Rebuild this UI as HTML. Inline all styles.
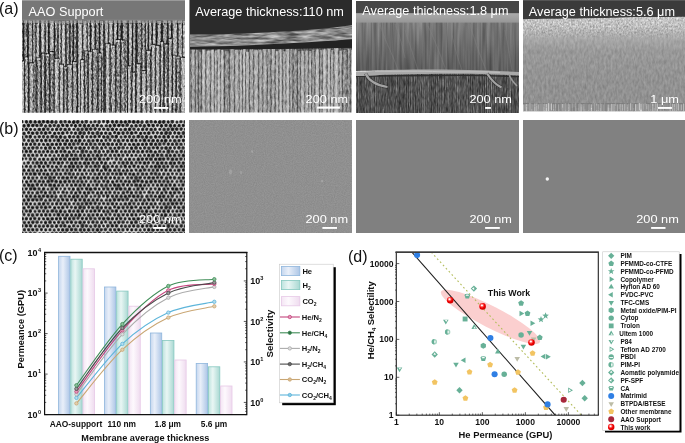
<!DOCTYPE html><html><head><meta charset="utf-8"><style>html,body{margin:0;padding:0;background:#fff;width:685px;height:443px;overflow:hidden}svg{display:block;will-change:transform}text{font-family:"Liberation Sans",sans-serif}</style></head><body>
<svg width="685" height="443" viewBox="0 0 685 443">
<defs>
<filter id="nG1" x="0" y="0" width="100%" height="100%" color-interpolation-filters="sRGB"><feTurbulence type="fractalNoise" baseFrequency="0.8 0.35" numOctaves="2" seed="3"/><feColorMatrix type="matrix" values="2.0 0 0 0 -0.5  2.0 0 0 0 -0.5  2.0 0 0 0 -0.5  0 0 0 0 1"/></filter>
<filter id="nG2" x="0" y="0" width="100%" height="100%" color-interpolation-filters="sRGB"><feTurbulence type="fractalNoise" baseFrequency="0.7 0.2" numOctaves="3" seed="5"/><feColorMatrix type="matrix" values="1.5 0 0 0 -0.25  1.5 0 0 0 -0.25  1.5 0 0 0 -0.25  0 0 0 0 1"/></filter>
<filter id="nG3" x="0" y="0" width="100%" height="100%" color-interpolation-filters="sRGB"><feTurbulence type="fractalNoise" baseFrequency="0.7 0.15" numOctaves="2" seed="7"/><feColorMatrix type="matrix" values="1.2 0 0 0 -0.1  1.2 0 0 0 -0.1  1.2 0 0 0 -0.1  0 0 0 0 1"/></filter>
<filter id="nV3" x="0" y="0" width="100%" height="100%" color-interpolation-filters="sRGB"><feTurbulence type="fractalNoise" baseFrequency="0.4 0.02" numOctaves="2" seed="17"/><feColorMatrix type="matrix" values="1.4 0 0 0 -0.2  1.4 0 0 0 -0.2  1.4 0 0 0 -0.2  0 0 0 0 1"/></filter>
<filter id="nH2" x="0" y="0" width="100%" height="100%" color-interpolation-filters="sRGB"><feTurbulence type="fractalNoise" baseFrequency="0.06 0.5" numOctaves="3" seed="23"/><feColorMatrix type="matrix" values="1.6 0 0 0 -0.3  1.6 0 0 0 -0.3  1.6 0 0 0 -0.3  0 0 0 0 1"/></filter>
<filter id="nG4" x="0" y="0" width="100%" height="100%" color-interpolation-filters="sRGB"><feTurbulence type="fractalNoise" baseFrequency="0.45 0.2" numOctaves="2" seed="9"/><feColorMatrix type="matrix" values="1.3 0 0 0 -0.15  1.3 0 0 0 -0.15  1.3 0 0 0 -0.15  0 0 0 0 1"/></filter>
<filter id="nSpk" x="0" y="0" width="100%" height="100%" color-interpolation-filters="sRGB"><feTurbulence type="fractalNoise" baseFrequency="0.6 0.5" numOctaves="2" seed="4"/><feColorMatrix type="matrix" values="1.3 0 0 0 -0.15  1.3 0 0 0 -0.15  1.3 0 0 0 -0.15  0 0 0 0 1"/></filter>
<filter id="nFine" x="0" y="0" width="100%" height="100%" color-interpolation-filters="sRGB"><feTurbulence type="fractalNoise" baseFrequency="0.9" numOctaves="2" seed="2"/><feColorMatrix type="matrix" values="0.35 0 0 0 0.38  0.35 0 0 0 0.38  0.35 0 0 0 0.38  0 0 0 0 1"/></filter>
<radialGradient id="pg0"><stop offset="0" stop-color="#0e0e0e"/><stop offset="0.55" stop-color="#262626"/><stop offset="1" stop-color="#505050"/></radialGradient>
<radialGradient id="pg1"><stop offset="0" stop-color="#181818"/><stop offset="0.55" stop-color="#303030"/><stop offset="1" stop-color="#5a5a5a"/></radialGradient>
<radialGradient id="pg2"><stop offset="0" stop-color="#080808"/><stop offset="0.55" stop-color="#202020"/><stop offset="1" stop-color="#484848"/></radialGradient>
<pattern id="pores" x="22" y="120" width="86.0" height="74.478" patternUnits="userSpaceOnUse"><rect width="86.0" height="74.478" fill="#e4e4e4"/><polygon points="-0.18,3.51 -1.92,2.70 -1.89,0.70 -0.18,-0.52 1.49,0.73 1.64,2.74" fill="url(#pg2)"/>
<polygon points="85.82,3.83 83.95,2.77 83.92,0.59 85.82,-0.49 87.57,0.68 87.70,2.78" fill="url(#pg2)"/>
<polygon points="4.37,3.92 2.81,2.74 2.62,0.83 4.37,-0.24 6.11,0.84 6.13,2.86" fill="url(#pg0)"/>
<polygon points="8.61,3.88 6.75,2.94 6.82,0.84 8.61,-0.26 10.48,0.79 10.47,2.94" fill="url(#pg0)"/>
<polygon points="13.19,3.87 11.23,2.93 11.50,0.82 13.19,-0.19 14.69,0.93 15.02,2.85" fill="url(#pg2)"/>
<polygon points="17.19,3.93 15.43,3.01 15.47,1.00 17.19,-0.01 19.17,0.85 18.90,2.99" fill="url(#pg2)"/>
<polygon points="21.52,3.66 19.50,2.79 19.65,0.55 21.52,-0.38 23.18,0.67 23.36,2.69" fill="url(#pg0)"/>
<polygon points="25.67,3.91 23.75,3.04 23.63,0.75 25.67,-0.22 27.65,0.79 27.71,3.11" fill="url(#pg2)"/>
<polygon points="29.95,3.89 28.00,2.91 28.27,0.82 29.95,-0.22 31.72,0.76 31.84,2.88" fill="url(#pg2)"/>
<polygon points="34.02,4.23 32.16,3.11 32.29,1.03 34.02,-0.16 35.74,1.04 35.77,3.04" fill="url(#pg1)"/>
<polygon points="38.82,3.93 37.12,2.87 37.20,0.95 38.82,-0.19 40.73,0.79 40.68,2.96" fill="url(#pg0)"/>
<polygon points="43.03,3.75 41.39,2.79 41.26,0.82 43.03,-0.42 44.86,0.79 44.90,2.92" fill="url(#pg1)"/>
<polygon points="47.34,3.81 45.65,2.88 45.55,0.87 47.34,0.01 49.09,0.89 49.13,2.94" fill="url(#pg2)"/>
<polygon points="51.75,4.31 49.68,3.11 50.08,0.96 51.75,-0.13 53.67,0.81 53.62,3.00" fill="url(#pg2)"/>
<polygon points="55.73,4.13 53.76,2.96 53.95,0.79 55.73,-0.30 57.77,0.64 57.50,2.84" fill="url(#pg0)"/>
<polygon points="60.27,3.88 58.77,2.89 58.51,1.00 60.27,0.12 61.74,1.17 61.81,2.91" fill="url(#pg2)"/>
<polygon points="64.28,3.91 62.48,2.75 62.25,0.54 64.28,-0.43 66.24,0.58 66.13,2.77" fill="url(#pg1)"/>
<polygon points="68.93,3.98 67.40,3.01 67.45,1.27 68.93,0.23 70.37,1.29 70.54,3.05" fill="url(#pg1)"/>
<polygon points="72.97,3.45 71.18,2.74 71.24,0.71 72.97,-0.03 74.85,0.63 74.55,2.62" fill="url(#pg1)"/>
<polygon points="77.22,4.17 75.38,2.90 75.33,0.75 77.22,-0.23 78.97,0.83 78.88,2.80" fill="url(#pg1)"/>
<polygon points="81.46,3.36 79.86,2.44 79.85,0.58 81.46,-0.34 83.25,0.48 83.20,2.51" fill="url(#pg1)"/>
<polygon points="85.80,4.17 84.08,2.93 84.32,1.09 85.80,-0.19 87.57,0.92 87.62,2.99" fill="url(#pg2)"/>
<polygon points="2.10,7.88 0.35,6.77 0.48,4.82 2.10,3.65 3.77,4.79 3.79,6.73" fill="url(#pg2)"/>
<polygon points="88.10,7.75 86.38,6.75 86.45,4.80 88.10,3.71 89.79,4.78 89.86,6.77" fill="url(#pg2)"/>
<polygon points="6.52,7.67 4.67,6.53 4.52,4.30 6.52,3.19 8.38,4.39 8.37,6.53" fill="url(#pg0)"/>
<polygon points="10.81,7.48 8.95,6.50 9.10,4.44 10.81,3.41 12.90,4.22 12.56,6.43" fill="url(#pg2)"/>
<polygon points="14.94,7.52 13.29,6.45 12.98,4.37 14.94,3.58 16.67,4.50 16.79,6.57" fill="url(#pg0)"/>
<polygon points="19.21,7.29 17.08,6.45 17.54,4.25 19.21,2.85 21.20,4.07 21.01,6.25" fill="url(#pg1)"/>
<polygon points="23.62,7.91 21.89,7.01 22.01,5.07 23.62,4.05 25.25,5.07 25.42,7.05" fill="url(#pg1)"/>
<polygon points="27.98,7.74 26.44,6.58 26.12,4.62 27.98,3.68 29.68,4.72 29.95,6.83" fill="url(#pg0)"/>
<polygon points="32.27,7.56 30.57,6.46 30.39,4.39 32.27,3.63 34.04,4.46 33.88,6.40" fill="url(#pg1)"/>
<polygon points="36.40,7.89 34.38,6.94 34.66,4.77 36.40,3.75 38.36,4.64 38.28,6.86" fill="url(#pg1)"/>
<polygon points="40.74,7.37 39.20,6.22 38.92,4.29 40.74,3.19 42.41,4.37 42.67,6.45" fill="url(#pg2)"/>
<polygon points="45.17,7.66 43.41,6.43 43.24,4.29 45.17,3.50 46.83,4.46 47.01,6.47" fill="url(#pg2)"/>
<polygon points="49.39,7.15 47.72,6.23 47.94,4.43 49.39,3.53 51.01,4.33 51.02,6.21" fill="url(#pg1)"/>
<polygon points="53.43,8.06 51.77,6.65 51.69,4.69 53.43,3.60 55.23,4.65 55.26,6.75" fill="url(#pg2)"/>
<polygon points="58.04,7.55 56.31,6.46 56.16,4.38 58.04,3.30 59.86,4.41 59.76,6.47" fill="url(#pg0)"/>
<polygon points="62.36,7.85 60.56,6.77 60.57,4.70 62.36,3.34 64.29,4.62 64.32,6.87" fill="url(#pg0)"/>
<polygon points="66.57,7.60 64.94,6.58 64.99,4.72 66.57,3.66 68.44,4.56 68.38,6.67" fill="url(#pg0)"/>
<polygon points="71.05,7.52 69.18,6.65 69.56,4.71 71.05,3.54 72.77,4.58 72.82,6.59" fill="url(#pg0)"/>
<polygon points="75.22,7.33 73.62,6.43 73.58,4.55 75.22,3.50 76.92,4.52 76.93,6.49" fill="url(#pg2)"/>
<polygon points="79.44,7.73 77.69,6.87 77.71,4.85 79.44,3.85 81.09,4.90 81.28,6.91" fill="url(#pg1)"/>
<polygon points="84.14,7.54 82.42,6.65 82.58,4.75 84.14,3.85 85.95,4.61 85.95,6.69" fill="url(#pg1)"/>
<polygon points="88.19,7.67 86.49,6.65 86.22,4.53 88.19,3.41 89.87,4.70 89.80,6.59" fill="url(#pg1)"/>
<polygon points="0.13,11.51 -1.72,10.54 -1.50,8.53 0.13,7.47 1.74,8.54 1.82,10.45" fill="url(#pg1)"/>
<polygon points="86.13,11.33 84.47,10.43 84.29,8.41 86.13,7.39 87.82,8.50 88.16,10.64" fill="url(#pg1)"/>
<polygon points="4.41,11.45 2.58,10.39 2.59,8.28 4.41,7.21 6.31,8.23 6.14,10.33" fill="url(#pg0)"/>
<polygon points="8.60,11.13 6.98,10.24 7.10,8.44 8.60,7.60 10.16,8.40 10.12,10.18" fill="url(#pg2)"/>
<polygon points="12.85,11.42 11.19,10.48 11.26,8.60 12.85,7.60 14.44,8.60 14.53,10.48" fill="url(#pg1)"/>
<polygon points="17.16,11.38 15.39,10.34 15.47,8.34 17.16,7.48 19.04,8.23 19.11,10.44" fill="url(#pg0)"/>
<polygon points="21.65,11.47 19.76,10.35 19.79,8.18 21.65,7.22 23.47,8.20 23.43,10.28" fill="url(#pg2)"/>
<polygon points="26.00,11.11 24.31,10.16 24.11,8.10 26.00,7.21 27.66,8.23 27.73,10.19" fill="url(#pg1)"/>
<polygon points="30.32,11.46 28.71,10.44 28.74,8.60 30.32,7.52 31.99,8.55 31.96,10.46" fill="url(#pg1)"/>
<polygon points="34.68,11.34 32.88,10.41 32.94,8.36 34.68,7.25 36.45,8.34 36.34,10.33" fill="url(#pg0)"/>
<polygon points="38.74,11.33 37.02,10.19 37.22,8.33 38.74,7.23 40.58,8.14 40.22,10.05" fill="url(#pg0)"/>
<polygon points="43.08,11.44 41.29,10.56 41.32,8.51 43.08,7.44 44.87,8.49 44.91,10.59" fill="url(#pg0)"/>
<polygon points="47.20,11.23 45.47,10.37 45.67,8.49 47.20,7.32 48.84,8.43 48.89,10.35" fill="url(#pg0)"/>
<polygon points="51.85,11.02 50.23,10.26 50.20,8.38 51.85,7.61 53.54,8.35 53.51,10.29" fill="url(#pg0)"/>
<polygon points="56.05,11.56 54.17,10.52 54.33,8.44 56.05,7.24 57.89,8.37 57.93,10.52" fill="url(#pg1)"/>
<polygon points="60.19,11.41 58.38,10.31 58.44,8.26 60.19,7.20 61.86,8.30 61.96,10.29" fill="url(#pg1)"/>
<polygon points="64.50,11.40 62.57,10.34 62.45,8.05 64.50,7.10 66.64,7.99 66.43,10.35" fill="url(#pg0)"/>
<polygon points="68.76,11.15 67.02,10.21 66.90,8.12 68.76,7.04 70.64,8.11 70.54,10.22" fill="url(#pg0)"/>
<polygon points="73.14,11.08 71.42,10.06 71.36,8.05 73.14,7.02 75.00,7.99 74.65,9.95" fill="url(#pg0)"/>
<polygon points="77.32,11.21 75.69,10.18 75.60,8.25 77.32,7.37 78.94,8.30 79.06,10.25" fill="url(#pg1)"/>
<polygon points="81.69,10.80 79.94,10.15 80.01,8.17 81.69,7.28 83.26,8.24 83.56,10.22" fill="url(#pg0)"/>
<polygon points="85.84,11.26 84.52,10.11 84.31,8.46 85.84,7.56 87.41,8.45 87.48,10.29" fill="url(#pg0)"/>
<polygon points="2.01,15.62 0.21,14.46 0.19,12.38 2.01,11.41 3.78,12.40 3.86,14.50" fill="url(#pg0)"/>
<polygon points="88.01,15.59 86.25,14.44 86.34,12.47 88.01,11.32 89.87,12.35 89.75,14.43" fill="url(#pg0)"/>
<polygon points="6.55,14.44 4.99,13.68 4.98,11.87 6.55,10.75 8.34,11.74 8.16,13.71" fill="url(#pg0)"/>
<polygon points="10.75,15.08 8.73,14.23 8.91,12.00 10.75,11.19 12.43,12.10 12.56,14.11" fill="url(#pg2)"/>
<polygon points="14.99,15.27 13.33,13.98 13.20,11.99 14.99,10.90 16.88,11.93 16.77,14.05" fill="url(#pg0)"/>
<polygon points="19.38,14.93 17.59,14.01 17.72,12.02 19.38,10.79 21.01,12.04 21.11,13.97" fill="url(#pg1)"/>
<polygon points="23.60,15.21 21.61,14.16 21.76,11.96 23.60,10.90 25.50,11.92 25.59,14.16" fill="url(#pg2)"/>
<polygon points="27.99,14.41 26.23,13.82 26.13,11.73 27.99,10.91 29.62,11.87 29.65,13.76" fill="url(#pg2)"/>
<polygon points="32.58,15.33 30.96,14.17 30.94,12.29 32.58,11.30 34.30,12.24 34.37,14.27" fill="url(#pg2)"/>
<polygon points="36.64,14.92 35.09,13.97 35.00,12.12 36.64,11.31 38.33,12.09 38.44,14.11" fill="url(#pg0)"/>
<polygon points="40.79,15.10 38.95,14.22 39.02,12.13 40.79,10.94 42.61,12.10 42.63,14.21" fill="url(#pg2)"/>
<polygon points="45.26,14.76 43.61,13.76 43.60,11.84 45.26,10.79 46.73,11.95 46.80,13.69" fill="url(#pg0)"/>
<polygon points="49.33,14.89 47.86,13.74 47.68,11.94 49.33,10.97 51.10,11.87 50.81,13.74" fill="url(#pg1)"/>
<polygon points="53.51,15.05 51.61,14.14 51.84,12.08 53.51,11.05 55.26,12.04 55.33,14.10" fill="url(#pg0)"/>
<polygon points="58.08,15.31 55.98,14.12 56.34,11.90 58.08,10.73 60.23,11.66 59.90,13.96" fill="url(#pg0)"/>
<polygon points="62.08,15.27 60.18,14.16 60.20,11.98 62.08,10.92 63.93,11.99 64.07,14.21" fill="url(#pg1)"/>
<polygon points="66.66,14.80 65.05,13.77 65.22,12.01 66.66,10.75 68.29,11.90 68.38,13.83" fill="url(#pg0)"/>
<polygon points="70.93,15.09 69.11,14.13 68.92,11.92 70.93,11.26 72.71,12.05 72.63,14.06" fill="url(#pg0)"/>
<polygon points="75.41,15.33 73.37,14.15 73.37,11.80 75.41,10.71 77.50,11.76 77.43,14.14" fill="url(#pg1)"/>
<polygon points="79.38,15.31 77.61,14.27 77.79,12.34 79.38,11.15 81.15,12.23 81.02,14.20" fill="url(#pg0)"/>
<polygon points="83.81,14.96 82.03,14.23 82.05,12.19 83.81,11.21 85.48,12.23 85.43,14.14" fill="url(#pg2)"/>
<polygon points="88.19,15.25 86.41,14.18 86.35,12.09 88.19,11.06 90.07,12.07 89.92,14.15" fill="url(#pg2)"/>
<polygon points="-0.26,19.16 -2.27,18.14 -2.10,15.93 -0.26,14.89 1.58,15.92 1.56,18.04" fill="url(#pg0)"/>
<polygon points="85.74,19.23 84.00,17.99 83.82,15.88 85.74,14.80 87.59,15.92 87.68,18.11" fill="url(#pg0)"/>
<polygon points="4.27,18.54 2.63,17.64 2.54,15.69 4.27,14.66 6.13,15.63 6.18,17.80" fill="url(#pg1)"/>
<polygon points="8.30,18.87 6.43,17.84 6.44,15.68 8.30,14.38 10.22,15.65 10.01,17.74" fill="url(#pg2)"/>
<polygon points="13.06,18.92 11.49,17.82 11.46,15.99 13.06,15.02 14.59,16.03 14.67,17.84" fill="url(#pg1)"/>
<polygon points="17.23,18.74 15.56,17.67 15.43,15.67 17.23,14.80 19.06,15.65 18.96,17.70" fill="url(#pg0)"/>
<polygon points="21.56,18.85 19.78,17.73 19.71,15.63 21.56,14.53 23.32,15.69 23.20,17.65" fill="url(#pg1)"/>
<polygon points="25.73,18.89 24.00,17.91 24.03,15.93 25.73,14.88 27.54,15.86 27.42,17.89" fill="url(#pg1)"/>
<polygon points="30.35,18.67 28.26,17.78 28.37,15.44 30.35,14.51 32.21,15.50 32.27,17.69" fill="url(#pg0)"/>
<polygon points="34.30,18.89 32.37,17.95 32.46,15.77 34.30,14.78 36.12,15.78 35.99,17.81" fill="url(#pg1)"/>
<polygon points="38.63,19.01 36.79,17.94 36.78,15.80 38.63,14.67 40.45,15.82 40.39,17.89" fill="url(#pg2)"/>
<polygon points="42.91,19.23 41.12,18.04 41.28,16.07 42.91,15.03 44.68,15.98 44.83,18.12" fill="url(#pg1)"/>
<polygon points="47.53,18.90 45.91,17.58 45.72,15.61 47.53,14.67 49.37,15.59 49.45,17.76" fill="url(#pg2)"/>
<polygon points="51.74,18.70 49.90,17.90 49.93,15.79 51.74,14.78 53.39,15.88 53.39,17.78" fill="url(#pg1)"/>
<polygon points="55.99,18.83 54.13,17.85 54.19,15.73 55.99,14.73 57.71,15.78 57.79,17.81" fill="url(#pg2)"/>
<polygon points="60.31,18.93 58.54,17.76 58.54,15.71 60.31,14.66 62.05,15.73 62.13,17.78" fill="url(#pg2)"/>
<polygon points="64.73,18.77 63.21,17.58 63.22,15.83 64.73,14.91 66.43,15.72 66.29,17.60" fill="url(#pg1)"/>
<polygon points="68.92,18.68 67.20,17.87 67.24,15.90 68.92,14.96 70.59,15.91 70.59,17.84" fill="url(#pg2)"/>
<polygon points="72.90,18.68 71.17,17.67 71.21,15.70 72.90,14.76 74.71,15.63 74.65,17.69" fill="url(#pg2)"/>
<polygon points="77.21,18.47 75.50,17.49 75.54,15.54 77.21,14.57 79.01,15.47 78.87,17.46" fill="url(#pg2)"/>
<polygon points="81.74,18.91 80.11,17.79 80.01,15.85 81.74,14.83 83.40,15.89 83.68,17.97" fill="url(#pg2)"/>
<polygon points="86.02,18.85 84.41,17.75 84.24,15.80 86.02,14.89 87.79,15.80 87.80,17.85" fill="url(#pg1)"/>
<polygon points="2.10,22.20 0.39,21.12 0.37,19.13 2.10,17.97 3.63,19.25 3.80,21.11" fill="url(#pg1)"/>
<polygon points="88.10,21.98 86.41,21.11 86.52,19.21 88.10,18.01 89.89,19.10 89.78,21.10" fill="url(#pg1)"/>
<polygon points="6.54,22.62 5.08,21.39 4.91,19.61 6.54,18.50 8.26,19.56 8.14,21.48" fill="url(#pg1)"/>
<polygon points="10.68,22.97 8.93,21.74 8.55,19.50 10.68,18.48 12.44,19.72 12.65,21.86" fill="url(#pg1)"/>
<polygon points="15.03,22.36 13.39,21.31 13.28,19.35 15.03,18.66 17.03,19.21 16.67,21.31" fill="url(#pg0)"/>
<polygon points="19.38,22.62 17.83,21.41 17.67,19.53 19.38,18.49 21.08,19.54 21.18,21.56" fill="url(#pg0)"/>
<polygon points="23.84,22.58 22.15,21.49 22.01,19.46 23.84,18.40 25.63,19.48 25.62,21.54" fill="url(#pg2)"/>
<polygon points="28.05,22.57 26.34,21.42 26.40,19.48 28.05,18.41 29.50,19.59 29.68,21.37" fill="url(#pg2)"/>
<polygon points="32.16,22.27 30.67,21.39 30.69,19.68 32.16,18.67 33.89,19.53 33.68,21.40" fill="url(#pg1)"/>
<polygon points="36.49,22.49 34.54,21.51 34.44,19.19 36.49,18.22 38.34,19.31 38.43,21.50" fill="url(#pg2)"/>
<polygon points="40.85,22.23 39.15,21.35 39.18,19.40 40.85,18.82 42.50,19.41 42.44,21.29" fill="url(#pg2)"/>
<polygon points="44.99,22.71 43.10,21.58 43.31,19.53 44.99,18.55 46.90,19.39 46.95,21.63" fill="url(#pg2)"/>
<polygon points="49.61,22.73 47.98,21.54 47.89,19.61 49.61,18.58 51.38,19.58 51.25,21.55" fill="url(#pg0)"/>
<polygon points="53.67,22.56 52.13,21.54 52.20,19.80 53.67,18.61 55.32,19.70 55.33,21.61" fill="url(#pg2)"/>
<polygon points="57.70,22.95 55.73,21.83 55.82,19.61 57.70,18.39 59.77,19.49 59.47,21.72" fill="url(#pg2)"/>
<polygon points="62.41,22.35 60.64,21.59 60.94,19.72 62.41,18.69 63.90,19.71 63.92,21.44" fill="url(#pg1)"/>
<polygon points="66.74,22.86 64.80,21.75 64.84,19.53 66.74,18.54 68.65,19.53 68.72,21.77" fill="url(#pg1)"/>
<polygon points="71.02,22.69 69.39,21.71 69.21,19.73 71.02,18.71 72.84,19.72 72.62,21.70" fill="url(#pg0)"/>
<polygon points="75.34,22.50 73.68,21.39 73.49,19.36 75.34,18.40 77.14,19.39 76.97,21.37" fill="url(#pg2)"/>
<polygon points="79.48,22.49 77.87,21.50 77.87,19.64 79.48,18.80 81.08,19.65 81.07,21.49" fill="url(#pg2)"/>
<polygon points="83.86,22.35 82.34,21.29 82.19,19.45 83.86,18.30 85.53,19.44 85.52,21.37" fill="url(#pg1)"/>
<polygon points="87.94,22.67 86.42,21.46 86.27,19.62 87.94,18.54 89.46,19.71 89.62,21.55" fill="url(#pg2)"/>
<polygon points="0.23,26.36 -1.61,25.22 -1.65,23.07 0.23,22.06 2.02,23.12 2.10,25.24" fill="url(#pg0)"/>
<polygon points="86.23,26.45 84.58,25.11 84.33,23.06 86.23,22.01 88.08,23.09 88.04,25.20" fill="url(#pg0)"/>
<polygon points="4.37,26.23 2.53,25.34 2.61,23.26 4.37,22.12 6.13,23.26 6.02,25.23" fill="url(#pg0)"/>
<polygon points="8.69,26.20 7.00,25.24 7.18,23.39 8.69,22.34 10.13,23.44 10.27,25.18" fill="url(#pg2)"/>
<polygon points="12.80,25.98 11.01,25.03 11.07,23.00 12.80,22.16 14.59,22.97 14.55,25.01" fill="url(#pg0)"/>
<polygon points="17.15,26.30 15.47,25.24 15.64,23.40 17.15,22.26 18.73,23.35 18.70,25.17" fill="url(#pg0)"/>
<polygon points="21.56,26.19 19.90,25.36 19.74,23.35 21.56,22.50 23.06,23.53 23.37,25.45" fill="url(#pg0)"/>
<polygon points="25.78,26.43 24.05,25.40 23.91,23.32 25.78,22.61 27.50,23.41 27.72,25.52" fill="url(#pg2)"/>
<polygon points="30.12,26.40 28.29,25.40 28.34,23.32 30.12,22.32 32.02,23.24 31.99,25.43" fill="url(#pg2)"/>
<polygon points="34.46,26.32 32.73,25.33 32.76,23.34 34.46,22.35 36.21,23.32 36.07,25.26" fill="url(#pg2)"/>
<polygon points="38.44,26.23 36.76,25.15 36.75,23.20 38.44,22.06 40.07,23.24 40.08,25.12" fill="url(#pg2)"/>
<polygon points="43.18,26.20 41.37,25.22 41.06,22.95 43.18,22.00 45.11,23.06 44.92,25.18" fill="url(#pg2)"/>
<polygon points="47.60,26.36 45.76,25.38 45.89,23.34 47.60,22.04 49.37,23.30 49.40,25.36" fill="url(#pg0)"/>
<polygon points="51.83,26.25 50.00,25.21 49.85,23.01 51.83,21.88 53.62,23.12 53.65,25.21" fill="url(#pg1)"/>
<polygon points="55.89,25.81 54.28,24.83 54.25,22.95 55.89,21.82 57.71,22.85 57.71,24.95" fill="url(#pg1)"/>
<polygon points="60.29,26.16 58.62,25.08 58.62,23.15 60.29,22.14 62.02,23.12 61.83,25.00" fill="url(#pg2)"/>
<polygon points="64.42,26.15 62.61,25.23 62.77,23.24 64.42,22.17 66.06,23.24 66.17,25.20" fill="url(#pg0)"/>
<polygon points="68.74,26.20 66.78,25.16 66.98,23.02 68.74,21.82 70.56,22.98 70.53,25.07" fill="url(#pg1)"/>
<polygon points="73.12,25.99 71.27,25.22 71.17,23.03 73.12,22.27 74.68,23.25 74.97,25.22" fill="url(#pg1)"/>
<polygon points="77.48,26.03 75.77,25.19 75.68,23.17 77.48,22.17 79.23,23.20 79.19,25.19" fill="url(#pg1)"/>
<polygon points="81.58,26.26 79.78,25.27 79.83,23.22 81.58,22.10 83.42,23.17 83.48,25.33" fill="url(#pg2)"/>
<polygon points="85.89,25.90 84.14,24.93 84.24,22.97 85.89,22.00 87.75,22.85 87.76,25.00" fill="url(#pg0)"/>
<polygon points="2.45,30.08 0.65,29.13 0.38,26.90 2.45,26.22 4.19,27.09 4.31,29.17" fill="url(#pg1)"/>
<polygon points="88.45,30.14 86.65,29.14 86.72,27.10 88.45,26.23 90.36,27.00 90.33,29.19" fill="url(#pg1)"/>
<polygon points="6.68,29.88 5.25,28.98 5.17,27.27 6.68,26.32 8.40,27.16 8.17,29.00" fill="url(#pg2)"/>
<polygon points="10.89,29.98 9.16,28.87 8.96,26.76 10.89,25.74 12.85,26.74 12.57,28.85" fill="url(#pg0)"/>
<polygon points="15.02,29.75 13.18,28.75 13.20,26.64 15.02,25.72 16.89,26.61 16.94,28.79" fill="url(#pg1)"/>
<polygon points="19.35,29.47 17.64,28.90 18.03,27.15 19.35,26.13 20.87,27.03 20.74,28.71" fill="url(#pg1)"/>
<polygon points="23.58,30.17 21.91,29.03 21.84,27.05 23.58,25.95 25.28,27.08 25.28,29.04" fill="url(#pg2)"/>
<polygon points="27.97,29.87 26.05,29.00 26.11,26.82 27.97,25.57 29.90,26.78 29.92,29.02" fill="url(#pg0)"/>
<polygon points="32.35,29.81 30.95,28.91 30.73,27.17 32.35,26.38 33.84,27.25 34.02,29.07" fill="url(#pg2)"/>
<polygon points="36.60,29.72 34.95,28.69 35.05,26.85 36.60,25.81 38.39,26.71 38.37,28.77" fill="url(#pg0)"/>
<polygon points="40.94,30.24 39.12,28.99 38.98,26.81 40.94,25.95 42.70,26.92 42.86,29.05" fill="url(#pg1)"/>
<polygon points="45.27,29.65 43.67,28.76 43.49,26.81 45.27,25.88 46.93,26.88 46.98,28.82" fill="url(#pg0)"/>
<polygon points="49.42,29.79 47.73,28.79 47.51,26.71 49.42,25.77 51.20,26.79 51.22,28.85" fill="url(#pg2)"/>
<polygon points="53.87,30.11 52.14,29.05 52.08,27.02 53.87,26.13 55.79,26.95 55.36,28.92" fill="url(#pg1)"/>
<polygon points="58.10,30.04 56.13,29.05 56.22,26.82 58.10,25.83 59.87,26.89 59.91,28.95" fill="url(#pg2)"/>
<polygon points="62.22,29.75 60.47,28.78 60.47,26.76 62.22,26.07 64.00,26.75 63.81,28.70" fill="url(#pg2)"/>
<polygon points="66.70,30.00 65.13,28.62 65.00,26.73 66.70,25.80 68.22,26.84 68.15,28.55" fill="url(#pg1)"/>
<polygon points="71.02,29.74 69.08,28.87 69.18,26.69 71.02,25.69 72.84,26.70 72.67,28.70" fill="url(#pg0)"/>
<polygon points="74.99,29.87 73.26,28.87 73.36,26.92 74.99,25.76 76.82,26.81 76.95,28.99" fill="url(#pg1)"/>
<polygon points="79.62,30.12 78.02,28.94 78.05,27.11 79.62,25.92 81.13,27.15 81.25,28.96" fill="url(#pg0)"/>
<polygon points="83.65,29.34 82.17,28.56 81.98,26.73 83.65,25.67 85.29,26.76 85.36,28.69" fill="url(#pg1)"/>
<polygon points="87.95,30.52 85.96,29.53 86.20,27.37 87.95,26.24 89.75,27.34 89.65,29.36" fill="url(#pg0)"/>
<polygon points="-0.10,33.53 -1.87,32.51 -1.97,30.40 -0.10,29.46 1.78,30.40 1.76,32.56" fill="url(#pg1)"/>
<polygon points="85.90,33.52 84.08,32.54 83.99,30.38 85.90,29.18 87.65,30.47 87.79,32.58" fill="url(#pg1)"/>
<polygon points="4.30,33.44 2.59,32.53 2.46,30.49 4.30,29.39 6.11,30.50 6.09,32.58" fill="url(#pg2)"/>
<polygon points="8.62,33.48 6.60,32.63 6.75,30.39 8.62,29.38 10.43,30.42 10.41,32.50" fill="url(#pg0)"/>
<polygon points="13.35,33.54 11.76,32.52 11.98,30.81 13.35,29.71 14.99,30.66 14.91,32.50" fill="url(#pg0)"/>
<polygon points="17.39,33.69 15.64,32.65 15.66,30.64 17.39,29.83 19.15,30.62 19.17,32.67" fill="url(#pg1)"/>
<polygon points="21.50,33.73 19.66,32.65 19.83,30.63 21.50,29.69 23.19,30.62 23.28,32.63" fill="url(#pg1)"/>
<polygon points="25.72,33.44 23.99,32.50 24.03,30.53 25.72,29.57 27.41,30.53 27.36,32.45" fill="url(#pg2)"/>
<polygon points="29.98,33.78 28.07,32.77 28.22,30.65 29.98,29.54 31.80,30.61 31.96,32.81" fill="url(#pg1)"/>
<polygon points="34.58,33.75 32.54,32.79 32.89,30.63 34.58,29.49 36.41,30.56 36.26,32.58" fill="url(#pg2)"/>
<polygon points="38.83,33.46 37.28,32.46 37.18,30.62 38.83,29.55 40.80,30.43 40.45,32.50" fill="url(#pg0)"/>
<polygon points="42.88,33.50 40.98,32.59 41.15,30.50 42.88,29.32 44.65,30.48 44.79,32.60" fill="url(#pg0)"/>
<polygon points="47.28,33.83 45.50,32.94 45.68,30.98 47.28,30.08 48.90,30.97 49.06,32.94" fill="url(#pg2)"/>
<polygon points="51.59,33.35 49.90,32.49 49.81,30.48 51.59,29.45 53.49,30.41 53.52,32.62" fill="url(#pg1)"/>
<polygon points="55.83,33.39 54.29,32.55 54.28,30.76 55.83,30.16 57.24,30.85 57.41,32.57" fill="url(#pg0)"/>
<polygon points="60.37,34.12 58.34,32.68 58.30,30.31 60.37,28.89 62.45,30.31 62.48,32.73" fill="url(#pg1)"/>
<polygon points="64.46,33.55 62.66,32.59 62.49,30.41 64.46,29.66 66.36,30.45 66.28,32.60" fill="url(#pg1)"/>
<polygon points="68.84,33.90 67.09,32.88 67.07,30.84 68.84,29.97 70.37,30.98 70.57,32.86" fill="url(#pg1)"/>
<polygon points="73.19,33.69 71.32,32.39 71.41,30.29 73.19,29.20 75.10,30.21 75.05,32.39" fill="url(#pg1)"/>
<polygon points="77.32,33.92 75.48,32.76 75.59,30.70 77.32,29.36 79.06,30.70 78.99,32.66" fill="url(#pg1)"/>
<polygon points="81.57,33.30 80.08,32.39 79.95,30.60 81.57,29.74 82.99,30.71 83.05,32.39" fill="url(#pg0)"/>
<polygon points="85.93,33.72 84.39,32.84 84.37,31.06 85.93,29.96 87.55,31.02 87.40,32.81" fill="url(#pg0)"/>
<polygon points="2.22,37.34 0.54,36.33 0.58,34.42 2.22,33.38 3.99,34.34 4.03,36.41" fill="url(#pg1)"/>
<polygon points="88.22,37.53 86.36,36.44 86.68,34.47 88.22,33.51 89.84,34.42 89.85,36.30" fill="url(#pg1)"/>
<polygon points="6.63,37.33 5.04,36.28 4.84,34.33 6.63,33.47 8.48,34.29 8.46,36.42" fill="url(#pg1)"/>
<polygon points="10.73,37.24 9.15,36.22 9.00,34.31 10.73,33.37 12.41,34.34 12.58,36.37" fill="url(#pg2)"/>
<polygon points="14.96,37.41 13.16,36.36 13.24,34.32 14.96,33.33 16.62,34.36 16.75,36.35" fill="url(#pg1)"/>
<polygon points="19.36,36.92 17.80,36.05 17.90,34.31 19.36,33.37 20.89,34.27 21.01,36.11" fill="url(#pg2)"/>
<polygon points="23.71,37.35 22.16,36.33 22.13,34.52 23.71,33.62 25.25,34.54 25.30,36.35" fill="url(#pg2)"/>
<polygon points="28.01,36.92 26.20,36.37 26.45,34.41 28.01,33.47 29.57,34.42 29.69,36.28" fill="url(#pg0)"/>
<polygon points="32.29,37.45 30.65,36.60 30.66,34.71 32.29,33.72 33.75,34.81 33.80,36.52" fill="url(#pg1)"/>
<polygon points="36.52,37.22 34.95,36.17 34.99,34.38 36.52,33.55 38.22,34.28 38.12,36.19" fill="url(#pg1)"/>
<polygon points="40.79,37.39 39.01,36.45 39.00,34.39 40.79,33.29 42.49,34.45 42.53,36.43" fill="url(#pg2)"/>
<polygon points="45.01,37.67 43.09,36.49 43.08,34.27 45.01,33.27 46.96,34.26 46.88,36.46" fill="url(#pg0)"/>
<polygon points="49.50,37.26 47.74,36.26 47.72,34.21 49.50,33.10 51.45,34.11 51.32,36.29" fill="url(#pg0)"/>
<polygon points="53.75,37.25 51.94,36.34 51.76,34.15 53.75,33.10 55.64,34.20 55.72,36.43" fill="url(#pg1)"/>
<polygon points="58.35,37.51 56.56,36.49 56.62,34.46 58.35,33.23 60.26,34.36 60.13,36.48" fill="url(#pg1)"/>
<polygon points="62.33,37.43 60.76,36.44 60.53,34.50 62.33,33.48 63.97,34.59 63.89,36.43" fill="url(#pg0)"/>
<polygon points="66.63,37.61 64.77,36.59 64.71,34.41 66.63,33.15 68.40,34.50 68.58,36.65" fill="url(#pg0)"/>
<polygon points="71.09,37.49 69.40,36.33 69.33,34.34 71.09,33.35 72.83,34.36 72.59,36.22" fill="url(#pg1)"/>
<polygon points="75.33,37.52 73.47,36.58 73.48,34.43 75.33,33.32 77.11,34.47 77.27,36.62" fill="url(#pg2)"/>
<polygon points="79.20,37.27 77.63,36.25 77.50,34.36 79.20,33.43 81.14,34.23 80.84,36.29" fill="url(#pg1)"/>
<polygon points="83.38,37.04 81.49,36.31 81.56,34.17 83.38,32.97 85.33,34.10 85.19,36.27" fill="url(#pg1)"/>
<polygon points="88.19,37.08 86.54,36.06 86.35,34.05 88.19,33.09 90.04,34.04 90.07,36.19" fill="url(#pg0)"/>
<polygon points="0.12,40.82 -1.56,39.89 -1.60,37.92 0.12,36.96 1.93,37.87 1.73,39.85" fill="url(#pg2)"/>
<polygon points="86.12,41.00 84.29,39.97 84.41,37.93 86.12,36.71 87.67,38.02 87.77,39.87" fill="url(#pg2)"/>
<polygon points="4.09,40.37 2.67,39.47 2.56,37.76 4.09,36.94 5.57,37.79 5.42,39.41" fill="url(#pg1)"/>
<polygon points="8.36,41.13 6.55,40.00 6.59,37.94 8.36,36.81 10.18,37.91 10.19,40.02" fill="url(#pg1)"/>
<polygon points="12.73,41.19 11.01,40.09 10.89,38.04 12.73,37.03 14.61,38.01 14.57,40.16" fill="url(#pg1)"/>
<polygon points="17.50,41.06 15.91,40.17 16.05,38.41 17.50,37.39 19.23,38.25 19.05,40.14" fill="url(#pg1)"/>
<polygon points="21.60,41.25 19.94,40.20 19.81,38.20 21.60,37.30 23.36,38.22 23.19,40.15" fill="url(#pg2)"/>
<polygon points="25.79,41.26 24.22,40.10 24.21,38.27 25.79,37.38 27.53,38.18 27.48,40.17" fill="url(#pg1)"/>
<polygon points="30.23,41.52 28.50,40.30 28.52,38.32 30.23,37.11 31.97,38.29 32.01,40.33" fill="url(#pg2)"/>
<polygon points="34.23,41.24 32.50,40.05 32.52,38.07 34.23,36.98 36.16,37.94 35.93,40.04" fill="url(#pg0)"/>
<polygon points="38.66,40.90 36.77,40.04 36.85,37.90 38.66,36.95 40.49,37.89 40.37,39.94" fill="url(#pg2)"/>
<polygon points="42.93,41.10 41.06,40.11 40.93,37.88 42.93,36.95 44.84,37.93 44.93,40.19" fill="url(#pg0)"/>
<polygon points="47.64,41.26 46.01,40.12 45.79,38.11 47.64,37.14 49.59,38.06 49.32,40.15" fill="url(#pg2)"/>
<polygon points="51.81,41.21 49.77,40.23 49.91,37.96 51.81,36.89 53.89,37.85 53.83,40.22" fill="url(#pg2)"/>
<polygon points="55.76,41.19 53.92,40.03 53.80,37.84 55.76,36.94 57.51,37.96 57.43,39.93" fill="url(#pg0)"/>
<polygon points="59.97,40.82 58.27,39.83 58.34,37.91 59.97,36.68 61.75,37.82 61.72,39.86" fill="url(#pg0)"/>
<polygon points="64.53,41.36 62.41,40.31 62.55,37.94 64.53,37.02 66.37,38.02 66.53,40.24" fill="url(#pg0)"/>
<polygon points="68.67,41.28 66.77,40.30 66.93,38.20 68.67,37.28 70.60,38.09 70.26,40.12" fill="url(#pg0)"/>
<polygon points="72.98,40.84 71.16,39.97 71.09,37.83 72.98,36.98 74.83,37.85 74.71,39.93" fill="url(#pg0)"/>
<polygon points="77.44,41.26 75.48,40.09 75.80,38.01 77.44,36.81 79.39,37.83 79.49,40.14" fill="url(#pg2)"/>
<polygon points="81.86,40.99 80.13,40.00 80.21,38.04 81.86,37.18 83.35,38.14 83.75,40.09" fill="url(#pg1)"/>
<polygon points="85.91,41.16 84.26,40.02 83.98,37.95 85.91,37.00 87.77,37.99 87.69,40.09" fill="url(#pg2)"/>
<polygon points="2.22,44.94 0.79,44.00 0.76,42.33 2.22,41.37 3.51,42.43 3.63,43.99" fill="url(#pg1)"/>
<polygon points="88.22,45.07 86.71,44.04 86.79,42.35 88.22,41.57 89.80,42.26 89.58,43.96" fill="url(#pg1)"/>
<polygon points="6.29,44.79 4.58,43.80 4.38,41.72 6.29,40.94 8.20,41.71 7.89,43.74" fill="url(#pg0)"/>
<polygon points="10.86,44.75 9.37,43.69 9.42,42.00 10.86,40.83 12.57,41.84 12.67,43.87" fill="url(#pg1)"/>
<polygon points="15.10,44.98 13.12,43.92 13.21,41.69 15.10,40.63 16.86,41.76 16.90,43.83" fill="url(#pg0)"/>
<polygon points="19.21,44.87 17.46,43.74 17.33,41.65 19.21,40.67 20.90,41.75 21.16,43.86" fill="url(#pg0)"/>
<polygon points="23.63,45.06 21.83,43.89 21.80,41.79 23.63,40.79 25.23,41.93 25.38,43.86" fill="url(#pg0)"/>
<polygon points="28.09,44.78 26.48,43.74 26.44,41.86 28.09,40.83 29.83,41.81 29.69,43.74" fill="url(#pg1)"/>
<polygon points="32.03,44.63 30.48,43.61 30.39,41.77 32.03,40.86 33.77,41.72 33.81,43.75" fill="url(#pg2)"/>
<polygon points="36.53,45.14 34.64,43.96 34.61,41.76 36.53,40.85 38.51,41.73 38.39,43.95" fill="url(#pg2)"/>
<polygon points="40.53,44.69 38.74,43.85 38.85,41.85 40.53,40.75 42.17,41.87 42.06,43.70" fill="url(#pg0)"/>
<polygon points="45.16,44.53 43.37,43.72 43.50,41.72 45.16,40.78 46.87,41.69 46.85,43.66" fill="url(#pg1)"/>
<polygon points="49.57,45.13 47.75,44.17 47.69,42.04 49.57,41.00 51.46,42.03 51.32,44.13" fill="url(#pg0)"/>
<polygon points="53.81,45.04 51.98,43.99 52.04,41.91 53.81,40.95 55.71,41.84 55.55,43.94" fill="url(#pg2)"/>
<polygon points="58.04,44.95 56.30,43.83 56.36,41.85 58.04,40.96 59.69,41.87 59.83,43.85" fill="url(#pg0)"/>
<polygon points="62.66,45.07 60.55,44.29 60.67,41.92 62.66,40.86 64.67,41.92 64.47,44.12" fill="url(#pg0)"/>
<polygon points="66.52,45.20 64.84,43.99 64.78,42.01 66.52,41.23 68.21,42.04 68.15,43.96" fill="url(#pg2)"/>
<polygon points="70.91,44.75 69.15,43.81 69.20,41.81 70.91,40.71 72.80,41.70 72.75,43.85" fill="url(#pg0)"/>
<polygon points="75.26,44.96 73.39,43.99 73.45,41.88 75.26,40.98 77.04,41.89 76.98,43.91" fill="url(#pg0)"/>
<polygon points="79.56,44.66 77.88,43.70 77.92,41.78 79.56,40.60 81.28,41.73 81.19,43.67" fill="url(#pg2)"/>
<polygon points="83.55,45.08 81.74,44.07 82.01,42.14 83.55,40.96 85.37,41.97 85.35,44.06" fill="url(#pg0)"/>
<polygon points="88.43,44.56 86.67,43.73 86.53,41.61 88.43,40.72 89.99,41.81 90.16,43.71" fill="url(#pg1)"/>
<polygon points="-0.10,48.44 -1.83,47.55 -1.75,45.59 -0.10,44.63 1.55,45.60 1.73,47.60" fill="url(#pg0)"/>
<polygon points="85.90,48.43 84.34,47.45 84.17,45.54 85.90,44.79 87.48,45.63 87.80,47.64" fill="url(#pg0)"/>
<polygon points="4.26,48.20 2.55,47.47 2.71,45.59 4.26,44.45 5.94,45.51 6.01,47.49" fill="url(#pg2)"/>
<polygon points="8.57,48.76 6.64,47.67 6.90,45.59 8.57,44.36 10.39,45.50 10.43,47.62" fill="url(#pg1)"/>
<polygon points="12.97,48.50 11.39,47.48 11.41,45.67 12.97,44.52 14.56,45.66 14.77,47.61" fill="url(#pg1)"/>
<polygon points="17.27,48.60 15.56,47.36 15.39,45.29 17.27,44.08 18.99,45.38 19.16,47.46" fill="url(#pg2)"/>
<polygon points="21.54,48.58 19.80,47.52 19.89,45.56 21.54,44.63 23.17,45.57 23.42,47.60" fill="url(#pg2)"/>
<polygon points="25.95,48.33 24.29,47.27 24.14,45.27 25.95,44.19 27.91,45.18 27.56,47.24" fill="url(#pg2)"/>
<polygon points="30.14,48.54 28.61,47.53 28.60,45.76 30.14,44.57 31.84,45.67 31.83,47.63" fill="url(#pg2)"/>
<polygon points="34.53,48.78 32.81,47.76 32.64,45.68 34.53,45.03 36.12,45.85 36.27,47.78" fill="url(#pg2)"/>
<polygon points="38.84,48.38 37.23,47.29 37.20,45.41 38.84,44.55 40.63,45.32 40.42,47.27" fill="url(#pg1)"/>
<polygon points="43.20,48.44 41.53,47.61 41.61,45.72 43.20,44.61 45.05,45.57 44.87,47.61" fill="url(#pg0)"/>
<polygon points="47.41,48.68 45.63,47.58 45.54,45.46 47.41,44.56 49.36,45.42 49.34,47.66" fill="url(#pg2)"/>
<polygon points="51.41,48.73 49.39,47.66 49.53,45.41 51.41,44.55 53.36,45.37 53.27,47.57" fill="url(#pg2)"/>
<polygon points="55.87,48.85 54.06,47.55 53.89,45.37 55.87,44.47 57.68,45.46 57.86,47.66" fill="url(#pg1)"/>
<polygon points="59.78,48.51 58.26,47.48 58.07,45.62 59.78,44.61 61.46,45.63 61.21,47.43" fill="url(#pg2)"/>
<polygon points="64.56,48.68 62.64,47.71 62.64,45.49 64.56,44.45 66.43,45.52 66.29,47.60" fill="url(#pg1)"/>
<polygon points="68.71,48.44 66.95,47.58 67.01,45.59 68.71,44.69 70.61,45.47 70.64,47.68" fill="url(#pg1)"/>
<polygon points="73.17,48.52 71.36,47.51 71.32,45.39 73.17,44.25 75.01,45.41 75.05,47.54" fill="url(#pg2)"/>
<polygon points="77.09,48.66 75.17,47.48 75.24,45.30 77.09,44.24 78.94,45.30 78.73,47.31" fill="url(#pg1)"/>
<polygon points="81.99,48.87 80.04,47.85 80.10,45.63 81.99,44.52 83.70,45.74 83.91,47.83" fill="url(#pg2)"/>
<polygon points="86.16,48.94 84.34,47.67 84.30,45.55 86.16,44.48 87.99,45.57 88.04,47.71" fill="url(#pg0)"/>
<polygon points="2.02,52.38 0.17,51.44 0.22,49.32 2.02,48.13 3.71,49.39 3.91,51.46" fill="url(#pg2)"/>
<polygon points="88.02,52.23 86.25,51.39 86.53,49.51 88.02,48.45 89.72,49.39 89.66,51.31" fill="url(#pg2)"/>
<polygon points="6.76,52.19 4.96,51.39 5.00,49.34 6.76,48.45 8.45,49.37 8.63,51.43" fill="url(#pg2)"/>
<polygon points="10.97,52.57 9.21,51.25 9.06,49.13 10.97,48.08 12.91,49.11 12.74,51.26" fill="url(#pg1)"/>
<polygon points="15.34,52.46 13.68,51.46 13.88,49.66 15.34,48.63 16.85,49.63 16.87,51.38" fill="url(#pg2)"/>
<polygon points="19.32,52.45 17.41,51.54 17.67,49.49 19.32,48.10 20.77,49.60 21.08,51.46" fill="url(#pg0)"/>
<polygon points="23.55,52.02 21.82,51.40 21.71,49.35 23.55,48.54 25.24,49.43 25.27,51.40" fill="url(#pg2)"/>
<polygon points="28.01,51.97 26.47,50.87 26.34,49.01 28.01,48.18 29.51,49.11 29.83,51.02" fill="url(#pg0)"/>
<polygon points="32.24,52.45 30.38,51.56 30.65,49.56 32.24,48.44 34.00,49.46 34.05,51.53" fill="url(#pg2)"/>
<polygon points="36.55,51.99 34.64,51.09 34.65,48.89 36.55,47.91 38.48,48.87 38.57,51.16" fill="url(#pg1)"/>
<polygon points="40.93,52.04 39.27,51.15 39.32,49.27 40.93,48.13 42.69,49.18 42.55,51.14" fill="url(#pg1)"/>
<polygon points="45.13,52.28 43.43,51.21 43.38,49.23 45.13,48.28 46.88,49.22 46.78,51.19" fill="url(#pg1)"/>
<polygon points="49.43,52.21 47.61,51.22 47.55,49.09 49.43,48.20 51.26,49.11 51.27,51.24" fill="url(#pg0)"/>
<polygon points="53.68,51.88 52.11,50.96 52.13,49.16 53.68,48.19 55.19,49.17 55.06,50.85" fill="url(#pg2)"/>
<polygon points="57.92,52.23 56.13,51.11 56.27,49.13 57.92,48.05 59.60,49.11 59.57,51.03" fill="url(#pg2)"/>
<polygon points="62.49,52.25 60.62,51.41 60.68,49.28 62.49,48.21 64.22,49.33 64.24,51.34" fill="url(#pg0)"/>
<polygon points="66.87,52.02 65.18,51.31 65.31,49.43 66.87,48.66 68.31,49.50 68.49,51.26" fill="url(#pg1)"/>
<polygon points="70.98,52.60 68.97,51.36 69.03,49.07 70.98,48.12 72.83,49.13 72.72,51.20" fill="url(#pg0)"/>
<polygon points="75.30,51.91 73.68,51.12 73.59,49.20 75.30,47.83 76.98,49.22 77.06,51.21" fill="url(#pg2)"/>
<polygon points="79.38,52.36 77.61,51.54 77.83,49.61 79.38,48.79 81.18,49.47 81.02,51.46" fill="url(#pg2)"/>
<polygon points="83.86,51.93 81.99,50.88 81.86,48.64 83.86,47.58 85.49,48.86 85.59,50.79" fill="url(#pg2)"/>
<polygon points="88.14,52.08 86.49,51.29 86.60,49.44 88.14,48.28 89.93,49.30 89.88,51.34" fill="url(#pg2)"/>
<polygon points="0.01,56.07 -1.80,55.03 -1.64,53.03 0.01,51.92 1.81,52.94 1.86,55.04" fill="url(#pg1)"/>
<polygon points="86.01,56.06 84.25,55.00 84.03,52.84 86.01,51.73 87.75,52.98 87.69,54.95" fill="url(#pg1)"/>
<polygon points="4.47,55.65 2.87,54.82 2.84,52.96 4.47,51.80 6.14,52.93 6.13,54.86" fill="url(#pg0)"/>
<polygon points="8.57,55.98 6.71,55.04 6.65,52.85 8.57,51.87 10.38,52.92 10.53,55.09" fill="url(#pg1)"/>
<polygon points="12.92,56.20 10.98,55.11 10.77,52.75 12.92,51.79 14.83,52.89 14.80,55.08" fill="url(#pg2)"/>
<polygon points="17.30,56.15 15.75,54.72 15.45,52.76 17.30,51.91 19.16,52.75 19.21,54.93" fill="url(#pg0)"/>
<polygon points="21.86,55.79 20.15,54.77 20.16,52.80 21.86,52.10 23.49,52.84 23.68,54.83" fill="url(#pg2)"/>
<polygon points="25.65,56.35 23.86,55.30 23.93,53.27 25.65,52.25 27.42,53.24 27.45,55.31" fill="url(#pg2)"/>
<polygon points="29.89,55.97 28.36,54.79 28.27,52.98 29.89,51.91 31.68,52.87 31.55,54.87" fill="url(#pg0)"/>
<polygon points="34.60,56.09 32.63,55.10 32.79,52.92 34.60,51.84 36.46,52.89 36.50,55.06" fill="url(#pg1)"/>
<polygon points="38.68,56.01 37.02,54.78 37.03,52.86 38.68,52.13 40.18,52.95 40.36,54.79" fill="url(#pg0)"/>
<polygon points="43.26,55.60 41.53,54.84 41.51,52.82 43.26,51.68 45.06,52.80 45.05,54.87" fill="url(#pg0)"/>
<polygon points="47.48,55.91 45.59,54.95 45.36,52.64 47.48,51.74 49.50,52.70 49.54,55.05" fill="url(#pg1)"/>
<polygon points="51.33,56.16 49.77,55.03 49.88,53.29 51.33,51.92 53.09,53.11 52.99,55.08" fill="url(#pg1)"/>
<polygon points="55.76,56.18 54.09,55.07 53.98,53.08 55.76,51.86 57.66,53.01 57.45,55.08" fill="url(#pg1)"/>
<polygon points="60.12,56.11 58.46,55.03 58.38,53.07 60.12,52.09 61.79,53.11 61.91,55.10" fill="url(#pg0)"/>
<polygon points="64.32,55.56 62.90,54.59 62.87,52.94 64.32,52.01 65.95,52.83 65.89,54.68" fill="url(#pg0)"/>
<polygon points="68.74,55.73 66.99,54.86 67.16,52.94 68.74,52.09 70.16,53.03 70.42,54.82" fill="url(#pg1)"/>
<polygon points="73.02,56.03 71.22,55.04 71.25,52.99 73.02,52.22 74.64,53.07 74.84,55.05" fill="url(#pg1)"/>
<polygon points="77.23,56.18 75.45,55.09 75.52,53.08 77.23,51.88 79.11,52.98 78.83,54.99" fill="url(#pg2)"/>
<polygon points="81.77,55.90 79.94,54.89 80.11,52.87 81.77,51.86 83.41,52.89 83.56,54.87" fill="url(#pg1)"/>
<polygon points="86.06,55.89 84.22,54.87 84.33,52.81 86.06,51.77 87.90,52.75 87.69,54.75" fill="url(#pg1)"/>
<polygon points="2.30,59.81 0.63,58.66 0.69,56.77 2.30,55.84 4.04,56.69 4.02,58.68" fill="url(#pg2)"/>
<polygon points="88.30,59.52 86.72,58.61 86.61,56.72 88.30,55.83 89.91,56.77 89.91,58.62" fill="url(#pg2)"/>
<polygon points="6.54,59.86 4.89,58.70 4.98,56.84 6.54,55.68 8.20,56.79 8.41,58.82" fill="url(#pg0)"/>
<polygon points="10.79,60.04 9.10,58.81 9.03,56.82 10.79,55.88 12.67,56.75 12.51,58.83" fill="url(#pg1)"/>
<polygon points="14.88,59.48 13.31,58.54 13.38,56.76 14.88,56.06 16.37,56.77 16.49,58.55" fill="url(#pg0)"/>
<polygon points="19.64,59.70 17.77,58.80 18.15,56.86 19.64,55.53 21.39,56.71 21.41,58.75" fill="url(#pg1)"/>
<polygon points="23.56,59.69 21.86,58.77 21.79,56.77 23.56,55.74 25.40,56.73 25.35,58.83" fill="url(#pg0)"/>
<polygon points="28.03,60.15 25.99,58.88 26.04,56.56 28.03,55.33 30.14,56.48 29.86,58.76" fill="url(#pg1)"/>
<polygon points="32.05,59.60 30.45,58.61 30.12,56.57 32.05,55.75 34.19,56.45 33.78,58.68" fill="url(#pg2)"/>
<polygon points="36.69,59.70 35.08,58.64 35.13,56.81 36.69,55.93 38.43,56.70 38.21,58.59" fill="url(#pg0)"/>
<polygon points="40.98,59.67 38.98,58.97 39.15,56.76 40.98,55.69 42.87,56.72 42.82,58.87" fill="url(#pg2)"/>
<polygon points="45.05,59.78 43.37,58.72 43.33,56.76 45.05,55.84 46.93,56.67 47.15,58.96" fill="url(#pg2)"/>
<polygon points="49.45,59.45 47.67,58.56 47.66,56.49 49.45,55.64 51.32,56.45 51.27,58.58" fill="url(#pg0)"/>
<polygon points="53.63,59.62 51.96,58.64 51.85,56.64 53.63,55.70 55.48,56.61 55.30,58.63" fill="url(#pg2)"/>
<polygon points="58.31,60.31 56.51,59.10 56.56,57.06 58.31,55.95 60.23,56.96 60.14,59.12" fill="url(#pg1)"/>
<polygon points="62.39,59.48 60.58,58.67 60.62,56.59 62.39,55.66 63.96,56.71 64.06,58.58" fill="url(#pg2)"/>
<polygon points="66.52,60.00 64.80,58.79 64.56,56.66 66.52,55.56 68.50,56.65 68.33,58.84" fill="url(#pg1)"/>
<polygon points="71.03,59.66 69.25,58.98 69.37,57.00 71.03,55.84 72.82,56.92 72.78,58.97" fill="url(#pg0)"/>
<polygon points="75.28,59.91 73.47,58.86 73.49,56.78 75.28,55.76 77.07,56.78 77.20,58.92" fill="url(#pg2)"/>
<polygon points="79.62,59.81 77.76,58.77 77.87,56.68 79.62,55.57 81.37,56.69 81.32,58.68" fill="url(#pg0)"/>
<polygon points="83.85,59.79 81.93,58.67 82.14,56.58 83.85,55.53 85.66,56.52 85.63,58.60" fill="url(#pg0)"/>
<polygon points="88.21,59.50 86.41,58.60 86.29,56.46 88.21,55.37 90.01,56.52 90.04,58.62" fill="url(#pg0)"/>
<polygon points="0.04,63.68 -1.58,62.41 -1.63,60.51 0.04,59.39 1.66,60.54 1.63,62.39" fill="url(#pg2)"/>
<polygon points="86.04,63.51 84.37,62.43 84.31,60.48 86.04,59.41 87.74,60.49 87.57,62.36" fill="url(#pg2)"/>
<polygon points="4.59,63.96 2.97,62.65 2.94,60.77 4.59,59.77 6.33,60.71 6.28,62.70" fill="url(#pg2)"/>
<polygon points="8.81,63.17 7.12,62.29 7.34,60.47 8.81,59.42 10.48,60.35 10.51,62.30" fill="url(#pg2)"/>
<polygon points="13.02,63.15 11.40,62.22 11.31,60.30 13.02,59.27 14.76,60.28 14.75,62.29" fill="url(#pg0)"/>
<polygon points="17.42,63.20 15.60,62.35 15.58,60.24 17.42,59.46 19.28,60.23 19.23,62.34" fill="url(#pg0)"/>
<polygon points="21.36,63.68 19.56,62.67 19.47,60.54 21.36,59.46 23.10,60.62 23.11,62.65" fill="url(#pg0)"/>
<polygon points="26.09,63.61 24.12,62.53 24.13,60.27 26.09,59.30 28.12,60.22 28.14,62.58" fill="url(#pg0)"/>
<polygon points="30.06,63.05 28.12,62.10 28.21,59.92 30.06,58.80 31.85,59.95 31.82,62.00" fill="url(#pg0)"/>
<polygon points="34.20,63.54 32.28,62.59 32.27,60.36 34.20,59.32 35.94,60.47 35.97,62.50" fill="url(#pg2)"/>
<polygon points="38.52,64.03 36.75,62.77 36.63,60.65 38.52,59.68 40.38,60.67 40.46,62.86" fill="url(#pg0)"/>
<polygon points="43.05,63.81 41.12,62.61 41.17,60.41 43.05,59.52 44.95,60.40 44.76,62.48" fill="url(#pg2)"/>
<polygon points="47.31,63.51 45.65,62.42 45.45,60.39 47.31,59.45 49.14,60.41 49.15,62.53" fill="url(#pg0)"/>
<polygon points="51.61,63.65 49.82,62.55 49.55,60.33 51.61,59.33 53.54,60.40 53.53,62.63" fill="url(#pg1)"/>
<polygon points="55.86,63.53 53.98,62.43 54.22,60.40 55.86,59.42 57.82,60.22 57.66,62.39" fill="url(#pg1)"/>
<polygon points="60.03,63.85 58.18,62.64 58.22,60.53 60.03,59.62 61.70,60.62 61.64,62.50" fill="url(#pg0)"/>
<polygon points="64.18,63.31 62.48,62.38 62.55,60.45 64.18,59.47 65.71,60.51 65.77,62.32" fill="url(#pg0)"/>
<polygon points="68.88,63.52 67.23,62.59 67.43,60.80 68.88,59.66 70.55,60.67 70.44,62.54" fill="url(#pg1)"/>
<polygon points="73.01,63.38 71.25,62.34 71.22,60.28 73.01,59.02 74.90,60.23 74.91,62.41" fill="url(#pg1)"/>
<polygon points="77.12,63.48 75.35,62.60 75.37,60.57 77.12,59.75 78.93,60.54 78.60,62.44" fill="url(#pg0)"/>
<polygon points="81.70,63.21 80.10,62.14 79.88,60.16 81.70,59.48 83.58,60.13 83.42,62.21" fill="url(#pg0)"/>
<polygon points="85.81,63.54 84.09,62.46 84.12,60.50 85.81,59.60 87.43,60.53 87.56,62.49" fill="url(#pg0)"/>
<polygon points="2.23,67.24 0.55,66.24 0.46,64.25 2.23,63.30 3.94,64.29 4.08,66.34" fill="url(#pg1)"/>
<polygon points="88.23,67.20 86.47,66.29 86.56,64.30 88.23,63.27 89.96,64.28 89.96,66.27" fill="url(#pg1)"/>
<polygon points="6.57,67.16 4.89,66.04 4.85,64.07 6.57,62.99 8.48,63.96 8.78,66.34" fill="url(#pg2)"/>
<polygon points="10.65,67.58 8.69,66.51 8.57,64.18 10.65,63.11 12.72,64.18 12.64,66.52" fill="url(#pg0)"/>
<polygon points="15.17,67.07 13.43,65.75 13.31,63.67 15.17,62.66 17.07,63.65 16.94,65.77" fill="url(#pg0)"/>
<polygon points="19.43,66.79 18.01,65.94 17.83,64.19 19.43,63.34 21.29,64.05 21.14,66.11" fill="url(#pg2)"/>
<polygon points="23.65,66.99 22.11,65.98 21.93,64.09 23.65,63.11 25.28,64.15 25.52,66.17" fill="url(#pg1)"/>
<polygon points="28.09,67.33 26.01,66.33 26.19,64.03 28.09,62.99 30.22,63.90 30.02,66.24" fill="url(#pg0)"/>
<polygon points="32.39,67.53 30.44,66.56 30.45,64.31 32.39,63.24 34.28,64.34 34.11,66.43" fill="url(#pg2)"/>
<polygon points="36.60,67.27 34.89,66.33 34.88,64.35 36.60,63.49 38.35,64.33 38.40,66.38" fill="url(#pg0)"/>
<polygon points="40.73,67.22 38.99,66.31 39.16,64.40 40.73,63.22 42.37,64.36 42.33,66.23" fill="url(#pg1)"/>
<polygon points="45.01,67.01 43.40,65.99 43.65,64.27 45.01,63.06 46.80,64.02 46.64,66.00" fill="url(#pg1)"/>
<polygon points="49.33,67.22 47.86,66.15 47.65,64.33 49.33,63.29 51.21,64.21 51.10,66.32" fill="url(#pg0)"/>
<polygon points="53.88,67.13 51.86,66.22 51.96,63.94 53.88,63.01 55.65,64.03 55.64,66.07" fill="url(#pg2)"/>
<polygon points="58.00,67.48 56.29,66.30 56.24,64.30 58.00,63.25 59.83,64.25 59.82,66.37" fill="url(#pg0)"/>
<polygon points="62.14,67.23 60.37,66.15 60.34,64.09 62.14,62.85 63.86,64.14 63.91,66.15" fill="url(#pg0)"/>
<polygon points="66.62,67.19 64.92,66.23 64.85,64.23 66.62,63.17 68.34,64.26 68.36,66.26" fill="url(#pg2)"/>
<polygon points="71.04,66.79 69.46,66.06 69.46,64.23 71.04,63.41 72.67,64.21 72.55,66.02" fill="url(#pg1)"/>
<polygon points="75.06,66.93 73.28,66.06 73.18,63.95 75.06,62.89 76.86,63.99 76.74,66.01" fill="url(#pg2)"/>
<polygon points="79.76,67.45 78.00,66.36 77.71,64.17 79.76,63.10 81.58,64.30 81.65,66.44" fill="url(#pg1)"/>
<polygon points="84.02,67.57 82.08,66.35 82.25,64.21 84.02,63.13 85.92,64.13 85.78,66.24" fill="url(#pg1)"/>
<polygon points="88.20,67.31 86.37,66.44 86.24,64.25 88.20,63.54 90.13,64.26 89.92,66.37" fill="url(#pg0)"/>
<polygon points="0.06,71.11 -1.64,70.00 -1.66,68.03 0.06,67.00 1.71,68.07 1.62,69.92" fill="url(#pg0)"/>
<polygon points="86.06,70.86 84.41,69.98 84.41,68.07 86.06,67.02 87.50,68.19 87.68,69.96" fill="url(#pg0)"/>
<polygon points="4.17,70.64 2.58,69.77 2.55,67.92 4.17,67.10 6.00,67.80 5.75,69.77" fill="url(#pg2)"/>
<polygon points="8.80,70.89 6.81,69.91 6.88,67.66 8.80,66.69 10.55,67.75 10.73,69.88" fill="url(#pg0)"/>
<polygon points="12.74,71.12 10.79,70.05 10.74,67.76 12.74,66.68 14.59,67.86 14.65,70.02" fill="url(#pg2)"/>
<polygon points="17.00,70.82 15.22,69.85 15.37,67.87 17.00,66.73 18.72,67.82 18.95,69.94" fill="url(#pg1)"/>
<polygon points="21.52,70.89 19.50,70.08 19.92,68.00 21.52,66.77 23.33,67.87 23.45,70.04" fill="url(#pg2)"/>
<polygon points="25.94,70.74 24.32,70.05 24.46,68.26 25.94,67.55 27.59,68.17 27.48,70.00" fill="url(#pg1)"/>
<polygon points="29.94,71.10 28.15,70.02 28.31,68.04 29.94,66.80 31.87,67.87 31.72,70.01" fill="url(#pg0)"/>
<polygon points="34.53,70.78 32.73,69.84 32.66,67.72 34.53,66.88 36.25,67.81 36.35,69.85" fill="url(#pg2)"/>
<polygon points="38.63,70.40 37.21,69.69 37.33,68.11 38.63,67.12 40.03,68.06 39.91,69.60" fill="url(#pg1)"/>
<polygon points="42.89,70.70 41.22,69.91 41.22,67.98 42.89,67.11 44.56,67.98 44.46,69.85" fill="url(#pg0)"/>
<polygon points="47.31,70.83 45.84,69.74 45.38,67.79 47.31,67.06 48.95,67.95 48.70,69.70" fill="url(#pg1)"/>
<polygon points="51.28,71.13 49.48,69.94 49.83,68.05 51.28,67.01 52.84,68.00 53.11,69.95" fill="url(#pg2)"/>
<polygon points="56.06,71.46 54.31,70.17 54.22,68.11 56.06,66.86 57.71,68.21 57.93,70.25" fill="url(#pg0)"/>
<polygon points="60.07,70.58 58.38,69.78 58.35,67.81 60.07,66.98 61.61,67.92 61.75,69.77" fill="url(#pg2)"/>
<polygon points="64.58,70.84 62.87,69.86 62.68,67.78 64.58,66.68 66.36,67.85 66.45,69.95" fill="url(#pg2)"/>
<polygon points="68.74,71.26 66.72,70.30 66.63,67.92 68.74,66.95 70.52,68.11 70.61,70.22" fill="url(#pg2)"/>
<polygon points="73.13,70.84 71.37,69.84 71.13,67.67 73.13,66.80 74.81,67.86 75.05,69.93" fill="url(#pg2)"/>
<polygon points="77.18,70.80 75.78,69.82 75.57,68.08 77.18,67.38 78.70,68.14 78.78,69.93" fill="url(#pg2)"/>
<polygon points="81.64,70.87 80.01,69.96 79.90,68.02 81.64,67.07 83.61,67.89 83.20,69.93" fill="url(#pg0)"/>
<polygon points="86.00,70.87 84.30,69.67 84.19,67.65 86.00,66.92 87.74,67.68 87.60,69.61" fill="url(#pg0)"/>
<polygon points="2.02,74.41 0.27,73.63 0.19,71.57 2.02,70.42 3.75,71.63 3.71,73.60" fill="url(#pg0)"/>
<polygon points="88.02,74.45 86.23,73.66 86.42,71.71 88.02,70.51 89.83,71.58 89.71,73.60" fill="url(#pg0)"/>
<polygon points="6.63,74.57 4.94,73.64 4.84,71.63 6.63,70.41 8.37,71.66 8.34,73.65" fill="url(#pg1)"/>
<polygon points="10.48,74.50 9.05,73.66 8.89,71.91 10.48,71.23 12.11,71.89 12.14,73.78" fill="url(#pg0)"/>
<polygon points="15.21,75.15 13.30,73.96 13.44,71.83 15.21,70.61 17.29,71.65 17.10,73.95" fill="url(#pg1)"/>
<polygon points="19.37,74.30 17.59,73.31 17.69,71.31 19.37,70.20 21.09,71.29 21.06,73.26" fill="url(#pg1)"/>
<polygon points="23.40,74.74 21.63,73.80 21.69,71.79 23.40,70.74 25.12,71.79 25.22,73.83" fill="url(#pg2)"/>
<polygon points="27.99,74.62 26.30,73.52 26.35,71.59 27.99,70.53 29.68,71.56 29.86,73.62" fill="url(#pg1)"/>
<polygon points="32.37,74.86 30.56,73.70 30.44,71.54 32.37,70.49 34.19,71.61 34.35,73.80" fill="url(#pg1)"/>
<polygon points="36.49,74.04 34.98,73.27 35.03,71.56 36.49,70.87 38.02,71.51 37.89,73.21" fill="url(#pg1)"/>
<polygon points="40.92,74.32 39.22,73.52 39.24,71.57 40.92,70.36 42.86,71.42 42.91,73.69" fill="url(#pg0)"/>
<polygon points="44.88,74.52 43.24,73.46 43.41,71.66 44.88,70.66 46.41,71.64 46.61,73.52" fill="url(#pg0)"/>
<polygon points="49.38,74.73 47.64,73.67 47.60,71.64 49.38,70.46 51.11,71.67 51.09,73.66" fill="url(#pg1)"/>
<polygon points="53.81,74.93 52.03,73.87 52.17,71.89 53.81,70.98 55.52,71.85 55.45,73.79" fill="url(#pg2)"/>
<polygon points="58.09,74.58 56.50,73.40 56.27,71.44 58.09,70.58 59.63,71.60 59.71,73.42" fill="url(#pg2)"/>
<polygon points="62.45,74.93 60.72,73.73 60.66,71.69 62.45,70.71 63.94,71.87 64.12,73.70" fill="url(#pg2)"/>
<polygon points="66.65,74.74 64.60,73.83 64.67,71.51 66.65,70.69 68.42,71.63 68.51,73.73" fill="url(#pg0)"/>
<polygon points="70.98,74.37 69.25,73.52 69.17,71.48 70.98,70.69 72.61,71.58 72.80,73.58" fill="url(#pg0)"/>
<polygon points="75.50,74.98 73.73,73.94 73.91,71.99 75.50,70.83 77.27,71.89 77.18,73.88" fill="url(#pg0)"/>
<polygon points="79.45,74.92 77.68,73.74 77.91,71.83 79.45,70.46 81.25,71.68 81.18,73.72" fill="url(#pg0)"/>
<polygon points="83.91,74.62 82.33,73.54 82.47,71.80 83.91,70.72 85.53,71.69 85.65,73.63" fill="url(#pg2)"/>
<polygon points="87.93,74.80 86.19,73.58 86.07,71.51 87.93,70.53 89.65,71.59 89.65,73.58" fill="url(#pg0)"/></pattern>
<linearGradient id="gHe" x1="0" x2="1" y1="0" y2="0"><stop offset="0" stop-color="#c4d6ee"/><stop offset="0.38" stop-color="#e9eff9"/><stop offset="1" stop-color="#adc6e6"/></linearGradient>
<linearGradient id="gH2" x1="0" x2="1" y1="0" y2="0"><stop offset="0" stop-color="#bde3de"/><stop offset="0.38" stop-color="#e9f6f4"/><stop offset="1" stop-color="#a9d8d2"/></linearGradient>
<linearGradient id="gCO2" x1="0" x2="1" y1="0" y2="0"><stop offset="0" stop-color="#f4e5f4"/><stop offset="0.38" stop-color="#fdf9fd"/><stop offset="1" stop-color="#efdcef"/></linearGradient>
<radialGradient id="gRed" cx="0.4" cy="0.35" r="0.7"><stop offset="0" stop-color="#ffffff"/><stop offset="0.28" stop-color="#ff6a6a"/><stop offset="0.55" stop-color="#f20000"/><stop offset="1" stop-color="#c80000"/></radialGradient>
<clipPath id="cA1"><rect x="22" y="0" width="163" height="112.7"/></clipPath>
<clipPath id="cA2"><rect x="189" y="0" width="163" height="112.5"/></clipPath>
<clipPath id="cA3"><rect x="356" y="1" width="163" height="112"/></clipPath>
<clipPath id="cA4"><rect x="523" y="0" width="162" height="111.6"/></clipPath>
<clipPath id="cD"><rect x="396.5" y="252.5" width="202" height="162.5"/></clipPath>
</defs>
<text x="-1" y="13.5" font-size="16" fill="#111">(a)</text>
<text x="-1" y="133.5" font-size="16" fill="#111">(b)</text>
<text x="-1" y="261" font-size="16" fill="#111">(c)</text>
<text x="348" y="262.3" font-size="16" fill="#111">(d)</text>
<g clip-path="url(#cA1)">
<linearGradient id="fa0" x1="0" x2="1" y1="0" y2="0"><stop offset="0" stop-color="#414141"/><stop offset="0.25" stop-color="#8a8a8a"/><stop offset="0.55" stop-color="#969696"/><stop offset="1" stop-color="#6e6e6e"/></linearGradient>
<linearGradient id="fa1" x1="0" x2="1" y1="0" y2="0"><stop offset="0" stop-color="#4d4d4d"/><stop offset="0.25" stop-color="#969696"/><stop offset="0.55" stop-color="#a2a2a2"/><stop offset="1" stop-color="#7a7a7a"/></linearGradient>
<linearGradient id="fa2" x1="0" x2="1" y1="0" y2="0"><stop offset="0" stop-color="#595959"/><stop offset="0.25" stop-color="#a2a2a2"/><stop offset="0.55" stop-color="#aeaeae"/><stop offset="1" stop-color="#868686"/></linearGradient>
<linearGradient id="fa3" x1="0" x2="1" y1="0" y2="0"><stop offset="0" stop-color="#656565"/><stop offset="0.25" stop-color="#aeaeae"/><stop offset="0.55" stop-color="#bababa"/><stop offset="1" stop-color="#929292"/></linearGradient>
<linearGradient id="fa4" x1="0" x2="1" y1="0" y2="0"><stop offset="0" stop-color="#717171"/><stop offset="0.25" stop-color="#bababa"/><stop offset="0.55" stop-color="#c6c6c6"/><stop offset="1" stop-color="#9e9e9e"/></linearGradient>
<rect x="22" y="20" width="163" height="93" fill="#1e1e1e"/>
<rect x="20.00" y="20.22" width="2.60" height="3.5" fill="#b4b4b4"/>
<rect x="20.00" y="23.72" width="2.60" height="16.78" fill="url(#fa3)"/>
<rect x="20.00" y="40.20" width="2.60" height="34.54" fill="url(#fa3)"/>
<rect x="20.00" y="74.43" width="2.60" height="25.45" fill="url(#fa3)"/>
<rect x="20.00" y="99.59" width="2.60" height="13.71" fill="url(#fa2)"/>
<rect x="24.05" y="19.72" width="3.09" height="3.5" fill="#b4b4b4"/>
<rect x="24.05" y="23.22" width="3.09" height="32.84" fill="url(#fa0)"/>
<rect x="24.05" y="55.76" width="3.09" height="31.12" fill="url(#fa1)"/>
<rect x="24.05" y="86.57" width="3.09" height="26.73" fill="url(#fa2)"/>
<rect x="28.49" y="20.31" width="3.68" height="3.5" fill="#b4b4b4"/>
<rect x="28.49" y="23.81" width="3.68" height="31.12" fill="url(#fa2)"/>
<rect x="28.49" y="54.63" width="3.68" height="11.00" fill="url(#fa1)"/>
<rect x="28.49" y="65.32" width="3.68" height="14.05" fill="url(#fa0)"/>
<rect x="28.49" y="79.07" width="3.68" height="23.89" fill="url(#fa0)"/>
<rect x="28.49" y="102.66" width="3.68" height="10.64" fill="url(#fa0)"/>
<rect x="32.90" y="19.61" width="2.65" height="3.5" fill="#b4b4b4"/>
<rect x="32.90" y="23.11" width="2.65" height="16.22" fill="url(#fa0)"/>
<rect x="32.90" y="39.03" width="2.65" height="13.97" fill="url(#fa1)"/>
<rect x="32.90" y="52.71" width="2.65" height="27.07" fill="url(#fa2)"/>
<rect x="32.90" y="79.48" width="2.65" height="16.33" fill="url(#fa2)"/>
<rect x="32.90" y="95.51" width="2.65" height="17.79" fill="url(#fa3)"/>
<rect x="36.29" y="20.08" width="2.90" height="3.5" fill="#b4b4b4"/>
<rect x="36.29" y="23.58" width="2.90" height="40.15" fill="url(#fa4)"/>
<rect x="36.29" y="63.42" width="2.90" height="18.27" fill="url(#fa3)"/>
<rect x="36.29" y="81.40" width="2.90" height="15.07" fill="url(#fa4)"/>
<rect x="36.29" y="96.16" width="2.90" height="10.38" fill="url(#fa3)"/>
<rect x="36.29" y="106.25" width="2.90" height="7.05" fill="url(#fa3)"/>
<rect x="40.94" y="19.67" width="3.57" height="3.5" fill="#b4b4b4"/>
<rect x="40.94" y="23.17" width="3.57" height="30.39" fill="url(#fa4)"/>
<rect x="40.94" y="53.26" width="3.57" height="35.31" fill="url(#fa4)"/>
<rect x="40.94" y="88.27" width="3.57" height="20.70" fill="url(#fa4)"/>
<rect x="40.94" y="108.67" width="3.57" height="4.63" fill="url(#fa4)"/>
<rect x="45.57" y="20.06" width="2.36" height="3.5" fill="#b4b4b4"/>
<rect x="45.57" y="23.56" width="2.36" height="30.80" fill="url(#fa3)"/>
<rect x="45.57" y="54.06" width="2.36" height="22.51" fill="url(#fa3)"/>
<rect x="45.57" y="76.27" width="2.36" height="37.03" fill="url(#fa2)"/>
<rect x="49.52" y="20.50" width="4.32" height="3.5" fill="#b4b4b4"/>
<rect x="49.52" y="24.00" width="4.32" height="38.39" fill="url(#fa3)"/>
<rect x="49.52" y="62.09" width="4.32" height="15.17" fill="url(#fa2)"/>
<rect x="49.52" y="76.96" width="4.32" height="23.48" fill="url(#fa3)"/>
<rect x="49.52" y="100.13" width="4.32" height="13.17" fill="url(#fa4)"/>
<rect x="55.08" y="20.49" width="2.34" height="3.5" fill="#b4b4b4"/>
<rect x="55.08" y="23.99" width="2.34" height="11.34" fill="url(#fa2)"/>
<rect x="55.08" y="35.03" width="2.34" height="15.42" fill="url(#fa1)"/>
<rect x="55.08" y="50.15" width="2.34" height="36.41" fill="url(#fa1)"/>
<rect x="55.08" y="86.26" width="2.34" height="27.04" fill="url(#fa2)"/>
<rect x="58.43" y="20.87" width="2.32" height="3.5" fill="#b4b4b4"/>
<rect x="58.43" y="24.37" width="2.32" height="24.67" fill="url(#fa4)"/>
<rect x="58.43" y="48.74" width="2.32" height="37.28" fill="url(#fa4)"/>
<rect x="58.43" y="85.72" width="2.32" height="27.58" fill="url(#fa4)"/>
<rect x="61.61" y="20.85" width="3.64" height="3.5" fill="#b4b4b4"/>
<rect x="61.61" y="24.35" width="3.64" height="24.61" fill="url(#fa4)"/>
<rect x="61.61" y="48.66" width="3.64" height="26.33" fill="url(#fa4)"/>
<rect x="61.61" y="74.69" width="3.64" height="14.48" fill="url(#fa3)"/>
<rect x="61.61" y="88.87" width="3.64" height="21.77" fill="url(#fa3)"/>
<rect x="61.61" y="110.34" width="3.64" height="2.96" fill="url(#fa2)"/>
<rect x="66.42" y="20.78" width="2.83" height="3.5" fill="#b4b4b4"/>
<rect x="66.42" y="24.28" width="2.83" height="27.83" fill="url(#fa1)"/>
<rect x="66.42" y="51.81" width="2.83" height="30.79" fill="url(#fa1)"/>
<rect x="66.42" y="82.30" width="2.83" height="14.31" fill="url(#fa0)"/>
<rect x="66.42" y="96.31" width="2.83" height="16.99" fill="url(#fa0)"/>
<rect x="70.31" y="19.61" width="2.26" height="3.5" fill="#b4b4b4"/>
<rect x="70.31" y="23.11" width="2.26" height="13.87" fill="url(#fa1)"/>
<rect x="70.31" y="36.68" width="2.26" height="14.10" fill="url(#fa1)"/>
<rect x="70.31" y="50.48" width="2.26" height="22.19" fill="url(#fa1)"/>
<rect x="70.31" y="72.36" width="2.26" height="28.94" fill="url(#fa1)"/>
<rect x="70.31" y="101.00" width="2.26" height="12.30" fill="url(#fa2)"/>
<rect x="73.76" y="20.41" width="2.68" height="3.5" fill="#b4b4b4"/>
<rect x="73.76" y="23.91" width="2.68" height="25.45" fill="url(#fa0)"/>
<rect x="73.76" y="49.05" width="2.68" height="34.02" fill="url(#fa0)"/>
<rect x="73.76" y="82.77" width="2.68" height="21.93" fill="url(#fa0)"/>
<rect x="73.76" y="104.40" width="2.68" height="8.90" fill="url(#fa0)"/>
<rect x="77.97" y="19.97" width="4.25" height="3.5" fill="#b4b4b4"/>
<rect x="77.97" y="23.47" width="4.25" height="11.56" fill="url(#fa4)"/>
<rect x="77.97" y="34.73" width="4.25" height="14.99" fill="url(#fa4)"/>
<rect x="77.97" y="49.41" width="4.25" height="34.83" fill="url(#fa4)"/>
<rect x="77.97" y="83.94" width="4.25" height="29.36" fill="url(#fa3)"/>
<rect x="83.17" y="20.60" width="3.51" height="3.5" fill="#b4b4b4"/>
<rect x="83.17" y="24.10" width="3.51" height="39.31" fill="url(#fa4)"/>
<rect x="83.17" y="63.12" width="3.51" height="19.05" fill="url(#fa4)"/>
<rect x="83.17" y="81.86" width="3.51" height="12.21" fill="url(#fa4)"/>
<rect x="83.17" y="93.78" width="3.51" height="19.52" fill="url(#fa4)"/>
<rect x="87.45" y="19.66" width="2.36" height="3.5" fill="#b4b4b4"/>
<rect x="87.45" y="23.16" width="2.36" height="12.58" fill="url(#fa2)"/>
<rect x="87.45" y="35.44" width="2.36" height="29.10" fill="url(#fa3)"/>
<rect x="87.45" y="64.24" width="2.36" height="25.45" fill="url(#fa2)"/>
<rect x="87.45" y="89.39" width="2.36" height="23.91" fill="url(#fa3)"/>
<rect x="91.23" y="19.61" width="3.33" height="3.5" fill="#b4b4b4"/>
<rect x="91.23" y="23.11" width="3.33" height="11.05" fill="url(#fa4)"/>
<rect x="91.23" y="33.85" width="3.33" height="11.56" fill="url(#fa4)"/>
<rect x="91.23" y="45.12" width="3.33" height="31.43" fill="url(#fa4)"/>
<rect x="91.23" y="76.24" width="3.33" height="32.01" fill="url(#fa4)"/>
<rect x="91.23" y="107.95" width="3.33" height="5.35" fill="url(#fa4)"/>
<rect x="95.82" y="19.56" width="3.12" height="3.5" fill="#b4b4b4"/>
<rect x="95.82" y="23.06" width="3.12" height="15.49" fill="url(#fa0)"/>
<rect x="95.82" y="38.24" width="3.12" height="31.82" fill="url(#fa0)"/>
<rect x="95.82" y="69.76" width="3.12" height="33.69" fill="url(#fa0)"/>
<rect x="95.82" y="103.14" width="3.12" height="10.16" fill="url(#fa1)"/>
<rect x="100.18" y="20.95" width="3.13" height="3.5" fill="#b4b4b4"/>
<rect x="100.18" y="24.45" width="3.13" height="39.98" fill="url(#fa3)"/>
<rect x="100.18" y="64.12" width="3.13" height="15.16" fill="url(#fa3)"/>
<rect x="100.18" y="78.98" width="3.13" height="19.65" fill="url(#fa4)"/>
<rect x="100.18" y="98.33" width="3.13" height="14.97" fill="url(#fa3)"/>
<rect x="104.69" y="20.43" width="3.53" height="3.5" fill="#b4b4b4"/>
<rect x="104.69" y="23.93" width="3.53" height="21.56" fill="url(#fa3)"/>
<rect x="104.69" y="45.19" width="3.53" height="39.79" fill="url(#fa3)"/>
<rect x="104.69" y="84.68" width="3.53" height="28.62" fill="url(#fa3)"/>
<rect x="109.00" y="20.52" width="3.83" height="3.5" fill="#b4b4b4"/>
<rect x="109.00" y="24.02" width="3.83" height="18.13" fill="url(#fa3)"/>
<rect x="109.00" y="41.85" width="3.83" height="19.96" fill="url(#fa3)"/>
<rect x="109.00" y="61.51" width="3.83" height="38.65" fill="url(#fa3)"/>
<rect x="109.00" y="99.86" width="3.83" height="13.44" fill="url(#fa3)"/>
<rect x="113.94" y="19.74" width="2.77" height="3.5" fill="#b4b4b4"/>
<rect x="113.94" y="23.24" width="2.77" height="22.08" fill="url(#fa4)"/>
<rect x="113.94" y="45.02" width="2.77" height="23.41" fill="url(#fa4)"/>
<rect x="113.94" y="68.12" width="2.77" height="30.39" fill="url(#fa4)"/>
<rect x="113.94" y="98.21" width="2.77" height="15.09" fill="url(#fa3)"/>
<rect x="118.17" y="20.03" width="2.65" height="3.5" fill="#b4b4b4"/>
<rect x="118.17" y="23.53" width="2.65" height="29.18" fill="url(#fa0)"/>
<rect x="118.17" y="52.41" width="2.65" height="10.87" fill="url(#fa0)"/>
<rect x="118.17" y="62.98" width="2.65" height="22.24" fill="url(#fa1)"/>
<rect x="118.17" y="84.92" width="2.65" height="28.38" fill="url(#fa1)"/>
<rect x="122.58" y="19.64" width="4.58" height="3.5" fill="#b4b4b4"/>
<rect x="122.58" y="23.14" width="4.58" height="19.57" fill="url(#fa2)"/>
<rect x="122.58" y="42.41" width="4.58" height="21.42" fill="url(#fa1)"/>
<rect x="122.58" y="63.53" width="4.58" height="21.40" fill="url(#fa1)"/>
<rect x="122.58" y="84.63" width="4.58" height="27.42" fill="url(#fa2)"/>
<rect x="122.58" y="111.75" width="4.58" height="1.55" fill="url(#fa1)"/>
<rect x="128.89" y="19.87" width="2.94" height="3.5" fill="#b4b4b4"/>
<rect x="128.89" y="23.37" width="2.94" height="27.55" fill="url(#fa4)"/>
<rect x="128.89" y="50.61" width="2.94" height="36.81" fill="url(#fa3)"/>
<rect x="128.89" y="87.12" width="2.94" height="26.18" fill="url(#fa2)"/>
<rect x="132.99" y="19.73" width="2.39" height="3.5" fill="#b4b4b4"/>
<rect x="132.99" y="23.23" width="2.39" height="25.22" fill="url(#fa2)"/>
<rect x="132.99" y="48.15" width="2.39" height="24.43" fill="url(#fa2)"/>
<rect x="132.99" y="72.28" width="2.39" height="14.88" fill="url(#fa2)"/>
<rect x="132.99" y="86.86" width="2.39" height="20.89" fill="url(#fa2)"/>
<rect x="132.99" y="107.46" width="2.39" height="5.84" fill="url(#fa1)"/>
<rect x="137.07" y="19.78" width="4.34" height="3.5" fill="#b4b4b4"/>
<rect x="137.07" y="23.28" width="4.34" height="13.24" fill="url(#fa0)"/>
<rect x="137.07" y="36.22" width="4.34" height="21.11" fill="url(#fa0)"/>
<rect x="137.07" y="57.03" width="4.34" height="12.06" fill="url(#fa0)"/>
<rect x="137.07" y="68.79" width="4.34" height="27.86" fill="url(#fa0)"/>
<rect x="137.07" y="96.35" width="4.34" height="16.95" fill="url(#fa1)"/>
<rect x="142.19" y="20.31" width="2.58" height="3.5" fill="#b4b4b4"/>
<rect x="142.19" y="23.81" width="2.58" height="22.55" fill="url(#fa2)"/>
<rect x="142.19" y="46.06" width="2.58" height="32.13" fill="url(#fa3)"/>
<rect x="142.19" y="77.89" width="2.58" height="12.65" fill="url(#fa3)"/>
<rect x="142.19" y="90.24" width="2.58" height="16.71" fill="url(#fa2)"/>
<rect x="142.19" y="106.66" width="2.58" height="6.64" fill="url(#fa2)"/>
<rect x="145.58" y="19.74" width="2.25" height="3.5" fill="#b4b4b4"/>
<rect x="145.58" y="23.24" width="2.25" height="35.83" fill="url(#fa2)"/>
<rect x="145.58" y="58.77" width="2.25" height="37.49" fill="url(#fa1)"/>
<rect x="145.58" y="95.96" width="2.25" height="16.82" fill="url(#fa0)"/>
<rect x="145.58" y="112.48" width="2.25" height="0.82" fill="url(#fa1)"/>
<rect x="148.94" y="19.52" width="2.70" height="3.5" fill="#b4b4b4"/>
<rect x="148.94" y="23.02" width="2.70" height="20.86" fill="url(#fa2)"/>
<rect x="148.94" y="43.57" width="2.70" height="28.52" fill="url(#fa3)"/>
<rect x="148.94" y="71.79" width="2.70" height="29.71" fill="url(#fa3)"/>
<rect x="148.94" y="101.20" width="2.70" height="12.10" fill="url(#fa4)"/>
<rect x="152.85" y="19.93" width="2.70" height="3.5" fill="#b4b4b4"/>
<rect x="152.85" y="23.43" width="2.70" height="23.80" fill="url(#fa4)"/>
<rect x="152.85" y="46.93" width="2.70" height="37.60" fill="url(#fa4)"/>
<rect x="152.85" y="84.23" width="2.70" height="22.47" fill="url(#fa4)"/>
<rect x="152.85" y="106.40" width="2.70" height="6.90" fill="url(#fa4)"/>
<rect x="157.35" y="20.93" width="3.57" height="3.5" fill="#b4b4b4"/>
<rect x="157.35" y="24.43" width="3.57" height="32.96" fill="url(#fa3)"/>
<rect x="157.35" y="57.09" width="3.57" height="32.55" fill="url(#fa3)"/>
<rect x="157.35" y="89.34" width="3.57" height="23.96" fill="url(#fa3)"/>
<rect x="162.72" y="19.74" width="4.35" height="3.5" fill="#b4b4b4"/>
<rect x="162.72" y="23.24" width="4.35" height="30.17" fill="url(#fa1)"/>
<rect x="162.72" y="53.11" width="4.35" height="33.43" fill="url(#fa1)"/>
<rect x="162.72" y="86.23" width="4.35" height="27.07" fill="url(#fa1)"/>
<rect x="168.33" y="20.23" width="2.64" height="3.5" fill="#b4b4b4"/>
<rect x="168.33" y="23.73" width="2.64" height="18.26" fill="url(#fa2)"/>
<rect x="168.33" y="41.70" width="2.64" height="16.47" fill="url(#fa2)"/>
<rect x="168.33" y="57.87" width="2.64" height="27.89" fill="url(#fa2)"/>
<rect x="168.33" y="85.47" width="2.64" height="27.83" fill="url(#fa2)"/>
<rect x="172.58" y="19.55" width="4.58" height="3.5" fill="#b4b4b4"/>
<rect x="172.58" y="23.05" width="4.58" height="33.63" fill="url(#fa3)"/>
<rect x="172.58" y="56.38" width="4.58" height="27.59" fill="url(#fa4)"/>
<rect x="172.58" y="83.67" width="4.58" height="16.21" fill="url(#fa4)"/>
<rect x="172.58" y="99.58" width="4.58" height="13.72" fill="url(#fa4)"/>
<rect x="178.28" y="20.25" width="3.81" height="3.5" fill="#b4b4b4"/>
<rect x="178.28" y="23.75" width="3.81" height="24.14" fill="url(#fa2)"/>
<rect x="178.28" y="47.59" width="3.81" height="27.18" fill="url(#fa3)"/>
<rect x="178.28" y="74.47" width="3.81" height="28.25" fill="url(#fa2)"/>
<rect x="178.28" y="102.43" width="3.81" height="10.87" fill="url(#fa1)"/>
<rect x="182.83" y="20.69" width="3.10" height="3.5" fill="#b4b4b4"/>
<rect x="182.83" y="24.19" width="3.10" height="38.14" fill="url(#fa3)"/>
<rect x="182.83" y="62.03" width="3.10" height="28.16" fill="url(#fa3)"/>
<rect x="182.83" y="89.90" width="3.10" height="23.40" fill="url(#fa2)"/>
<rect x="19.30" y="60.30" width="5.46" height="52.70" fill="#242424"/>
<rect x="20.00" y="61.30" width="4.06" height="2.2" fill="#c0c0c0"/>
<rect x="20.00" y="63.50" width="4.06" height="16.22" fill="url(#fa4)"/>
<rect x="20.00" y="79.42" width="4.06" height="20.58" fill="url(#fa4)"/>
<rect x="20.00" y="99.70" width="4.06" height="13.60" fill="url(#fa4)"/>
<rect x="24.37" y="56.35" width="4.24" height="56.65" fill="#242424"/>
<rect x="25.07" y="57.35" width="2.84" height="2.2" fill="#c0c0c0"/>
<rect x="25.07" y="59.55" width="2.84" height="10.48" fill="url(#fa2)"/>
<rect x="25.07" y="69.73" width="2.84" height="15.97" fill="url(#fa2)"/>
<rect x="25.07" y="85.41" width="2.84" height="24.23" fill="url(#fa3)"/>
<rect x="25.07" y="109.33" width="2.84" height="3.97" fill="url(#fa2)"/>
<rect x="28.56" y="62.30" width="5.79" height="50.70" fill="#242424"/>
<rect x="29.26" y="63.30" width="4.39" height="2.2" fill="#c0c0c0"/>
<rect x="29.26" y="65.50" width="4.39" height="20.06" fill="url(#fa3)"/>
<rect x="29.26" y="85.26" width="4.39" height="18.95" fill="url(#fa2)"/>
<rect x="29.26" y="103.91" width="4.39" height="9.39" fill="url(#fa2)"/>
<rect x="36.44" y="57.34" width="4.83" height="55.66" fill="#242424"/>
<rect x="37.14" y="58.34" width="3.43" height="2.2" fill="#c0c0c0"/>
<rect x="37.14" y="60.54" width="3.43" height="10.70" fill="url(#fa2)"/>
<rect x="37.14" y="70.94" width="3.43" height="27.17" fill="url(#fa1)"/>
<rect x="37.14" y="97.81" width="3.43" height="15.49" fill="url(#fa1)"/>
<rect x="40.85" y="52.60" width="4.13" height="60.40" fill="#242424"/>
<rect x="41.55" y="53.60" width="2.73" height="2.2" fill="#c0c0c0"/>
<rect x="41.55" y="55.80" width="2.73" height="29.59" fill="url(#fa2)"/>
<rect x="41.55" y="85.09" width="2.73" height="14.03" fill="url(#fa2)"/>
<rect x="41.55" y="98.82" width="2.73" height="10.51" fill="url(#fa2)"/>
<rect x="41.55" y="109.03" width="2.73" height="4.27" fill="url(#fa2)"/>
<rect x="45.02" y="53.21" width="4.90" height="59.79" fill="#242424"/>
<rect x="45.72" y="54.21" width="3.50" height="2.2" fill="#c0c0c0"/>
<rect x="45.72" y="56.41" width="3.50" height="22.87" fill="url(#fa0)"/>
<rect x="45.72" y="78.98" width="3.50" height="25.52" fill="url(#fa0)"/>
<rect x="45.72" y="104.20" width="3.50" height="9.10" fill="url(#fa0)"/>
<rect x="49.45" y="51.03" width="4.88" height="61.97" fill="#242424"/>
<rect x="50.15" y="52.03" width="3.48" height="2.2" fill="#c0c0c0"/>
<rect x="50.15" y="54.23" width="3.48" height="15.19" fill="url(#fa1)"/>
<rect x="50.15" y="69.12" width="3.48" height="21.83" fill="url(#fa0)"/>
<rect x="50.15" y="90.66" width="3.48" height="18.29" fill="url(#fa0)"/>
<rect x="50.15" y="108.65" width="3.48" height="4.65" fill="url(#fa0)"/>
<rect x="53.80" y="57.89" width="5.57" height="55.11" fill="#242424"/>
<rect x="54.50" y="58.89" width="4.17" height="2.2" fill="#c0c0c0"/>
<rect x="54.50" y="61.09" width="4.17" height="20.27" fill="url(#fa4)"/>
<rect x="54.50" y="81.06" width="4.17" height="25.73" fill="url(#fa4)"/>
<rect x="54.50" y="106.49" width="4.17" height="6.81" fill="url(#fa3)"/>
<rect x="59.10" y="63.70" width="4.86" height="49.30" fill="#242424"/>
<rect x="59.80" y="64.70" width="3.46" height="2.2" fill="#c0c0c0"/>
<rect x="59.80" y="66.90" width="3.46" height="17.72" fill="url(#fa3)"/>
<rect x="59.80" y="84.32" width="3.46" height="23.42" fill="url(#fa4)"/>
<rect x="59.80" y="107.44" width="3.46" height="5.86" fill="url(#fa4)"/>
<rect x="63.49" y="66.16" width="3.91" height="46.84" fill="#242424"/>
<rect x="64.19" y="67.16" width="2.51" height="2.2" fill="#c0c0c0"/>
<rect x="64.19" y="69.36" width="2.51" height="25.37" fill="url(#fa1)"/>
<rect x="64.19" y="94.43" width="2.51" height="16.54" fill="url(#fa2)"/>
<rect x="64.19" y="110.66" width="2.51" height="2.64" fill="url(#fa3)"/>
<rect x="67.03" y="63.85" width="5.61" height="49.15" fill="#242424"/>
<rect x="67.73" y="64.85" width="4.21" height="2.2" fill="#c0c0c0"/>
<rect x="67.73" y="67.05" width="4.21" height="20.55" fill="url(#fa2)"/>
<rect x="67.73" y="87.30" width="4.21" height="22.85" fill="url(#fa3)"/>
<rect x="67.73" y="109.86" width="4.21" height="3.44" fill="url(#fa3)"/>
<rect x="72.08" y="61.04" width="5.25" height="51.96" fill="#242424"/>
<rect x="72.78" y="62.04" width="3.85" height="2.2" fill="#c0c0c0"/>
<rect x="72.78" y="64.24" width="3.85" height="14.03" fill="url(#fa2)"/>
<rect x="72.78" y="77.97" width="3.85" height="18.81" fill="url(#fa2)"/>
<rect x="72.78" y="96.48" width="3.85" height="13.55" fill="url(#fa2)"/>
<rect x="72.78" y="109.73" width="3.85" height="3.57" fill="url(#fa2)"/>
<rect x="80.21" y="59.09" width="4.30" height="53.91" fill="#242424"/>
<rect x="80.91" y="60.09" width="2.90" height="2.2" fill="#c0c0c0"/>
<rect x="80.91" y="62.29" width="2.90" height="28.28" fill="url(#fa4)"/>
<rect x="80.91" y="90.27" width="2.90" height="23.03" fill="url(#fa4)"/>
<rect x="84.19" y="50.38" width="4.09" height="62.62" fill="#242424"/>
<rect x="84.89" y="51.38" width="2.69" height="2.2" fill="#c0c0c0"/>
<rect x="84.89" y="53.58" width="2.69" height="16.06" fill="url(#fa0)"/>
<rect x="84.89" y="69.34" width="2.69" height="27.88" fill="url(#fa0)"/>
<rect x="84.89" y="96.92" width="2.69" height="16.38" fill="url(#fa0)"/>
<rect x="87.97" y="50.78" width="4.46" height="62.22" fill="#242424"/>
<rect x="88.67" y="51.78" width="3.06" height="2.2" fill="#c0c0c0"/>
<rect x="88.67" y="53.98" width="3.06" height="10.86" fill="url(#fa3)"/>
<rect x="88.67" y="64.53" width="3.06" height="28.63" fill="url(#fa3)"/>
<rect x="88.67" y="92.86" width="3.06" height="20.44" fill="url(#fa3)"/>
<rect x="92.13" y="48.72" width="5.38" height="64.28" fill="#242424"/>
<rect x="92.83" y="49.72" width="3.98" height="2.2" fill="#c0c0c0"/>
<rect x="92.83" y="51.92" width="3.98" height="26.77" fill="url(#fa1)"/>
<rect x="92.83" y="78.38" width="3.98" height="20.29" fill="url(#fa1)"/>
<rect x="92.83" y="98.37" width="3.98" height="14.93" fill="url(#fa2)"/>
<rect x="97.60" y="52.44" width="4.56" height="60.56" fill="#242424"/>
<rect x="98.30" y="53.44" width="3.16" height="2.2" fill="#c0c0c0"/>
<rect x="98.30" y="55.64" width="3.16" height="13.04" fill="url(#fa0)"/>
<rect x="98.30" y="68.38" width="3.16" height="25.39" fill="url(#fa0)"/>
<rect x="98.30" y="93.46" width="3.16" height="19.39" fill="url(#fa1)"/>
<rect x="98.30" y="112.55" width="3.16" height="0.75" fill="url(#fa1)"/>
<rect x="105.08" y="42.78" width="5.11" height="70.22" fill="#242424"/>
<rect x="105.78" y="43.78" width="3.71" height="2.2" fill="#c0c0c0"/>
<rect x="105.78" y="45.98" width="3.71" height="12.62" fill="url(#fa4)"/>
<rect x="105.78" y="58.29" width="3.71" height="10.41" fill="url(#fa4)"/>
<rect x="105.78" y="68.40" width="3.71" height="27.00" fill="url(#fa4)"/>
<rect x="105.78" y="95.10" width="3.71" height="18.20" fill="url(#fa4)"/>
<rect x="110.29" y="44.54" width="5.56" height="68.46" fill="#242424"/>
<rect x="110.99" y="45.54" width="4.16" height="2.2" fill="#c0c0c0"/>
<rect x="110.99" y="47.74" width="4.16" height="13.00" fill="url(#fa2)"/>
<rect x="110.99" y="60.44" width="4.16" height="23.33" fill="url(#fa2)"/>
<rect x="110.99" y="83.47" width="4.16" height="14.40" fill="url(#fa2)"/>
<rect x="110.99" y="97.57" width="4.16" height="15.73" fill="url(#fa2)"/>
<rect x="115.46" y="38.97" width="5.39" height="74.03" fill="#242424"/>
<rect x="116.16" y="39.97" width="3.99" height="2.2" fill="#c0c0c0"/>
<rect x="116.16" y="42.17" width="3.99" height="24.17" fill="url(#fa1)"/>
<rect x="116.16" y="66.03" width="3.99" height="11.14" fill="url(#fa0)"/>
<rect x="116.16" y="76.88" width="3.99" height="13.77" fill="url(#fa0)"/>
<rect x="116.16" y="90.35" width="3.99" height="22.95" fill="url(#fa0)"/>
<rect x="120.38" y="39.42" width="5.04" height="73.58" fill="#242424"/>
<rect x="121.08" y="40.42" width="3.64" height="2.2" fill="#c0c0c0"/>
<rect x="121.08" y="42.62" width="3.64" height="12.25" fill="url(#fa1)"/>
<rect x="121.08" y="54.57" width="3.64" height="18.55" fill="url(#fa1)"/>
<rect x="121.08" y="72.81" width="3.64" height="14.63" fill="url(#fa2)"/>
<rect x="121.08" y="87.14" width="3.64" height="17.98" fill="url(#fa2)"/>
<rect x="121.08" y="104.82" width="3.64" height="8.48" fill="url(#fa1)"/>
<rect x="127.26" y="65.29" width="4.18" height="47.71" fill="#242424"/>
<rect x="127.96" y="66.29" width="2.78" height="2.2" fill="#c0c0c0"/>
<rect x="127.96" y="68.49" width="2.78" height="29.59" fill="url(#fa4)"/>
<rect x="127.96" y="97.78" width="2.78" height="15.52" fill="url(#fa4)"/>
<rect x="131.61" y="71.57" width="4.17" height="41.43" fill="#242424"/>
<rect x="132.31" y="72.57" width="2.77" height="2.2" fill="#c0c0c0"/>
<rect x="132.31" y="74.77" width="2.77" height="11.99" fill="url(#fa4)"/>
<rect x="132.31" y="86.46" width="2.77" height="26.84" fill="url(#fa4)"/>
<rect x="135.67" y="63.22" width="5.43" height="49.78" fill="#242424"/>
<rect x="136.37" y="64.22" width="4.03" height="2.2" fill="#c0c0c0"/>
<rect x="136.37" y="66.42" width="4.03" height="26.39" fill="url(#fa3)"/>
<rect x="136.37" y="92.50" width="4.03" height="20.80" fill="url(#fa3)"/>
<rect x="141.23" y="70.05" width="5.24" height="42.95" fill="#242424"/>
<rect x="141.93" y="71.05" width="3.84" height="2.2" fill="#c0c0c0"/>
<rect x="141.93" y="73.25" width="3.84" height="12.10" fill="url(#fa4)"/>
<rect x="141.93" y="85.05" width="3.84" height="17.57" fill="url(#fa4)"/>
<rect x="141.93" y="102.32" width="3.84" height="10.98" fill="url(#fa4)"/>
<rect x="145.88" y="49.83" width="4.93" height="63.17" fill="#242424"/>
<rect x="146.58" y="50.83" width="3.53" height="2.2" fill="#c0c0c0"/>
<rect x="146.58" y="53.03" width="3.53" height="13.49" fill="url(#fa2)"/>
<rect x="146.58" y="66.22" width="3.53" height="23.38" fill="url(#fa2)"/>
<rect x="146.58" y="89.29" width="3.53" height="24.01" fill="url(#fa3)"/>
<rect x="150.72" y="43.88" width="4.87" height="69.12" fill="#242424"/>
<rect x="151.42" y="44.88" width="3.47" height="2.2" fill="#c0c0c0"/>
<rect x="151.42" y="47.08" width="3.47" height="20.51" fill="url(#fa3)"/>
<rect x="151.42" y="67.29" width="3.47" height="23.13" fill="url(#fa3)"/>
<rect x="151.42" y="90.12" width="3.47" height="19.50" fill="url(#fa4)"/>
<rect x="151.42" y="109.32" width="3.47" height="3.98" fill="url(#fa4)"/>
<rect x="155.09" y="44.93" width="5.12" height="68.07" fill="#242424"/>
<rect x="155.79" y="45.93" width="3.72" height="2.2" fill="#c0c0c0"/>
<rect x="155.79" y="48.13" width="3.72" height="16.63" fill="url(#fa3)"/>
<rect x="155.79" y="64.47" width="3.72" height="20.99" fill="url(#fa3)"/>
<rect x="155.79" y="85.16" width="3.72" height="22.96" fill="url(#fa3)"/>
<rect x="155.79" y="107.81" width="3.72" height="5.49" fill="url(#fa3)"/>
<rect x="159.98" y="40.89" width="3.99" height="72.11" fill="#242424"/>
<rect x="160.68" y="41.89" width="2.59" height="2.2" fill="#c0c0c0"/>
<rect x="160.68" y="44.09" width="2.59" height="22.23" fill="url(#fa3)"/>
<rect x="160.68" y="66.03" width="2.59" height="15.27" fill="url(#fa3)"/>
<rect x="160.68" y="81.00" width="2.59" height="12.04" fill="url(#fa2)"/>
<rect x="160.68" y="92.74" width="2.59" height="20.56" fill="url(#fa1)"/>
<rect x="163.95" y="43.35" width="4.21" height="69.65" fill="#242424"/>
<rect x="164.65" y="44.35" width="2.81" height="2.2" fill="#c0c0c0"/>
<rect x="164.65" y="46.55" width="2.81" height="20.51" fill="url(#fa0)"/>
<rect x="164.65" y="66.76" width="2.81" height="23.11" fill="url(#fa1)"/>
<rect x="164.65" y="89.57" width="2.81" height="23.73" fill="url(#fa2)"/>
<rect x="167.99" y="37.90" width="4.32" height="75.10" fill="#242424"/>
<rect x="168.69" y="38.90" width="2.92" height="2.2" fill="#c0c0c0"/>
<rect x="168.69" y="41.10" width="2.92" height="29.67" fill="url(#fa3)"/>
<rect x="168.69" y="70.47" width="2.92" height="14.24" fill="url(#fa3)"/>
<rect x="168.69" y="84.41" width="2.92" height="28.89" fill="url(#fa4)"/>
<rect x="172.27" y="54.62" width="3.92" height="58.38" fill="#242424"/>
<rect x="172.97" y="55.62" width="2.52" height="2.2" fill="#c0c0c0"/>
<rect x="172.97" y="57.82" width="2.52" height="20.57" fill="url(#fa3)"/>
<rect x="172.97" y="78.10" width="2.52" height="23.88" fill="url(#fa3)"/>
<rect x="172.97" y="101.68" width="2.52" height="11.62" fill="url(#fa2)"/>
<rect x="175.87" y="55.50" width="4.47" height="57.50" fill="#242424"/>
<rect x="176.57" y="56.50" width="3.07" height="2.2" fill="#c0c0c0"/>
<rect x="176.57" y="58.70" width="3.07" height="13.72" fill="url(#fa1)"/>
<rect x="176.57" y="72.12" width="3.07" height="16.61" fill="url(#fa0)"/>
<rect x="176.57" y="88.43" width="3.07" height="10.98" fill="url(#fa0)"/>
<rect x="176.57" y="99.10" width="3.07" height="14.20" fill="url(#fa1)"/>
<rect x="180.38" y="56.70" width="5.45" height="56.30" fill="#242424"/>
<rect x="181.08" y="57.70" width="4.05" height="2.2" fill="#c0c0c0"/>
<rect x="181.08" y="59.90" width="4.05" height="26.72" fill="url(#fa4)"/>
<rect x="181.08" y="86.31" width="4.05" height="26.01" fill="url(#fa4)"/>
<rect x="181.08" y="112.03" width="4.05" height="1.27" fill="url(#fa4)"/>
<rect x="22" y="20" width="163" height="93" filter="url(#nG1)" style="mix-blend-mode:overlay" opacity="0.6"/>
<rect x="22" y="0" width="163" height="20.5" fill="#777"/>
<rect x="22" y="0" width="163" height="1" fill="#9a9a9a"/>
<rect x="22" y="19.5" width="163" height="3.5" fill="#8e8e8e" opacity="0.55"/>
</g>
<g clip-path="url(#cA2)">
<rect x="189" y="0" width="163" height="113" fill="#2b2b2b"/>
<linearGradient id="fb20" x1="0" x2="1" y1="0" y2="0"><stop offset="0" stop-color="#555555"/><stop offset="0.25" stop-color="#919191"/><stop offset="0.55" stop-color="#9b9b9b"/><stop offset="1" stop-color="#787878"/></linearGradient>
<linearGradient id="fb21" x1="0" x2="1" y1="0" y2="0"><stop offset="0" stop-color="#5f5f5f"/><stop offset="0.25" stop-color="#9b9b9b"/><stop offset="0.55" stop-color="#a5a5a5"/><stop offset="1" stop-color="#828282"/></linearGradient>
<linearGradient id="fb22" x1="0" x2="1" y1="0" y2="0"><stop offset="0" stop-color="#696969"/><stop offset="0.25" stop-color="#a5a5a5"/><stop offset="0.55" stop-color="#afafaf"/><stop offset="1" stop-color="#8c8c8c"/></linearGradient>
<linearGradient id="fb23" x1="0" x2="1" y1="0" y2="0"><stop offset="0" stop-color="#737373"/><stop offset="0.25" stop-color="#afafaf"/><stop offset="0.55" stop-color="#b9b9b9"/><stop offset="1" stop-color="#969696"/></linearGradient>
<linearGradient id="fb24" x1="0" x2="1" y1="0" y2="0"><stop offset="0" stop-color="#7d7d7d"/><stop offset="0.25" stop-color="#b9b9b9"/><stop offset="0.55" stop-color="#c3c3c3"/><stop offset="1" stop-color="#a0a0a0"/></linearGradient>
<rect x="189" y="48" width="163" height="65" fill="#5a5a5a"/>
<rect x="186.82" y="48.57" width="3.85" height="40.20" fill="url(#fb21)"/>
<rect x="186.82" y="88.47" width="3.85" height="18.52" fill="url(#fb22)"/>
<rect x="186.82" y="106.69" width="3.85" height="6.61" fill="url(#fb22)"/>
<rect x="191.20" y="48.58" width="3.63" height="21.33" fill="url(#fb23)"/>
<rect x="191.20" y="69.61" width="3.63" height="37.48" fill="url(#fb22)"/>
<rect x="191.20" y="106.79" width="3.63" height="6.51" fill="url(#fb22)"/>
<rect x="195.36" y="49.35" width="2.56" height="34.24" fill="url(#fb22)"/>
<rect x="195.36" y="83.28" width="2.56" height="10.86" fill="url(#fb21)"/>
<rect x="195.36" y="93.84" width="2.56" height="19.46" fill="url(#fb21)"/>
<rect x="198.46" y="51.79" width="2.60" height="30.13" fill="url(#fb20)"/>
<rect x="198.46" y="81.61" width="2.60" height="26.48" fill="url(#fb20)"/>
<rect x="198.46" y="107.80" width="2.60" height="5.50" fill="url(#fb20)"/>
<rect x="201.76" y="48.33" width="3.62" height="22.87" fill="url(#fb24)"/>
<rect x="201.76" y="70.90" width="3.62" height="24.60" fill="url(#fb24)"/>
<rect x="201.76" y="95.20" width="3.62" height="18.10" fill="url(#fb23)"/>
<rect x="205.83" y="50.65" width="4.53" height="38.53" fill="url(#fb23)"/>
<rect x="205.83" y="88.89" width="4.53" height="24.41" fill="url(#fb22)"/>
<rect x="211.05" y="49.49" width="2.96" height="34.60" fill="url(#fb24)"/>
<rect x="211.05" y="83.79" width="2.96" height="11.14" fill="url(#fb24)"/>
<rect x="211.05" y="94.63" width="2.96" height="11.28" fill="url(#fb23)"/>
<rect x="211.05" y="105.61" width="2.96" height="7.69" fill="url(#fb24)"/>
<rect x="214.37" y="50.43" width="2.50" height="16.92" fill="url(#fb23)"/>
<rect x="214.37" y="67.05" width="2.50" height="31.18" fill="url(#fb22)"/>
<rect x="214.37" y="97.93" width="2.50" height="15.37" fill="url(#fb23)"/>
<rect x="217.17" y="48.21" width="3.16" height="21.35" fill="url(#fb23)"/>
<rect x="217.17" y="69.26" width="3.16" height="18.76" fill="url(#fb24)"/>
<rect x="217.17" y="87.71" width="3.16" height="25.59" fill="url(#fb24)"/>
<rect x="220.84" y="49.86" width="2.93" height="21.23" fill="url(#fb24)"/>
<rect x="220.84" y="70.78" width="2.93" height="33.29" fill="url(#fb24)"/>
<rect x="220.84" y="103.78" width="2.93" height="9.52" fill="url(#fb23)"/>
<rect x="224.47" y="51.21" width="4.48" height="17.55" fill="url(#fb20)"/>
<rect x="224.47" y="68.45" width="4.48" height="25.34" fill="url(#fb20)"/>
<rect x="224.47" y="93.50" width="4.48" height="19.80" fill="url(#fb20)"/>
<rect x="229.61" y="48.10" width="4.60" height="36.76" fill="url(#fb22)"/>
<rect x="229.61" y="84.55" width="4.60" height="28.75" fill="url(#fb22)"/>
<rect x="234.66" y="49.96" width="4.13" height="18.18" fill="url(#fb23)"/>
<rect x="234.66" y="67.84" width="4.13" height="37.13" fill="url(#fb23)"/>
<rect x="234.66" y="104.67" width="4.13" height="8.63" fill="url(#fb22)"/>
<rect x="239.23" y="50.06" width="3.01" height="31.44" fill="url(#fb23)"/>
<rect x="239.23" y="81.20" width="3.01" height="32.10" fill="url(#fb23)"/>
<rect x="242.92" y="48.11" width="2.46" height="36.89" fill="url(#fb24)"/>
<rect x="242.92" y="84.70" width="2.46" height="14.45" fill="url(#fb24)"/>
<rect x="242.92" y="98.85" width="2.46" height="14.45" fill="url(#fb23)"/>
<rect x="245.58" y="51.68" width="3.63" height="33.11" fill="url(#fb23)"/>
<rect x="245.58" y="84.49" width="3.63" height="23.24" fill="url(#fb22)"/>
<rect x="245.58" y="107.43" width="3.63" height="5.87" fill="url(#fb22)"/>
<rect x="249.73" y="49.47" width="3.68" height="27.20" fill="url(#fb22)"/>
<rect x="249.73" y="76.37" width="3.68" height="30.96" fill="url(#fb22)"/>
<rect x="249.73" y="107.04" width="3.68" height="6.26" fill="url(#fb21)"/>
<rect x="253.78" y="50.14" width="4.37" height="34.07" fill="url(#fb23)"/>
<rect x="253.78" y="83.91" width="4.37" height="15.97" fill="url(#fb23)"/>
<rect x="253.78" y="99.58" width="4.37" height="13.72" fill="url(#fb24)"/>
<rect x="258.81" y="50.14" width="3.77" height="27.72" fill="url(#fb22)"/>
<rect x="258.81" y="77.56" width="3.77" height="22.51" fill="url(#fb22)"/>
<rect x="258.81" y="99.76" width="3.77" height="12.77" fill="url(#fb22)"/>
<rect x="258.81" y="112.23" width="3.77" height="1.07" fill="url(#fb21)"/>
<rect x="262.84" y="48.72" width="3.99" height="21.27" fill="url(#fb22)"/>
<rect x="262.84" y="69.69" width="3.99" height="16.57" fill="url(#fb23)"/>
<rect x="262.84" y="85.96" width="3.99" height="24.86" fill="url(#fb22)"/>
<rect x="262.84" y="110.52" width="3.99" height="2.78" fill="url(#fb22)"/>
<rect x="267.18" y="48.39" width="3.41" height="10.53" fill="url(#fb21)"/>
<rect x="267.18" y="58.62" width="3.41" height="21.29" fill="url(#fb21)"/>
<rect x="267.18" y="79.61" width="3.41" height="30.95" fill="url(#fb21)"/>
<rect x="267.18" y="110.27" width="3.41" height="3.03" fill="url(#fb21)"/>
<rect x="271.23" y="48.65" width="3.50" height="21.97" fill="url(#fb23)"/>
<rect x="271.23" y="70.31" width="3.50" height="24.11" fill="url(#fb22)"/>
<rect x="271.23" y="94.12" width="3.50" height="19.18" fill="url(#fb22)"/>
<rect x="275.28" y="51.17" width="3.30" height="30.50" fill="url(#fb23)"/>
<rect x="275.28" y="81.37" width="3.30" height="31.93" fill="url(#fb23)"/>
<rect x="279.12" y="49.29" width="3.17" height="37.17" fill="url(#fb23)"/>
<rect x="279.12" y="86.16" width="3.17" height="15.41" fill="url(#fb24)"/>
<rect x="279.12" y="101.27" width="3.17" height="12.03" fill="url(#fb24)"/>
<rect x="282.86" y="51.21" width="2.95" height="22.56" fill="url(#fb22)"/>
<rect x="282.86" y="73.47" width="2.95" height="21.97" fill="url(#fb22)"/>
<rect x="282.86" y="95.14" width="2.95" height="14.75" fill="url(#fb22)"/>
<rect x="282.86" y="109.59" width="2.95" height="3.71" fill="url(#fb23)"/>
<rect x="286.04" y="49.05" width="3.31" height="33.36" fill="url(#fb24)"/>
<rect x="286.04" y="82.11" width="3.31" height="21.84" fill="url(#fb24)"/>
<rect x="286.04" y="103.65" width="3.31" height="9.65" fill="url(#fb24)"/>
<rect x="289.85" y="49.02" width="2.77" height="25.98" fill="url(#fb21)"/>
<rect x="289.85" y="74.70" width="2.77" height="36.35" fill="url(#fb21)"/>
<rect x="289.85" y="110.75" width="2.77" height="2.55" fill="url(#fb21)"/>
<rect x="292.93" y="49.24" width="4.10" height="32.77" fill="url(#fb20)"/>
<rect x="292.93" y="81.71" width="4.10" height="26.97" fill="url(#fb20)"/>
<rect x="292.93" y="108.38" width="4.10" height="4.92" fill="url(#fb20)"/>
<rect x="297.65" y="51.23" width="2.83" height="39.75" fill="url(#fb21)"/>
<rect x="297.65" y="90.68" width="2.83" height="22.62" fill="url(#fb20)"/>
<rect x="300.78" y="50.74" width="3.74" height="16.31" fill="url(#fb23)"/>
<rect x="300.78" y="66.75" width="3.74" height="26.13" fill="url(#fb23)"/>
<rect x="300.78" y="92.57" width="3.74" height="20.73" fill="url(#fb24)"/>
<rect x="304.77" y="50.54" width="3.80" height="35.89" fill="url(#fb22)"/>
<rect x="304.77" y="86.12" width="3.80" height="27.18" fill="url(#fb22)"/>
<rect x="309.00" y="51.03" width="2.45" height="31.01" fill="url(#fb23)"/>
<rect x="309.00" y="81.74" width="2.45" height="26.76" fill="url(#fb23)"/>
<rect x="309.00" y="108.20" width="2.45" height="5.10" fill="url(#fb23)"/>
<rect x="311.72" y="49.69" width="3.17" height="35.41" fill="url(#fb20)"/>
<rect x="311.72" y="84.80" width="3.17" height="11.23" fill="url(#fb20)"/>
<rect x="311.72" y="95.73" width="3.17" height="17.57" fill="url(#fb21)"/>
<rect x="315.21" y="49.35" width="3.78" height="35.21" fill="url(#fb24)"/>
<rect x="315.21" y="84.26" width="3.78" height="22.02" fill="url(#fb24)"/>
<rect x="315.21" y="105.98" width="3.78" height="7.32" fill="url(#fb24)"/>
<rect x="319.42" y="49.94" width="2.71" height="30.37" fill="url(#fb20)"/>
<rect x="319.42" y="80.02" width="2.71" height="16.22" fill="url(#fb20)"/>
<rect x="319.42" y="95.94" width="2.71" height="17.36" fill="url(#fb20)"/>
<rect x="322.40" y="49.36" width="4.22" height="33.26" fill="url(#fb24)"/>
<rect x="322.40" y="82.32" width="4.22" height="20.58" fill="url(#fb24)"/>
<rect x="322.40" y="102.59" width="4.22" height="10.71" fill="url(#fb24)"/>
<rect x="327.19" y="48.51" width="3.25" height="30.29" fill="url(#fb24)"/>
<rect x="327.19" y="78.49" width="3.25" height="32.65" fill="url(#fb24)"/>
<rect x="327.19" y="110.84" width="3.25" height="2.46" fill="url(#fb23)"/>
<rect x="330.94" y="49.97" width="2.66" height="26.74" fill="url(#fb22)"/>
<rect x="330.94" y="76.41" width="2.66" height="21.65" fill="url(#fb22)"/>
<rect x="330.94" y="97.76" width="2.66" height="15.54" fill="url(#fb22)"/>
<rect x="334.10" y="48.28" width="4.48" height="22.29" fill="url(#fb24)"/>
<rect x="334.10" y="70.28" width="4.48" height="38.51" fill="url(#fb24)"/>
<rect x="334.10" y="108.49" width="4.48" height="4.81" fill="url(#fb24)"/>
<rect x="339.08" y="50.63" width="3.05" height="11.59" fill="url(#fb23)"/>
<rect x="339.08" y="61.92" width="3.05" height="29.73" fill="url(#fb22)"/>
<rect x="339.08" y="91.34" width="3.05" height="21.96" fill="url(#fb21)"/>
<rect x="342.49" y="49.94" width="4.30" height="30.51" fill="url(#fb20)"/>
<rect x="342.49" y="80.15" width="4.30" height="33.15" fill="url(#fb20)"/>
<rect x="347.08" y="48.93" width="3.02" height="18.52" fill="url(#fb20)"/>
<rect x="347.08" y="67.15" width="3.02" height="29.42" fill="url(#fb20)"/>
<rect x="347.08" y="96.27" width="3.02" height="17.03" fill="url(#fb20)"/>
<rect x="350.72" y="49.57" width="3.41" height="21.96" fill="url(#fb23)"/>
<rect x="350.72" y="71.23" width="3.41" height="31.75" fill="url(#fb23)"/>
<rect x="350.72" y="102.68" width="3.41" height="10.62" fill="url(#fb24)"/>
<rect x="189" y="48" width="163" height="65" filter="url(#nG2)" style="mix-blend-mode:overlay" opacity="0.4"/>
<clipPath id="cStrip"><path d="M189,34.6 C230,34.3 270,32.5 300,30.5 C320,29 340,27 352,25.0 L352,39.5 C335,41.3 315,42.5 300,43.6 C270,45.5 230,46.8 189,47.2 Z"/></clipPath>
<path d="M189,34.6 C230,34.3 270,32.5 300,30.5 C320,29 340,27 352,25.0 L352,39.5 C335,41.3 315,42.5 300,43.6 C270,45.5 230,46.8 189,47.2 Z" fill="#8a8a8a"/>
<rect x="189" y="24" width="163" height="24" filter="url(#nH2)" style="mix-blend-mode:overlay" opacity="0.55" clip-path="url(#cStrip)"/>
<path d="M189,46.2 C230,46 270,44.6 300,42.7 C320,41.2 340,39.6 352,38.6" stroke="#a8a8a8" stroke-width="1" fill="none" opacity="0.8"/>
<path d="M189,46.8 C240,46 300,43.5 352,39.3 L352,47.5 C320,48.5 300,48.8 270,49 L189,49.6 Z" fill="#222"/>
<rect x="189" y="0" width="1" height="113" fill="#888"/>
</g>
<g clip-path="url(#cA3)">
<rect x="356" y="72" width="163" height="41" fill="#3a3a3a"/>
<rect x="355.53" y="72.00" width="1.45" height="11.24" fill="#666666"/>
<rect x="355.53" y="83.24" width="1.45" height="24.15" fill="#5d5d5d"/>
<rect x="355.53" y="107.39" width="1.45" height="5.61" fill="#616161"/>
<rect x="357.77" y="72.00" width="1.62" height="27.17" fill="#626262"/>
<rect x="357.77" y="99.17" width="1.62" height="13.83" fill="#5e5e5e"/>
<rect x="360.11" y="72.00" width="1.57" height="18.71" fill="#484848"/>
<rect x="360.11" y="90.71" width="1.57" height="16.01" fill="#4b4b4b"/>
<rect x="360.11" y="106.72" width="1.57" height="6.28" fill="#525252"/>
<rect x="362.17" y="72.00" width="1.78" height="24.47" fill="#515151"/>
<rect x="362.17" y="96.47" width="1.78" height="11.89" fill="#4e4e4e"/>
<rect x="362.17" y="108.35" width="1.78" height="4.65" fill="#4c4c4c"/>
<rect x="364.73" y="72.00" width="1.14" height="13.18" fill="#646464"/>
<rect x="364.73" y="85.18" width="1.14" height="9.61" fill="#676767"/>
<rect x="364.73" y="94.79" width="1.14" height="18.21" fill="#5f5f5f"/>
<rect x="366.26" y="72.00" width="0.75" height="26.44" fill="#525252"/>
<rect x="366.26" y="98.44" width="0.75" height="14.56" fill="#545454"/>
<rect x="367.41" y="72.00" width="1.58" height="11.01" fill="#5e5e5e"/>
<rect x="367.41" y="83.01" width="1.58" height="21.28" fill="#595959"/>
<rect x="367.41" y="104.29" width="1.58" height="8.71" fill="#606060"/>
<rect x="369.43" y="72.00" width="1.10" height="23.05" fill="#626262"/>
<rect x="369.43" y="95.05" width="1.10" height="12.96" fill="#5a5a5a"/>
<rect x="369.43" y="108.01" width="1.10" height="4.99" fill="#585858"/>
<rect x="371.34" y="72.00" width="1.18" height="10.67" fill="#797979"/>
<rect x="371.34" y="82.67" width="1.18" height="13.92" fill="#7f7f7f"/>
<rect x="371.34" y="96.59" width="1.18" height="16.07" fill="#7c7c7c"/>
<rect x="371.34" y="112.66" width="1.18" height="0.34" fill="#696969"/>
<rect x="373.06" y="72.00" width="1.27" height="14.52" fill="#535353"/>
<rect x="373.06" y="86.52" width="1.27" height="24.24" fill="#606060"/>
<rect x="373.06" y="110.77" width="1.27" height="2.23" fill="#5f5f5f"/>
<rect x="374.96" y="72.00" width="1.09" height="12.48" fill="#6f6f6f"/>
<rect x="374.96" y="84.48" width="1.09" height="9.91" fill="#6b6b6b"/>
<rect x="374.96" y="94.39" width="1.09" height="18.61" fill="#6a6a6a"/>
<rect x="376.52" y="72.00" width="1.23" height="14.37" fill="#636363"/>
<rect x="376.52" y="86.37" width="1.23" height="10.46" fill="#646464"/>
<rect x="376.52" y="96.83" width="1.23" height="12.80" fill="#5a5a5a"/>
<rect x="376.52" y="109.63" width="1.23" height="3.37" fill="#5c5c5c"/>
<rect x="378.44" y="72.00" width="1.19" height="10.85" fill="#6a6a6a"/>
<rect x="378.44" y="82.85" width="1.19" height="15.10" fill="#656565"/>
<rect x="378.44" y="97.95" width="1.19" height="8.11" fill="#676767"/>
<rect x="378.44" y="106.05" width="1.19" height="6.95" fill="#626262"/>
<rect x="380.54" y="72.00" width="1.08" height="23.80" fill="#676767"/>
<rect x="380.54" y="95.80" width="1.08" height="17.20" fill="#5e5e5e"/>
<rect x="382.48" y="72.00" width="1.33" height="11.02" fill="#616161"/>
<rect x="382.48" y="83.02" width="1.33" height="25.87" fill="#5e5e5e"/>
<rect x="382.48" y="108.89" width="1.33" height="4.11" fill="#717171"/>
<rect x="384.55" y="72.00" width="0.76" height="27.06" fill="#6e6e6e"/>
<rect x="384.55" y="99.06" width="0.76" height="13.94" fill="#606060"/>
<rect x="385.63" y="72.00" width="1.49" height="10.41" fill="#5d5d5d"/>
<rect x="385.63" y="82.41" width="1.49" height="13.89" fill="#565656"/>
<rect x="385.63" y="96.30" width="1.49" height="16.70" fill="#5b5b5b"/>
<rect x="387.62" y="72.00" width="1.07" height="26.70" fill="#505050"/>
<rect x="387.62" y="98.70" width="1.07" height="14.30" fill="#6a6a6a"/>
<rect x="389.64" y="72.00" width="0.99" height="16.26" fill="#5a5a5a"/>
<rect x="389.64" y="88.26" width="0.99" height="12.20" fill="#666666"/>
<rect x="389.64" y="100.46" width="0.99" height="11.93" fill="#5d5d5d"/>
<rect x="389.64" y="112.39" width="0.99" height="0.61" fill="#606060"/>
<rect x="391.25" y="72.00" width="1.27" height="24.40" fill="#4c4c4c"/>
<rect x="391.25" y="96.40" width="1.27" height="8.48" fill="#616161"/>
<rect x="391.25" y="104.88" width="1.27" height="8.12" fill="#5b5b5b"/>
<rect x="393.41" y="72.00" width="1.25" height="18.70" fill="#626262"/>
<rect x="393.41" y="90.70" width="1.25" height="8.21" fill="#696969"/>
<rect x="393.41" y="98.91" width="1.25" height="14.09" fill="#626262"/>
<rect x="395.60" y="72.00" width="1.47" height="24.29" fill="#6e6e6e"/>
<rect x="395.60" y="96.29" width="1.47" height="16.71" fill="#5b5b5b"/>
<rect x="397.67" y="72.00" width="1.45" height="10.94" fill="#585858"/>
<rect x="397.67" y="82.94" width="1.45" height="21.12" fill="#565656"/>
<rect x="397.67" y="104.06" width="1.45" height="8.94" fill="#545454"/>
<rect x="399.93" y="72.00" width="1.66" height="17.11" fill="#565656"/>
<rect x="399.93" y="89.11" width="1.66" height="17.78" fill="#515151"/>
<rect x="399.93" y="106.88" width="1.66" height="6.12" fill="#5e5e5e"/>
<rect x="402.16" y="72.00" width="1.11" height="25.26" fill="#5a5a5a"/>
<rect x="402.16" y="97.26" width="1.11" height="15.74" fill="#4b4b4b"/>
<rect x="403.63" y="72.00" width="0.79" height="15.14" fill="#5f5f5f"/>
<rect x="403.63" y="87.14" width="0.79" height="25.86" fill="#5a5a5a"/>
<rect x="404.86" y="72.00" width="0.92" height="9.47" fill="#646464"/>
<rect x="404.86" y="81.47" width="0.92" height="12.67" fill="#6c6c6c"/>
<rect x="404.86" y="94.14" width="0.92" height="9.08" fill="#636363"/>
<rect x="404.86" y="103.23" width="0.92" height="9.77" fill="#5d5d5d"/>
<rect x="406.77" y="72.00" width="1.47" height="11.41" fill="#515151"/>
<rect x="406.77" y="83.41" width="1.47" height="19.46" fill="#515151"/>
<rect x="406.77" y="102.87" width="1.47" height="10.13" fill="#505050"/>
<rect x="409.10" y="72.00" width="0.97" height="20.19" fill="#616161"/>
<rect x="409.10" y="92.19" width="0.97" height="10.13" fill="#6c6c6c"/>
<rect x="409.10" y="102.32" width="0.97" height="10.68" fill="#676767"/>
<rect x="410.57" y="72.00" width="1.59" height="10.27" fill="#666666"/>
<rect x="410.57" y="82.27" width="1.59" height="20.66" fill="#646464"/>
<rect x="410.57" y="102.93" width="1.59" height="10.07" fill="#5c5c5c"/>
<rect x="412.61" y="72.00" width="0.70" height="10.22" fill="#686868"/>
<rect x="412.61" y="82.22" width="0.70" height="17.27" fill="#606060"/>
<rect x="412.61" y="99.50" width="0.70" height="8.03" fill="#666666"/>
<rect x="412.61" y="107.52" width="0.70" height="5.48" fill="#696969"/>
<rect x="414.23" y="72.00" width="1.10" height="20.40" fill="#6f6f6f"/>
<rect x="414.23" y="92.40" width="1.10" height="20.60" fill="#606060"/>
<rect x="416.16" y="72.00" width="1.24" height="21.63" fill="#636363"/>
<rect x="416.16" y="93.63" width="1.24" height="15.48" fill="#5a5a5a"/>
<rect x="416.16" y="109.11" width="1.24" height="3.89" fill="#4f4f4f"/>
<rect x="418.08" y="72.00" width="1.35" height="17.69" fill="#676767"/>
<rect x="418.08" y="89.69" width="1.35" height="23.31" fill="#5e5e5e"/>
<rect x="420.13" y="72.00" width="1.31" height="18.97" fill="#666666"/>
<rect x="420.13" y="90.97" width="1.31" height="8.94" fill="#606060"/>
<rect x="420.13" y="99.91" width="1.31" height="13.09" fill="#595959"/>
<rect x="422.13" y="72.00" width="1.55" height="25.66" fill="#686868"/>
<rect x="422.13" y="97.66" width="1.55" height="15.34" fill="#6f6f6f"/>
<rect x="424.28" y="72.00" width="1.19" height="16.85" fill="#6c6c6c"/>
<rect x="424.28" y="88.85" width="1.19" height="9.89" fill="#6d6d6d"/>
<rect x="424.28" y="98.74" width="1.19" height="14.26" fill="#696969"/>
<rect x="426.28" y="72.00" width="1.26" height="22.06" fill="#616161"/>
<rect x="426.28" y="94.06" width="1.26" height="18.94" fill="#606060"/>
<rect x="427.88" y="72.00" width="1.21" height="18.99" fill="#6c6c6c"/>
<rect x="427.88" y="90.99" width="1.21" height="11.25" fill="#636363"/>
<rect x="427.88" y="102.24" width="1.21" height="10.76" fill="#626262"/>
<rect x="429.42" y="72.00" width="1.46" height="13.47" fill="#565656"/>
<rect x="429.42" y="85.47" width="1.46" height="10.56" fill="#5c5c5c"/>
<rect x="429.42" y="96.03" width="1.46" height="11.95" fill="#595959"/>
<rect x="429.42" y="107.98" width="1.46" height="5.02" fill="#4f4f4f"/>
<rect x="431.85" y="72.00" width="1.68" height="11.14" fill="#555555"/>
<rect x="431.85" y="83.14" width="1.68" height="11.08" fill="#555555"/>
<rect x="431.85" y="94.22" width="1.68" height="18.78" fill="#555555"/>
<rect x="434.31" y="72.00" width="0.79" height="11.73" fill="#575757"/>
<rect x="434.31" y="83.73" width="0.79" height="17.93" fill="#5c5c5c"/>
<rect x="434.31" y="101.66" width="0.79" height="10.35" fill="#575757"/>
<rect x="434.31" y="112.01" width="0.79" height="0.99" fill="#5f5f5f"/>
<rect x="435.90" y="72.00" width="1.49" height="25.75" fill="#656565"/>
<rect x="435.90" y="97.75" width="1.49" height="8.01" fill="#595959"/>
<rect x="435.90" y="105.76" width="1.49" height="7.24" fill="#5b5b5b"/>
<rect x="438.01" y="72.00" width="1.46" height="9.55" fill="#616161"/>
<rect x="438.01" y="81.55" width="1.46" height="10.41" fill="#5f5f5f"/>
<rect x="438.01" y="91.96" width="1.46" height="21.04" fill="#5f5f5f"/>
<rect x="439.96" y="72.00" width="1.33" height="23.76" fill="#575757"/>
<rect x="439.96" y="95.76" width="1.33" height="15.48" fill="#575757"/>
<rect x="439.96" y="111.24" width="1.33" height="1.76" fill="#686868"/>
<rect x="442.21" y="72.00" width="1.66" height="9.63" fill="#6b6b6b"/>
<rect x="442.21" y="81.63" width="1.66" height="23.12" fill="#676767"/>
<rect x="442.21" y="104.75" width="1.66" height="8.25" fill="#5f5f5f"/>
<rect x="444.58" y="72.00" width="1.34" height="18.39" fill="#686868"/>
<rect x="444.58" y="90.39" width="1.34" height="17.38" fill="#565656"/>
<rect x="444.58" y="107.77" width="1.34" height="5.23" fill="#565656"/>
<rect x="446.49" y="72.00" width="1.44" height="15.23" fill="#646464"/>
<rect x="446.49" y="87.23" width="1.44" height="24.34" fill="#585858"/>
<rect x="446.49" y="111.57" width="1.44" height="1.43" fill="#696969"/>
<rect x="448.24" y="72.00" width="0.76" height="13.47" fill="#585858"/>
<rect x="448.24" y="85.47" width="0.76" height="19.33" fill="#707070"/>
<rect x="448.24" y="104.80" width="0.76" height="8.20" fill="#6b6b6b"/>
<rect x="449.40" y="72.00" width="1.09" height="8.25" fill="#5e5e5e"/>
<rect x="449.40" y="80.25" width="1.09" height="12.19" fill="#676767"/>
<rect x="449.40" y="92.44" width="1.09" height="20.56" fill="#656565"/>
<rect x="451.42" y="72.00" width="0.81" height="9.42" fill="#646464"/>
<rect x="451.42" y="81.42" width="0.81" height="22.29" fill="#666666"/>
<rect x="451.42" y="103.71" width="0.81" height="9.29" fill="#666666"/>
<rect x="453.15" y="72.00" width="1.07" height="12.17" fill="#565656"/>
<rect x="453.15" y="84.17" width="1.07" height="10.73" fill="#626262"/>
<rect x="453.15" y="94.90" width="1.07" height="17.28" fill="#5a5a5a"/>
<rect x="453.15" y="112.18" width="1.07" height="0.82" fill="#5e5e5e"/>
<rect x="454.63" y="72.00" width="1.46" height="11.20" fill="#5e5e5e"/>
<rect x="454.63" y="83.20" width="1.46" height="21.58" fill="#6e6e6e"/>
<rect x="454.63" y="104.77" width="1.46" height="8.23" fill="#5f5f5f"/>
<rect x="456.73" y="72.00" width="1.74" height="27.87" fill="#696969"/>
<rect x="456.73" y="99.87" width="1.74" height="10.28" fill="#595959"/>
<rect x="456.73" y="110.16" width="1.74" height="2.84" fill="#5e5e5e"/>
<rect x="458.84" y="72.00" width="1.27" height="26.97" fill="#5f5f5f"/>
<rect x="458.84" y="98.97" width="1.27" height="12.19" fill="#676767"/>
<rect x="458.84" y="111.16" width="1.27" height="1.84" fill="#616161"/>
<rect x="460.56" y="72.00" width="1.07" height="12.02" fill="#676767"/>
<rect x="460.56" y="84.02" width="1.07" height="13.10" fill="#656565"/>
<rect x="460.56" y="97.12" width="1.07" height="15.88" fill="#626262"/>
<rect x="462.53" y="72.00" width="0.73" height="18.22" fill="#686868"/>
<rect x="462.53" y="90.22" width="0.73" height="13.72" fill="#696969"/>
<rect x="462.53" y="103.94" width="0.73" height="9.06" fill="#696969"/>
<rect x="463.63" y="72.00" width="1.16" height="24.71" fill="#646464"/>
<rect x="463.63" y="96.71" width="1.16" height="16.29" fill="#5d5d5d"/>
<rect x="465.20" y="72.00" width="0.79" height="17.82" fill="#5c5c5c"/>
<rect x="465.20" y="89.82" width="0.79" height="23.18" fill="#555555"/>
<rect x="466.59" y="72.00" width="1.23" height="26.90" fill="#6a6a6a"/>
<rect x="466.59" y="98.90" width="1.23" height="14.10" fill="#717171"/>
<rect x="468.54" y="72.00" width="1.36" height="13.92" fill="#5d5d5d"/>
<rect x="468.54" y="85.92" width="1.36" height="27.08" fill="#5e5e5e"/>
<rect x="470.81" y="72.00" width="1.17" height="24.71" fill="#555555"/>
<rect x="470.81" y="96.71" width="1.17" height="16.29" fill="#686868"/>
<rect x="472.84" y="72.00" width="0.76" height="24.55" fill="#676767"/>
<rect x="472.84" y="96.55" width="0.76" height="16.45" fill="#757575"/>
<rect x="474.23" y="72.00" width="1.31" height="25.27" fill="#626262"/>
<rect x="474.23" y="97.27" width="1.31" height="15.73" fill="#636363"/>
<rect x="476.05" y="72.00" width="0.70" height="14.49" fill="#636363"/>
<rect x="476.05" y="86.49" width="0.70" height="24.14" fill="#5e5e5e"/>
<rect x="476.05" y="110.63" width="0.70" height="2.37" fill="#6a6a6a"/>
<rect x="477.13" y="72.00" width="1.67" height="19.47" fill="#565656"/>
<rect x="477.13" y="91.47" width="1.67" height="10.29" fill="#5f5f5f"/>
<rect x="477.13" y="101.77" width="1.67" height="8.93" fill="#696969"/>
<rect x="477.13" y="110.69" width="1.67" height="2.31" fill="#5e5e5e"/>
<rect x="479.74" y="72.00" width="0.93" height="9.69" fill="#676767"/>
<rect x="479.74" y="81.69" width="0.93" height="12.46" fill="#5e5e5e"/>
<rect x="479.74" y="94.15" width="0.93" height="18.85" fill="#565656"/>
<rect x="481.36" y="72.00" width="0.79" height="22.94" fill="#686868"/>
<rect x="481.36" y="94.94" width="0.79" height="18.06" fill="#666666"/>
<rect x="482.89" y="72.00" width="0.98" height="19.41" fill="#575757"/>
<rect x="482.89" y="91.41" width="0.98" height="16.46" fill="#545454"/>
<rect x="482.89" y="107.88" width="0.98" height="5.12" fill="#5b5b5b"/>
<rect x="484.82" y="72.00" width="1.21" height="11.22" fill="#6c6c6c"/>
<rect x="484.82" y="83.22" width="1.21" height="29.78" fill="#6c6c6c"/>
<rect x="487.02" y="72.00" width="1.35" height="19.28" fill="#676767"/>
<rect x="487.02" y="91.28" width="1.35" height="21.72" fill="#6d6d6d"/>
<rect x="489.03" y="72.00" width="1.13" height="23.64" fill="#696969"/>
<rect x="489.03" y="95.64" width="1.13" height="11.47" fill="#5f5f5f"/>
<rect x="489.03" y="107.11" width="1.13" height="5.89" fill="#606060"/>
<rect x="490.63" y="72.00" width="1.65" height="23.19" fill="#6a6a6a"/>
<rect x="490.63" y="95.19" width="1.65" height="17.81" fill="#636363"/>
<rect x="492.87" y="72.00" width="1.21" height="17.74" fill="#5f5f5f"/>
<rect x="492.87" y="89.74" width="1.21" height="9.33" fill="#6a6a6a"/>
<rect x="492.87" y="99.07" width="1.21" height="13.93" fill="#585858"/>
<rect x="494.88" y="72.00" width="1.43" height="14.97" fill="#676767"/>
<rect x="494.88" y="86.97" width="1.43" height="22.33" fill="#585858"/>
<rect x="494.88" y="109.30" width="1.43" height="3.70" fill="#585858"/>
<rect x="497.07" y="72.00" width="1.41" height="16.22" fill="#646464"/>
<rect x="497.07" y="88.22" width="1.41" height="21.07" fill="#595959"/>
<rect x="497.07" y="109.29" width="1.41" height="3.71" fill="#616161"/>
<rect x="499.39" y="72.00" width="1.31" height="13.14" fill="#656565"/>
<rect x="499.39" y="85.14" width="1.31" height="18.08" fill="#5d5d5d"/>
<rect x="499.39" y="103.22" width="1.31" height="9.78" fill="#5b5b5b"/>
<rect x="501.35" y="72.00" width="1.25" height="14.78" fill="#646464"/>
<rect x="501.35" y="86.78" width="1.25" height="11.94" fill="#636363"/>
<rect x="501.35" y="98.73" width="1.25" height="14.27" fill="#616161"/>
<rect x="503.59" y="72.00" width="0.89" height="11.92" fill="#565656"/>
<rect x="503.59" y="83.92" width="0.89" height="14.91" fill="#5a5a5a"/>
<rect x="503.59" y="98.84" width="0.89" height="10.43" fill="#676767"/>
<rect x="503.59" y="109.26" width="0.89" height="3.74" fill="#606060"/>
<rect x="505.19" y="72.00" width="0.83" height="27.97" fill="#5c5c5c"/>
<rect x="505.19" y="99.97" width="0.83" height="8.27" fill="#636363"/>
<rect x="505.19" y="108.24" width="0.83" height="4.76" fill="#646464"/>
<rect x="506.94" y="72.00" width="1.44" height="16.55" fill="#6a6a6a"/>
<rect x="506.94" y="88.55" width="1.44" height="12.77" fill="#636363"/>
<rect x="506.94" y="101.32" width="1.44" height="11.68" fill="#6e6e6e"/>
<rect x="509.34" y="72.00" width="1.79" height="9.07" fill="#6c6c6c"/>
<rect x="509.34" y="81.07" width="1.79" height="10.38" fill="#707070"/>
<rect x="509.34" y="91.45" width="1.79" height="18.65" fill="#767676"/>
<rect x="509.34" y="110.10" width="1.79" height="2.90" fill="#6d6d6d"/>
<rect x="511.92" y="72.00" width="1.80" height="27.15" fill="#595959"/>
<rect x="511.92" y="99.15" width="1.80" height="13.85" fill="#535353"/>
<rect x="514.66" y="72.00" width="0.76" height="8.35" fill="#666666"/>
<rect x="514.66" y="80.35" width="0.76" height="18.59" fill="#5d5d5d"/>
<rect x="514.66" y="98.95" width="0.76" height="14.05" fill="#5a5a5a"/>
<rect x="516.04" y="72.00" width="1.01" height="29.32" fill="#606060"/>
<rect x="516.04" y="101.32" width="1.01" height="11.68" fill="#5b5b5b"/>
<rect x="517.46" y="72.00" width="1.73" height="19.12" fill="#535353"/>
<rect x="517.46" y="91.12" width="1.73" height="12.59" fill="#545454"/>
<rect x="517.46" y="103.72" width="1.73" height="9.28" fill="#575757"/>
<rect x="356" y="72" width="163" height="41" filter="url(#nG3)" style="mix-blend-mode:overlay" opacity="0.5"/>
<linearGradient id="gF3" x1="0" y1="0" x2="0" y2="1"><stop offset="0" stop-color="#787878"/><stop offset="0.5" stop-color="#6a6a6a"/><stop offset="1" stop-color="#5e5e5e"/></linearGradient>
<path d="M356,22 H519 V73 C500,72 470,71 440,70.5 C410,70 380,70.5 356,71 Z" fill="url(#gF3)"/>
<rect x="356" y="22" width="163" height="50" filter="url(#nV3)" style="mix-blend-mode:overlay" opacity="0.22"/>
<path d="M380,24 C384,40 392,52 398,70" stroke="#888888" stroke-width="1.1" fill="none" opacity="0.35"/>
<path d="M405,30 C410,45 414,58 418,70" stroke="#888888" stroke-width="1.1" fill="none" opacity="0.35"/>
<path d="M428,26 C436,42 440,55 446,70" stroke="#888888" stroke-width="1.1" fill="none" opacity="0.35"/>
<path d="M452,35 C455,48 458,60 462,70" stroke="#888888" stroke-width="1.1" fill="none" opacity="0.35"/>
<path d="M470,24 C474,40 480,55 486,70" stroke="#888888" stroke-width="1.1" fill="none" opacity="0.35"/>
<path d="M505,30 C508,45 510,58 512,70" stroke="#888888" stroke-width="1.1" fill="none" opacity="0.35"/>
<path d="M395,24 C400,35 402,45 405,58" stroke="#888888" stroke-width="1.1" fill="none" opacity="0.35"/>
<rect x="356" y="1" width="163" height="12.6" fill="#474747"/>
<linearGradient id="gB3" x1="0" y1="0" x2="0" y2="1"><stop offset="0" stop-color="#aaaaaa"/><stop offset="1" stop-color="#969696"/></linearGradient>
<rect x="356" y="13.6" width="163" height="9" fill="url(#gB3)"/>
<path d="M356,76.3 C380,75.5 420,75.6 460,75.4 C490,75.6 505,76.2 519,76.5" stroke="#2e2e2e" stroke-width="1.4" fill="none"/>
<path d="M356,72 C370,72 380,70 395,69.8 C420,69.4 450,69.2 480,70.2 C495,70.7 505,71.5 519,72 L519,75.5 C505,75 495,74.2 480,74 C450,73.3 420,74.2 395,74.4 C380,74.6 370,76 356,76 Z" fill="#a9a9a9"/>
<path d="M375,71.2 C400,71.5 420,70.6 440,71.8 C460,72.6 480,71 500,72.4" stroke="#c2c2c2" stroke-width="1" fill="none"/>
<path d="M365.5,73.5 C368,79 374,85 387.5,87" stroke="#262626" stroke-width="3.4" fill="none" opacity="0.6"/>
<path d="M365.5,73.5 C368,79 374,85 387.5,87" stroke="#a4a4a4" stroke-width="2.2" fill="none"/>
<path d="M487,73.5 C490,78 494,84 501.5,87.5" stroke="#262626" stroke-width="3.4" fill="none" opacity="0.6"/>
<path d="M487,73.5 C490,78 494,84 501.5,87.5" stroke="#a4a4a4" stroke-width="2.2" fill="none"/>
<path d="M509,74 C510,78 513,82 517,86" stroke="#9a9a9a" stroke-width="1.5" fill="none"/>
</g>
<g clip-path="url(#cA4)">
<linearGradient id="gF4" x1="0" y1="17" x2="0" y2="104" gradientUnits="userSpaceOnUse"><stop offset="0" stop-color="#c6c6c6"/><stop offset="0.1" stop-color="#c0c0c0"/><stop offset="0.2" stop-color="#aeaeae"/><stop offset="0.38" stop-color="#999999"/><stop offset="0.7" stop-color="#929292"/><stop offset="1" stop-color="#909090"/></linearGradient>
<rect x="523" y="17" width="162" height="87" fill="url(#gF4)"/>
<rect x="523" y="17" width="162" height="87" filter="url(#nG4)" style="mix-blend-mode:overlay" opacity="0.16"/>
<linearGradient id="gMk4" x1="0" y1="16" x2="0" y2="40" gradientUnits="userSpaceOnUse"><stop offset="0" stop-color="#fff"/><stop offset="0.45" stop-color="#fff"/><stop offset="1" stop-color="#000"/></linearGradient>
<mask id="mk4" maskUnits="userSpaceOnUse" x="523" y="16" width="162" height="24"><rect x="523" y="16" width="162" height="24" fill="url(#gMk4)"/></mask>
<rect x="523" y="16" width="162" height="24" filter="url(#nSpk)" style="mix-blend-mode:overlay" opacity="0.75" mask="url(#mk4)"/>
<rect x="523" y="103" width="162" height="8.599999999999994" fill="#7d7d7d"/>
<rect x="522.83" y="104.41" width="1.30" height="7.14" fill="#b3b3b3"/>
<rect x="522.83" y="111.55" width="1.30" height="0.05" fill="#9b9b9b"/>
<rect x="524.72" y="104.35" width="0.72" height="4.51" fill="#bfbfbf"/>
<rect x="524.72" y="108.86" width="0.72" height="2.74" fill="#ababab"/>
<rect x="525.78" y="103.98" width="1.26" height="2.58" fill="#bbbbbb"/>
<rect x="525.78" y="106.56" width="1.26" height="5.04" fill="#c0c0c0"/>
<rect x="527.34" y="104.03" width="1.21" height="2.78" fill="#a6a6a6"/>
<rect x="527.34" y="106.81" width="1.21" height="2.66" fill="#a5a5a5"/>
<rect x="527.34" y="109.47" width="1.21" height="2.13" fill="#a3a3a3"/>
<rect x="529.27" y="103.15" width="1.40" height="7.73" fill="#aeaeae"/>
<rect x="529.27" y="110.88" width="1.40" height="0.72" fill="#b1b1b1"/>
<rect x="531.17" y="103.72" width="1.13" height="5.19" fill="#999999"/>
<rect x="531.17" y="108.91" width="1.13" height="2.69" fill="#afafaf"/>
<rect x="532.55" y="104.41" width="0.84" height="2.47" fill="#b0b0b0"/>
<rect x="532.55" y="106.87" width="0.84" height="2.13" fill="#a6a6a6"/>
<rect x="532.55" y="109.01" width="0.84" height="2.59" fill="#acacac"/>
<rect x="534.10" y="103.45" width="1.54" height="3.32" fill="#b1b1b1"/>
<rect x="534.10" y="106.77" width="1.54" height="4.72" fill="#bbbbbb"/>
<rect x="534.10" y="111.49" width="1.54" height="0.11" fill="#b2b2b2"/>
<rect x="536.00" y="103.38" width="1.54" height="2.25" fill="#a8a8a8"/>
<rect x="536.00" y="105.62" width="1.54" height="5.98" fill="#aeaeae"/>
<rect x="537.95" y="104.38" width="0.85" height="4.58" fill="#b8b8b8"/>
<rect x="537.95" y="108.96" width="0.85" height="2.64" fill="#a6a6a6"/>
<rect x="539.36" y="103.58" width="1.44" height="8.02" fill="#9d9d9d"/>
<rect x="541.23" y="103.37" width="1.52" height="8.23" fill="#9c9c9c"/>
<rect x="543.31" y="104.04" width="0.70" height="2.98" fill="#a7a7a7"/>
<rect x="543.31" y="107.02" width="0.70" height="4.58" fill="#b9b9b9"/>
<rect x="544.33" y="103.64" width="0.86" height="3.03" fill="#b8b8b8"/>
<rect x="544.33" y="106.66" width="0.86" height="3.03" fill="#b5b5b5"/>
<rect x="544.33" y="109.69" width="0.86" height="1.91" fill="#c2c2c2"/>
<rect x="545.61" y="103.84" width="1.53" height="3.86" fill="#bcbcbc"/>
<rect x="545.61" y="107.70" width="1.53" height="3.90" fill="#c8c8c8"/>
<rect x="547.74" y="103.15" width="1.53" height="8.07" fill="#c9c9c9"/>
<rect x="547.74" y="111.21" width="1.53" height="0.39" fill="#b0b0b0"/>
<rect x="549.80" y="103.46" width="0.67" height="6.12" fill="#bcbcbc"/>
<rect x="549.80" y="109.58" width="0.67" height="2.02" fill="#a7a7a7"/>
<rect x="551.14" y="103.37" width="0.90" height="6.77" fill="#d1d1d1"/>
<rect x="551.14" y="110.14" width="0.90" height="1.46" fill="#acacac"/>
<rect x="552.82" y="104.28" width="1.53" height="4.42" fill="#a7a7a7"/>
<rect x="552.82" y="108.70" width="1.53" height="2.20" fill="#b3b3b3"/>
<rect x="552.82" y="110.91" width="1.53" height="0.69" fill="#9b9b9b"/>
<rect x="555.09" y="103.66" width="1.12" height="5.07" fill="#adadad"/>
<rect x="555.09" y="108.73" width="1.12" height="2.87" fill="#a3a3a3"/>
<rect x="556.91" y="103.05" width="1.02" height="8.03" fill="#828282"/>
<rect x="556.91" y="111.08" width="1.02" height="0.52" fill="#959595"/>
<rect x="558.25" y="104.29" width="0.84" height="7.31" fill="#b0b0b0"/>
<rect x="559.44" y="104.03" width="0.63" height="4.97" fill="#8f8f8f"/>
<rect x="559.44" y="109.00" width="0.63" height="2.60" fill="#9c9c9c"/>
<rect x="560.67" y="103.58" width="0.97" height="6.22" fill="#a4a4a4"/>
<rect x="560.67" y="109.79" width="0.97" height="1.81" fill="#999999"/>
<rect x="562.26" y="103.95" width="0.91" height="3.92" fill="#cdcdcd"/>
<rect x="562.26" y="107.88" width="0.91" height="3.72" fill="#acacac"/>
<rect x="563.48" y="103.55" width="1.09" height="8.05" fill="#aaaaaa"/>
<rect x="565.15" y="103.20" width="1.11" height="6.12" fill="#a5a5a5"/>
<rect x="565.15" y="109.32" width="1.11" height="2.28" fill="#b3b3b3"/>
<rect x="566.49" y="104.28" width="0.95" height="7.32" fill="#9c9c9c"/>
<rect x="567.85" y="103.46" width="1.03" height="3.39" fill="#aeaeae"/>
<rect x="567.85" y="106.85" width="1.03" height="2.80" fill="#b4b4b4"/>
<rect x="567.85" y="109.65" width="1.03" height="1.95" fill="#bdbdbd"/>
<rect x="569.09" y="104.16" width="1.37" height="7.44" fill="#a8a8a8"/>
<rect x="570.93" y="103.31" width="0.84" height="4.64" fill="#929292"/>
<rect x="570.93" y="107.95" width="0.84" height="2.92" fill="#888888"/>
<rect x="570.93" y="110.87" width="0.84" height="0.73" fill="#878787"/>
<rect x="572.33" y="103.35" width="0.69" height="5.31" fill="#aeaeae"/>
<rect x="572.33" y="108.66" width="0.69" height="2.94" fill="#a2a2a2"/>
<rect x="573.55" y="103.51" width="0.96" height="3.91" fill="#a0a0a0"/>
<rect x="573.55" y="107.42" width="0.96" height="4.18" fill="#8a8a8a"/>
<rect x="575.25" y="103.09" width="1.05" height="2.73" fill="#aaaaaa"/>
<rect x="575.25" y="105.82" width="1.05" height="5.78" fill="#aeaeae"/>
<rect x="576.51" y="103.63" width="0.78" height="4.40" fill="#8b8b8b"/>
<rect x="576.51" y="108.04" width="0.78" height="3.56" fill="#9b9b9b"/>
<rect x="578.07" y="103.81" width="0.75" height="3.71" fill="#9f9f9f"/>
<rect x="578.07" y="107.52" width="0.75" height="3.19" fill="#aeaeae"/>
<rect x="578.07" y="110.71" width="0.75" height="0.89" fill="#adadad"/>
<rect x="579.59" y="103.35" width="0.81" height="6.61" fill="#c2c2c2"/>
<rect x="579.59" y="109.97" width="0.81" height="1.63" fill="#c6c6c6"/>
<rect x="580.76" y="104.22" width="0.83" height="2.02" fill="#c2c2c2"/>
<rect x="580.76" y="106.25" width="0.83" height="5.35" fill="#d3d3d3"/>
<rect x="582.27" y="104.33" width="0.84" height="6.49" fill="#9c9c9c"/>
<rect x="582.27" y="110.81" width="0.84" height="0.79" fill="#7f7f7f"/>
<rect x="583.34" y="103.96" width="0.91" height="2.20" fill="#a5a5a5"/>
<rect x="583.34" y="106.16" width="0.91" height="4.04" fill="#b5b5b5"/>
<rect x="583.34" y="110.19" width="0.91" height="1.41" fill="#b5b5b5"/>
<rect x="584.52" y="103.66" width="0.85" height="5.11" fill="#a4a4a4"/>
<rect x="584.52" y="108.77" width="0.85" height="2.83" fill="#b4b4b4"/>
<rect x="586.15" y="103.76" width="1.30" height="7.18" fill="#8f8f8f"/>
<rect x="586.15" y="110.94" width="1.30" height="0.66" fill="#a7a7a7"/>
<rect x="587.82" y="104.29" width="1.05" height="5.32" fill="#9c9c9c"/>
<rect x="587.82" y="109.61" width="1.05" height="1.99" fill="#aaaaaa"/>
<rect x="589.29" y="104.09" width="0.89" height="6.64" fill="#a4a4a4"/>
<rect x="589.29" y="110.73" width="0.89" height="0.87" fill="#a6a6a6"/>
<rect x="590.68" y="104.30" width="1.45" height="3.24" fill="#b4b4b4"/>
<rect x="590.68" y="107.54" width="1.45" height="2.28" fill="#d3d3d3"/>
<rect x="590.68" y="109.82" width="1.45" height="1.78" fill="#bfbfbf"/>
<rect x="592.68" y="103.02" width="0.69" height="3.56" fill="#aeaeae"/>
<rect x="592.68" y="106.58" width="0.69" height="5.02" fill="#a0a0a0"/>
<rect x="594.16" y="103.02" width="1.22" height="7.97" fill="#a8a8a8"/>
<rect x="594.16" y="110.99" width="1.22" height="0.61" fill="#a8a8a8"/>
<rect x="596.08" y="103.49" width="1.24" height="2.29" fill="#b3b3b3"/>
<rect x="596.08" y="105.78" width="1.24" height="4.26" fill="#9a9a9a"/>
<rect x="596.08" y="110.03" width="1.24" height="1.57" fill="#b5b5b5"/>
<rect x="597.58" y="104.18" width="1.48" height="5.59" fill="#a0a0a0"/>
<rect x="597.58" y="109.76" width="1.48" height="1.84" fill="#a9a9a9"/>
<rect x="599.67" y="103.27" width="1.27" height="4.21" fill="#a3a3a3"/>
<rect x="599.67" y="107.48" width="1.27" height="4.12" fill="#b0b0b0"/>
<rect x="601.34" y="103.77" width="0.96" height="7.83" fill="#afafaf"/>
<rect x="603.09" y="104.48" width="0.68" height="7.12" fill="#a4a4a4"/>
<rect x="604.42" y="103.18" width="0.73" height="7.67" fill="#a5a5a5"/>
<rect x="604.42" y="110.85" width="0.73" height="0.75" fill="#c3c3c3"/>
<rect x="605.59" y="103.89" width="1.32" height="7.71" fill="#878787"/>
<rect x="607.48" y="104.39" width="1.56" height="2.77" fill="#afafaf"/>
<rect x="607.48" y="107.16" width="1.56" height="4.44" fill="#bebebe"/>
<rect x="609.39" y="104.30" width="1.24" height="3.51" fill="#9e9e9e"/>
<rect x="609.39" y="107.82" width="1.24" height="3.78" fill="#ababab"/>
<rect x="610.97" y="103.83" width="0.89" height="7.74" fill="#c1c1c1"/>
<rect x="610.97" y="111.57" width="0.89" height="0.03" fill="#c1c1c1"/>
<rect x="612.24" y="103.97" width="1.36" height="7.63" fill="#adadad"/>
<rect x="613.80" y="103.93" width="0.76" height="5.63" fill="#c2c2c2"/>
<rect x="613.80" y="109.55" width="0.76" height="2.05" fill="#cacaca"/>
<rect x="614.92" y="103.42" width="1.28" height="2.72" fill="#a1a1a1"/>
<rect x="614.92" y="106.13" width="1.28" height="5.35" fill="#919191"/>
<rect x="614.92" y="111.49" width="1.28" height="0.11" fill="#9a9a9a"/>
<rect x="616.72" y="104.31" width="1.17" height="7.29" fill="#b1b1b1"/>
<rect x="618.57" y="104.11" width="1.31" height="5.26" fill="#a1a1a1"/>
<rect x="618.57" y="109.38" width="1.31" height="2.22" fill="#939393"/>
<rect x="620.37" y="103.87" width="0.98" height="3.93" fill="#c5c5c5"/>
<rect x="620.37" y="107.79" width="0.98" height="2.91" fill="#bcbcbc"/>
<rect x="620.37" y="110.70" width="0.98" height="0.90" fill="#cacaca"/>
<rect x="621.95" y="104.28" width="1.18" height="2.86" fill="#b2b2b2"/>
<rect x="621.95" y="107.13" width="1.18" height="3.66" fill="#b3b3b3"/>
<rect x="621.95" y="110.80" width="1.18" height="0.80" fill="#b1b1b1"/>
<rect x="623.83" y="103.85" width="0.93" height="6.89" fill="#bebebe"/>
<rect x="623.83" y="110.75" width="0.93" height="0.85" fill="#bdbdbd"/>
<rect x="625.53" y="103.51" width="0.80" height="5.43" fill="#bcbcbc"/>
<rect x="625.53" y="108.95" width="0.80" height="2.65" fill="#b2b2b2"/>
<rect x="626.82" y="104.46" width="0.95" height="2.52" fill="#aaaaaa"/>
<rect x="626.82" y="106.98" width="0.95" height="2.47" fill="#bdbdbd"/>
<rect x="626.82" y="109.45" width="0.95" height="2.15" fill="#bcbcbc"/>
<rect x="628.29" y="103.73" width="1.07" height="7.87" fill="#a4a4a4"/>
<rect x="630.16" y="103.19" width="1.13" height="6.96" fill="#c4c4c4"/>
<rect x="630.16" y="110.15" width="1.13" height="1.45" fill="#ababab"/>
<rect x="631.89" y="103.66" width="0.66" height="2.41" fill="#b4b4b4"/>
<rect x="631.89" y="106.07" width="0.66" height="5.26" fill="#b8b8b8"/>
<rect x="631.89" y="111.33" width="0.66" height="0.27" fill="#bababa"/>
<rect x="632.77" y="103.11" width="1.52" height="4.76" fill="#8a8a8a"/>
<rect x="632.77" y="107.88" width="1.52" height="2.09" fill="#979797"/>
<rect x="632.77" y="109.96" width="1.52" height="1.64" fill="#8c8c8c"/>
<rect x="634.98" y="104.09" width="1.41" height="6.98" fill="#c2c2c2"/>
<rect x="634.98" y="111.08" width="1.41" height="0.52" fill="#b1b1b1"/>
<rect x="636.76" y="104.17" width="0.75" height="2.45" fill="#aaaaaa"/>
<rect x="636.76" y="106.62" width="0.75" height="4.98" fill="#acacac"/>
<rect x="637.81" y="103.35" width="0.83" height="8.20" fill="#b2b2b2"/>
<rect x="637.81" y="111.55" width="0.83" height="0.05" fill="#a9a9a9"/>
<rect x="639.18" y="103.09" width="0.81" height="6.95" fill="#d6d6d6"/>
<rect x="639.18" y="110.04" width="0.81" height="1.56" fill="#b3b3b3"/>
<rect x="640.30" y="103.48" width="1.40" height="3.66" fill="#c1c1c1"/>
<rect x="640.30" y="107.14" width="1.40" height="2.26" fill="#c4c4c4"/>
<rect x="640.30" y="109.40" width="1.40" height="2.18" fill="#f1f1f1"/>
<rect x="640.30" y="111.58" width="1.40" height="0.02" fill="#d7d7d7"/>
<rect x="642.19" y="103.15" width="0.66" height="8.45" fill="#a7a7a7"/>
<rect x="643.19" y="103.48" width="0.86" height="6.38" fill="#adadad"/>
<rect x="643.19" y="109.87" width="0.86" height="1.73" fill="#a0a0a0"/>
<rect x="644.53" y="103.11" width="1.08" height="2.75" fill="#afafaf"/>
<rect x="644.53" y="105.85" width="1.08" height="5.75" fill="#a3a3a3"/>
<rect x="646.30" y="103.90" width="1.08" height="2.03" fill="#bbbbbb"/>
<rect x="646.30" y="105.93" width="1.08" height="3.60" fill="#c2c2c2"/>
<rect x="646.30" y="109.52" width="1.08" height="2.08" fill="#a7a7a7"/>
<rect x="648.18" y="104.22" width="1.25" height="7.38" fill="#adadad"/>
<rect x="649.99" y="103.29" width="1.57" height="5.64" fill="#969696"/>
<rect x="649.99" y="108.93" width="1.57" height="2.67" fill="#a0a0a0"/>
<rect x="652.11" y="103.68" width="1.40" height="2.41" fill="#c2c2c2"/>
<rect x="652.11" y="106.09" width="1.40" height="5.51" fill="#b7b7b7"/>
<rect x="653.91" y="103.80" width="0.70" height="4.10" fill="#989898"/>
<rect x="653.91" y="107.90" width="0.70" height="3.70" fill="#b7b7b7"/>
<rect x="654.90" y="103.27" width="1.26" height="7.54" fill="#ababab"/>
<rect x="654.90" y="110.82" width="1.26" height="0.78" fill="#a3a3a3"/>
<rect x="656.55" y="103.44" width="1.46" height="5.34" fill="#bcbcbc"/>
<rect x="656.55" y="108.78" width="1.46" height="2.82" fill="#c0c0c0"/>
<rect x="658.63" y="104.04" width="1.08" height="5.45" fill="#a3a3a3"/>
<rect x="658.63" y="109.49" width="1.08" height="2.11" fill="#949494"/>
<rect x="660.32" y="104.13" width="0.83" height="7.47" fill="#aaaaaa"/>
<rect x="661.43" y="103.69" width="0.99" height="7.91" fill="#9e9e9e"/>
<rect x="662.97" y="104.41" width="0.91" height="7.19" fill="#a0a0a0"/>
<rect x="664.41" y="103.88" width="0.91" height="3.52" fill="#9e9e9e"/>
<rect x="664.41" y="107.40" width="0.91" height="2.90" fill="#7c7c7c"/>
<rect x="664.41" y="110.30" width="0.91" height="1.30" fill="#a0a0a0"/>
<rect x="665.55" y="103.26" width="0.98" height="7.77" fill="#9c9c9c"/>
<rect x="665.55" y="111.02" width="0.98" height="0.58" fill="#949494"/>
<rect x="667.26" y="103.24" width="0.95" height="6.64" fill="#989898"/>
<rect x="667.26" y="109.88" width="0.95" height="1.72" fill="#979797"/>
<rect x="668.65" y="104.05" width="1.16" height="2.60" fill="#969696"/>
<rect x="668.65" y="106.64" width="1.16" height="3.47" fill="#a7a7a7"/>
<rect x="668.65" y="110.11" width="1.16" height="1.49" fill="#aaaaaa"/>
<rect x="670.12" y="103.05" width="0.94" height="2.30" fill="#a9a9a9"/>
<rect x="670.12" y="105.35" width="0.94" height="6.25" fill="#b2b2b2"/>
<rect x="671.78" y="103.79" width="1.57" height="7.81" fill="#b3b3b3"/>
<rect x="673.68" y="104.01" width="1.35" height="3.53" fill="#b4b4b4"/>
<rect x="673.68" y="107.53" width="1.35" height="4.07" fill="#acacac"/>
<rect x="675.53" y="103.38" width="1.40" height="5.95" fill="#adadad"/>
<rect x="675.53" y="109.33" width="1.40" height="2.27" fill="#adadad"/>
<rect x="677.61" y="103.40" width="1.21" height="7.25" fill="#c8c8c8"/>
<rect x="677.61" y="110.65" width="1.21" height="0.95" fill="#9b9b9b"/>
<rect x="679.60" y="104.30" width="0.86" height="7.30" fill="#a8a8a8"/>
<rect x="680.88" y="104.38" width="1.30" height="5.96" fill="#b0b0b0"/>
<rect x="680.88" y="110.34" width="1.30" height="1.26" fill="#999999"/>
<rect x="682.93" y="103.53" width="1.34" height="8.07" fill="#b8b8b8"/>
<rect x="684.94" y="103.13" width="0.94" height="8.47" fill="#9c9c9c"/>
<path d="M523,0 H685 V16.8 C660,17.2 640,16.6 620,17.6 C600,18.4 560,18.6 523,19.3 Z" fill="#3b3b3b"/>
<rect x="523" y="0" width="162" height="1" fill="#555"/>
</g>
<text x="28.6" y="15.6" font-size="12.2" fill="#fff" text-anchor="start" textLength="74.8" lengthAdjust="spacingAndGlyphs">AAO Support</text>
<text x="195.3" y="15.6" font-size="12.2" fill="#fff" text-anchor="start" textLength="148.6" lengthAdjust="spacingAndGlyphs">Average thickness:110 nm</text>
<text x="362.3" y="14.6" font-size="12.2" fill="#fff" text-anchor="start" textLength="146.2" lengthAdjust="spacingAndGlyphs">Average thickness:1.8 μm</text>
<text x="528.8" y="15.6" font-size="12.2" fill="#fff" text-anchor="start" textLength="146.2" lengthAdjust="spacingAndGlyphs">Average thickness:5.6 μm</text>
<text x="139.0" y="102.6" font-size="11.7" fill="#fff" text-anchor="start" textLength="42.6" lengthAdjust="spacingAndGlyphs">200 nm</text>
<rect x="153.9" y="107" width="14.4" height="1.9" fill="#fff"/>
<text x="305.6" y="102.6" font-size="11.7" fill="#fff" text-anchor="start" textLength="42.5" lengthAdjust="spacingAndGlyphs">200 nm</text>
<rect x="317.1" y="106.5" width="22.8" height="2.2" fill="#fff"/>
<text x="469.4" y="102.6" font-size="11.7" fill="#fff" text-anchor="start" textLength="42.5" lengthAdjust="spacingAndGlyphs">200 nm</text>
<rect x="485.1" y="107" width="5.8" height="1.9" fill="#fff"/>
<text x="650.3" y="102.6" font-size="11.7" fill="#fff" text-anchor="start" textLength="28.7" lengthAdjust="spacingAndGlyphs">1 μm</text>
<rect x="658" y="107" width="13.9" height="1.9" fill="#fff"/>
<rect x="22" y="120" width="163" height="113" fill="url(#pores)"/>
<rect x="189" y="120" width="163" height="113" fill="#919191"/>
<rect x="189" y="120" width="163" height="113" filter="url(#nFine)" opacity="0.25"/>
<ellipse cx="230.5" cy="172" rx="1.6" ry="2.8" fill="#c4c4c4" opacity="0.35"/>
<ellipse cx="241" cy="172.5" rx="1.2" ry="1.8" fill="#bdbdbd" opacity="0.35"/>
<circle cx="252" cy="151.5" r="1.2" fill="#c8c8c8" opacity="0.35"/>
<circle cx="322" cy="181" r="1" fill="#cfcfcf" opacity="0.4"/>
<rect x="356" y="120" width="163" height="113" fill="#808080"/>
<rect x="523" y="120" width="162" height="113" fill="#818181"/>
<circle cx="547.3" cy="179" r="1.7" fill="#f4f4f4"/>
<text x="139.0" y="222.8" font-size="11.7" fill="#fff" text-anchor="start" textLength="42.6" lengthAdjust="spacingAndGlyphs">200 nm</text>
<rect x="153.1" y="227" width="13.3" height="1.9" fill="#fff"/>
<text x="305.5" y="222.8" font-size="11.7" fill="#fff" text-anchor="start" textLength="42.6" lengthAdjust="spacingAndGlyphs">200 nm</text>
<rect x="322.4" y="227" width="14.6" height="1.9" fill="#fff"/>
<text x="469.4" y="222.8" font-size="11.7" fill="#fff" text-anchor="start" textLength="42.5" lengthAdjust="spacingAndGlyphs">200 nm</text>
<rect x="485.1" y="227" width="14.7" height="1.9" fill="#fff"/>
<text x="636.2" y="222.8" font-size="11.7" fill="#fff" text-anchor="start" textLength="42.6" lengthAdjust="spacingAndGlyphs">200 nm</text>
<rect x="651.1" y="227" width="14.4" height="1.9" fill="#fff"/>
<rect x="58.60" y="256.30" width="11.40" height="158.30" fill="url(#gHe)" stroke="#8fb6dd" stroke-width="0.8"/>
<rect x="70.80" y="259.20" width="11.40" height="155.40" fill="url(#gH2)" stroke="#86c8c0" stroke-width="0.8"/>
<rect x="83.00" y="268.80" width="11.40" height="145.80" fill="url(#gCO2)" stroke="#e7c9e7" stroke-width="0.8"/>
<rect x="104.47" y="287.00" width="11.40" height="127.60" fill="url(#gHe)" stroke="#8fb6dd" stroke-width="0.8"/>
<rect x="116.67" y="291.10" width="11.40" height="123.50" fill="url(#gH2)" stroke="#86c8c0" stroke-width="0.8"/>
<rect x="128.87" y="306.20" width="11.40" height="108.40" fill="url(#gCO2)" stroke="#e7c9e7" stroke-width="0.8"/>
<rect x="150.34" y="333.00" width="11.40" height="81.60" fill="url(#gHe)" stroke="#8fb6dd" stroke-width="0.8"/>
<rect x="162.54" y="340.40" width="11.40" height="74.20" fill="url(#gH2)" stroke="#86c8c0" stroke-width="0.8"/>
<rect x="174.74" y="360.00" width="11.40" height="54.60" fill="url(#gCO2)" stroke="#e7c9e7" stroke-width="0.8"/>
<rect x="196.21" y="363.40" width="11.40" height="51.20" fill="url(#gHe)" stroke="#8fb6dd" stroke-width="0.8"/>
<rect x="208.41" y="366.80" width="11.40" height="47.80" fill="url(#gH2)" stroke="#86c8c0" stroke-width="0.8"/>
<rect x="220.61" y="386.00" width="11.40" height="28.60" fill="url(#gCO2)" stroke="#e7c9e7" stroke-width="0.8"/>
<path d="M76.40,403.40 C84.06,394.45 107.05,364.00 122.37,349.70 C137.69,335.40 153.02,324.83 168.34,317.60 C183.66,310.37 206.65,308.18 214.31,306.30" fill="none" stroke="#c9a673" stroke-width="1.1"/>
<path d="M76.40,397.90 C84.06,388.90 107.05,358.12 122.37,343.90 C137.69,329.68 153.02,319.62 168.34,312.60 C183.66,305.58 206.65,303.60 214.31,301.80" fill="none" stroke="#5db5da" stroke-width="1.1"/>
<path d="M76.40,394.30 C84.06,384.30 107.05,350.40 122.37,334.30 C137.69,318.20 153.02,305.60 168.34,297.70 C183.66,289.80 206.65,288.70 214.31,286.90" fill="none" stroke="#ababab" stroke-width="1.1"/>
<path d="M76.40,391.60 C84.06,381.38 107.05,347.18 122.37,330.30 C137.69,313.42 153.02,298.02 168.34,290.30 C183.66,282.58 206.65,285.05 214.31,284.00" fill="none" stroke="#c4457d" stroke-width="1.1"/>
<path d="M76.40,388.80 C84.06,378.67 107.05,343.97 122.37,328.00 C137.69,312.03 153.02,300.57 168.34,293.00 C183.66,285.43 206.65,284.33 214.31,282.60" fill="none" stroke="#4a4a4a" stroke-width="1.1"/>
<path d="M76.40,385.30 C84.06,375.10 107.05,340.65 122.37,324.10 C137.69,307.55 153.02,293.48 168.34,286.00 C183.66,278.52 206.65,280.33 214.31,279.20" fill="none" stroke="#3f8d57" stroke-width="1.1"/>
<circle cx="76.40" cy="403.40" r="1.7" fill="#e3cfae" stroke="#c9a673" stroke-width="0.8"/>
<circle cx="122.37" cy="349.70" r="1.7" fill="#e3cfae" stroke="#c9a673" stroke-width="0.8"/>
<circle cx="168.34" cy="317.60" r="1.7" fill="#e3cfae" stroke="#c9a673" stroke-width="0.8"/>
<circle cx="214.31" cy="306.30" r="1.7" fill="#e3cfae" stroke="#c9a673" stroke-width="0.8"/>
<circle cx="76.40" cy="397.90" r="1.7" fill="#b4dcee" stroke="#5db5da" stroke-width="0.8"/>
<circle cx="122.37" cy="343.90" r="1.7" fill="#b4dcee" stroke="#5db5da" stroke-width="0.8"/>
<circle cx="168.34" cy="312.60" r="1.7" fill="#b4dcee" stroke="#5db5da" stroke-width="0.8"/>
<circle cx="214.31" cy="301.80" r="1.7" fill="#b4dcee" stroke="#5db5da" stroke-width="0.8"/>
<circle cx="76.40" cy="394.30" r="1.7" fill="#dddddd" stroke="#ababab" stroke-width="0.8"/>
<circle cx="122.37" cy="334.30" r="1.7" fill="#dddddd" stroke="#ababab" stroke-width="0.8"/>
<circle cx="168.34" cy="297.70" r="1.7" fill="#dddddd" stroke="#ababab" stroke-width="0.8"/>
<circle cx="214.31" cy="286.90" r="1.7" fill="#dddddd" stroke="#ababab" stroke-width="0.8"/>
<circle cx="76.40" cy="391.60" r="1.7" fill="#e59ab9" stroke="#c4457d" stroke-width="0.8"/>
<circle cx="122.37" cy="330.30" r="1.7" fill="#e59ab9" stroke="#c4457d" stroke-width="0.8"/>
<circle cx="168.34" cy="290.30" r="1.7" fill="#e59ab9" stroke="#c4457d" stroke-width="0.8"/>
<circle cx="214.31" cy="284.00" r="1.7" fill="#e59ab9" stroke="#c4457d" stroke-width="0.8"/>
<circle cx="76.40" cy="388.80" r="1.7" fill="#9a9a9a" stroke="#4a4a4a" stroke-width="0.8"/>
<circle cx="122.37" cy="328.00" r="1.7" fill="#9a9a9a" stroke="#4a4a4a" stroke-width="0.8"/>
<circle cx="168.34" cy="293.00" r="1.7" fill="#9a9a9a" stroke="#4a4a4a" stroke-width="0.8"/>
<circle cx="214.31" cy="282.60" r="1.7" fill="#9a9a9a" stroke="#4a4a4a" stroke-width="0.8"/>
<circle cx="76.40" cy="385.30" r="1.7" fill="#8cc09c" stroke="#3f8d57" stroke-width="0.8"/>
<circle cx="122.37" cy="324.10" r="1.7" fill="#8cc09c" stroke="#3f8d57" stroke-width="0.8"/>
<circle cx="168.34" cy="286.00" r="1.7" fill="#8cc09c" stroke="#3f8d57" stroke-width="0.8"/>
<circle cx="214.31" cy="279.20" r="1.7" fill="#8cc09c" stroke="#3f8d57" stroke-width="0.8"/>
<path d="M44.6,252.6 H246.8 V414.6 H44.6 Z" fill="none" stroke="#111" stroke-width="1.2"/>
<line x1="44.0" y1="252.3" x2="247.4" y2="252.3" stroke="#111" stroke-width="1.3"/>
<path d="M44.6,414.60h3 M44.6,402.41h1.6 M44.6,395.28h1.6 M44.6,390.22h1.6 M44.6,386.29h1.6 M44.6,383.08h1.6 M44.6,380.37h1.6 M44.6,378.02h1.6 M44.6,375.95h1.6 M44.6,374.10h3 M44.6,361.91h1.6 M44.6,354.78h1.6 M44.6,349.72h1.6 M44.6,345.79h1.6 M44.6,342.58h1.6 M44.6,339.87h1.6 M44.6,337.52h1.6 M44.6,335.45h1.6 M44.6,333.60h3 M44.6,321.41h1.6 M44.6,314.28h1.6 M44.6,309.22h1.6 M44.6,305.29h1.6 M44.6,302.08h1.6 M44.6,299.37h1.6 M44.6,297.02h1.6 M44.6,294.95h1.6 M44.6,293.10h3 M44.6,280.91h1.6 M44.6,273.78h1.6 M44.6,268.72h1.6 M44.6,264.79h1.6 M44.6,261.58h1.6 M44.6,258.87h1.6 M44.6,256.52h1.6 M44.6,254.45h1.6 M44.6,252.60h3 M246.8,414.60h-1.6 M246.8,411.39h-1.6 M246.8,408.68h-1.6 M246.8,406.33h-1.6 M246.8,404.26h-1.6 M246.8,402.41h-3 M246.8,390.22h-1.6 M246.8,383.08h-1.6 M246.8,378.02h-1.6 M246.8,374.10h-1.6 M246.8,370.89h-1.6 M246.8,368.18h-1.6 M246.8,365.83h-1.6 M246.8,363.76h-1.6 M246.8,361.91h-3 M246.8,349.72h-1.6 M246.8,342.58h-1.6 M246.8,337.52h-1.6 M246.8,333.60h-1.6 M246.8,330.39h-1.6 M246.8,327.68h-1.6 M246.8,325.33h-1.6 M246.8,323.26h-1.6 M246.8,321.41h-3 M246.8,309.22h-1.6 M246.8,302.08h-1.6 M246.8,297.02h-1.6 M246.8,293.10h-1.6 M246.8,289.89h-1.6 M246.8,287.18h-1.6 M246.8,284.83h-1.6 M246.8,282.76h-1.6 M246.8,280.91h-3 M246.8,268.72h-1.6 M246.8,261.58h-1.6 M246.8,256.52h-1.6 M246.8,252.60h-1.6" stroke="#111" stroke-width="0.7" fill="none"/>
<text x="37.4" y="417.80" font-size="9" font-weight="bold" text-anchor="end" fill="#111">10</text>
<text x="37.9" y="413.90" font-size="5.6" font-weight="bold" fill="#111">0</text>
<text x="37.4" y="377.30" font-size="9" font-weight="bold" text-anchor="end" fill="#111">10</text>
<text x="37.9" y="373.40" font-size="5.6" font-weight="bold" fill="#111">1</text>
<text x="37.4" y="336.80" font-size="9" font-weight="bold" text-anchor="end" fill="#111">10</text>
<text x="37.9" y="332.90" font-size="5.6" font-weight="bold" fill="#111">2</text>
<text x="37.4" y="296.30" font-size="9" font-weight="bold" text-anchor="end" fill="#111">10</text>
<text x="37.9" y="292.40" font-size="5.6" font-weight="bold" fill="#111">3</text>
<text x="37.4" y="255.80" font-size="9" font-weight="bold" text-anchor="end" fill="#111">10</text>
<text x="37.9" y="251.90" font-size="5.6" font-weight="bold" fill="#111">4</text>
<text x="250.2" y="405.61" font-size="9" font-weight="bold" fill="#111">10</text>
<text x="260.2" y="401.71" font-size="5.6" font-weight="bold" fill="#111">0</text>
<text x="250.2" y="365.11" font-size="9" font-weight="bold" fill="#111">10</text>
<text x="260.2" y="361.21" font-size="5.6" font-weight="bold" fill="#111">1</text>
<text x="250.2" y="324.61" font-size="9" font-weight="bold" fill="#111">10</text>
<text x="260.2" y="320.71" font-size="5.6" font-weight="bold" fill="#111">2</text>
<text x="250.2" y="284.11" font-size="9" font-weight="bold" fill="#111">10</text>
<text x="260.2" y="280.21" font-size="5.6" font-weight="bold" fill="#111">3</text>
<text x="76.0" y="427.2" font-size="8.4" font-weight="bold" text-anchor="middle" fill="#111">AAO-support</text>
<text x="121.8" y="427.2" font-size="8.4" font-weight="bold" text-anchor="middle" fill="#111">110 nm</text>
<text x="167.8" y="427.2" font-size="8.4" font-weight="bold" text-anchor="middle" fill="#111">1.8 μm</text>
<text x="214.0" y="427.2" font-size="8.4" font-weight="bold" text-anchor="middle" fill="#111">5.6 μm</text>
<text x="145.4" y="440.9" font-size="9.2" font-weight="bold" text-anchor="middle" fill="#111">Membrane average thickness</text>
<text transform="translate(23.9,329.3) rotate(-90)" font-size="9.3" font-weight="bold" text-anchor="middle" fill="#111">Permeance (GPU)</text>
<text transform="translate(272.9,333.6) rotate(-90)" font-size="9.7" font-weight="bold" text-anchor="middle" fill="#111">Selectivity</text>
<rect x="282.2" y="267.2" width="53.6" height="138" fill="#000"/>
<rect x="279.6" y="264.2" width="53.6" height="138.6" fill="#fff" stroke="#c8c8c8" stroke-width="0.6"/>
<rect x="281.4" y="266.4" width="18.4" height="9.2" fill="url(#gHe)" stroke="#8fb6dd" stroke-width="0.8"/>
<text x="302.4" y="273.6" font-size="7.6" font-weight="bold" fill="#111">He</text>
<rect x="281.4" y="280.4" width="18.4" height="9.2" fill="url(#gH2)" stroke="#86c8c0" stroke-width="0.8"/>
<text x="302.4" y="287.6" font-size="7.6" font-weight="bold" fill="#111">H<tspan font-size="5" dy="2">2</tspan></text>
<rect x="281.4" y="296.6" width="18.4" height="9.2" fill="url(#gCO2)" stroke="#e7c9e7" stroke-width="0.8"/>
<text x="302.4" y="303.8" font-size="7.6" font-weight="bold" fill="#111">CO<tspan font-size="5" dy="2">2</tspan></text>
<line x1="279.9" y1="317.0" x2="299.9" y2="317.0" stroke="#c4457d" stroke-width="1.1"/>
<circle cx="289.8" cy="317.0" r="1.7" fill="#e59ab9" stroke="#c4457d" stroke-width="0.8"/>
<text x="301.8" y="319.7" font-size="7.6" font-weight="bold" fill="#111">He/N<tspan font-size="5" dy="2">2</tspan></text>
<line x1="279.9" y1="332.8" x2="299.9" y2="332.8" stroke="#3f8d57" stroke-width="1.1"/>
<circle cx="289.8" cy="332.8" r="1.7" fill="#2f6e45" stroke="#3f8d57" stroke-width="0.8"/>
<text x="301.8" y="335.5" font-size="7.6" font-weight="bold" fill="#111">He/CH<tspan font-size="5" dy="2">4</tspan></text>
<line x1="279.9" y1="348.4" x2="299.9" y2="348.4" stroke="#ababab" stroke-width="1.1"/>
<circle cx="289.8" cy="348.4" r="1.7" fill="#dddddd" stroke="#ababab" stroke-width="0.8"/>
<text x="301.8" y="351.1" font-size="7.6" font-weight="bold" fill="#111">H<tspan font-size="5" dy="2">2</tspan><tspan dy="-2">/N</tspan><tspan font-size="5" dy="2">2</tspan></text>
<line x1="279.9" y1="364.1" x2="299.9" y2="364.1" stroke="#4a4a4a" stroke-width="1.1"/>
<circle cx="289.8" cy="364.1" r="1.7" fill="#6a6a6a" stroke="#4a4a4a" stroke-width="0.8"/>
<text x="301.8" y="366.8" font-size="7.6" font-weight="bold" fill="#111">H<tspan font-size="5" dy="2">2</tspan><tspan dy="-2">/CH</tspan><tspan font-size="5" dy="2">4</tspan></text>
<line x1="279.9" y1="379.5" x2="299.9" y2="379.5" stroke="#c9a673" stroke-width="1.1"/>
<circle cx="289.8" cy="379.5" r="1.7" fill="#d9bb90" stroke="#c9a673" stroke-width="0.8"/>
<text x="301.8" y="382.2" font-size="7.6" font-weight="bold" fill="#111">CO<tspan font-size="5" dy="2">2</tspan><tspan dy="-2">/N</tspan><tspan font-size="5" dy="2">2</tspan></text>
<line x1="279.9" y1="395.0" x2="299.9" y2="395.0" stroke="#5db5da" stroke-width="1.1"/>
<circle cx="289.8" cy="395.0" r="1.7" fill="#8ccbe6" stroke="#5db5da" stroke-width="0.8"/>
<text x="301.8" y="397.7" font-size="7.6" font-weight="bold" fill="#111">CO<tspan font-size="5" dy="2">2</tspan><tspan dy="-2">/CH</tspan><tspan font-size="5" dy="2">4</tspan></text>
<g clip-path="url(#cD)">
<ellipse cx="490.5" cy="316.8" rx="55.5" ry="10.8" transform="rotate(27.2 490.5 316.8)" fill="#fbcfcf"/>
<line x1="411.9" y1="252.2" x2="555.2" y2="415.2" stroke="#1a1a1a" stroke-width="1.05"/>
<line x1="431.3" y1="252.2" x2="581.3" y2="415.2" stroke="#b3bd5c" stroke-width="1.1" stroke-dasharray="1.7,2.6"/>
<polygon points="473.90,285.40 477.10,288.60 473.90,291.80 470.70,288.60" fill="#67b097"/><polygon points="471.88,288.60 474.16,287.28 474.16,289.92" fill="#fff"/>
<path d="M464.56,295.04 L470.05,295.04 L469.08,298.47 L465.52,298.47 Z" fill="#67b097"/><ellipse cx="467.3" cy="295.04" rx="2.75" ry="1.24" fill="#67b097"/><ellipse cx="467.3" cy="295.18" rx="1.65" ry="0.69" fill="#fff"/>
<polygon points="521.10,300.25 524.00,302.36 522.89,305.77 519.31,305.77 518.20,302.36" fill="#67b097"/>
<polygon points="445.80,324.50 443.03,319.70 448.57,319.70" fill="#67b097"/><polygon points="446.15,322.12 444.96,320.06 447.34,320.06" fill="#fff"/>
<rect x="462.66" y="316.56" width="4.88" height="4.88" fill="#67b097"/>
<polygon points="474.20,324.10 476.97,328.90 471.43,328.90" fill="#67b097"/><polygon points="474.65,326.57 475.76,328.49 473.54,328.49" fill="#fff"/>
<circle cx="447.6" cy="331.9" r="2.75" fill="#a9d5c4"/><path d="M447.6,329.15 A2.75,2.75 0 0 0 447.6,334.64 Z" fill="#67b097"/><path d="M447.6,330.66 A1.24,1.24 0 0 1 447.6,333.14 Z" fill="#fff"/>
<circle cx="434.3" cy="341.7" r="2.75" fill="#a9d5c4"/><path d="M434.3,338.95 A2.75,2.75 0 0 0 434.3,344.44 Z" fill="#67b097"/><path d="M434.3,340.46 A1.24,1.24 0 0 1 434.3,342.94 Z" fill="#fff"/>
<polygon points="483.30,342.75 485.94,344.28 485.94,347.32 483.30,348.85 480.66,347.32 480.66,344.28" fill="#67b097"/>
<polygon points="434.70,351.30 437.90,354.50 434.70,357.70 431.50,354.50" fill="#67b097"/><polygon points="434.70,352.48 436.02,354.76 433.38,354.76" fill="#fff"/>
<polygon points="497.80,348.60 500.57,353.40 495.03,353.40" fill="#67b097"/>
<path d="M480.56,357.54 L486.05,357.54 L485.08,360.97 L481.52,360.97 Z" fill="#67b097"/><ellipse cx="483.3" cy="357.54" rx="2.75" ry="1.24" fill="#67b097"/><ellipse cx="483.3" cy="357.68" rx="1.65" ry="0.69" fill="#fff"/>
<polygon points="399.50,372.20 396.73,367.40 402.27,367.40" fill="#67b097"/><polygon points="399.85,369.82 398.66,367.76 401.04,367.76" fill="#fff"/>
<polygon points="456.00,367.60 453.23,362.80 458.77,362.80" fill="#67b097"/>
<polygon points="460.70,360.30 465.50,357.53 465.50,363.07" fill="#67b097"/>
<polygon points="459.50,387.00 462.70,390.20 459.50,393.40 456.30,390.20" fill="#67b097"/>
<polygon points="524.30,313.50 519.50,316.27 519.50,310.73" fill="#67b097"/>
<polygon points="527.50,310.45 530.40,312.56 529.29,315.97 525.71,315.97 524.60,312.56" fill="#67b097"/>
<polygon points="545.60,312.29 546.47,314.61 548.94,314.72 547.00,316.26 547.66,318.64 545.60,317.27 543.54,318.64 544.20,316.26 542.26,314.72 544.73,314.61" fill="#67b097"/>
<polygon points="541.00,315.99 541.87,318.31 544.34,318.42 542.40,319.96 543.06,322.34 541.00,320.97 538.94,322.34 539.60,319.96 537.66,318.42 540.13,318.31" fill="#67b097"/>
<polygon points="535.30,323.30 530.50,326.07 530.50,320.53" fill="#67b097"/>
<circle cx="521.1" cy="335" r="2.75" fill="#67b097"/>
<polygon points="529.50,335.80 526.73,331.00 532.27,331.00" fill="#67b097"/>
<polygon points="539.80,334.55 542.70,336.66 541.59,340.07 538.01,340.07 536.90,336.66" fill="#67b097"/>
<polygon points="533.60,342.30 530.83,337.50 536.37,337.50" fill="#bcbca6"/>
<polygon points="523.40,349.60 520.63,344.80 526.17,344.80" fill="#67b097"/>
<polygon points="517.20,361.80 514.43,357.00 519.97,357.00" fill="#bcbca6"/>
<polygon points="540.60,356.60 545.40,353.83 545.40,359.37" fill="#67b097"/>
<polygon points="550.80,356.80 546.00,359.57 546.00,354.03" fill="#67b097"/>
<circle cx="504.2" cy="374.2" r="2.75" fill="#67b097"/>
<polygon points="582.40,379.80 585.60,383.00 582.40,386.20 579.20,383.00" fill="#67b097"/>
<polygon points="573.00,390.20 568.20,392.97 568.20,387.43" fill="#67b097"/><polygon points="571.22,390.20 568.94,391.52 568.94,388.88" fill="#fff"/>
<polygon points="584.70,395.10 587.90,398.30 584.70,401.50 581.50,398.30" fill="#67b097"/>
<polygon points="566.30,411.90 563.53,407.10 569.07,407.10" fill="#bcbca6"/>
<polygon points="490.10,361.65 493.00,363.76 491.89,367.17 488.31,367.17 487.20,363.76" fill="#f2c462"/>
<polygon points="469.50,368.95 472.40,371.06 471.29,374.47 467.71,374.47 466.60,371.06" fill="#f2c462"/>
<polygon points="434.70,379.25 437.60,381.36 436.49,384.77 432.91,384.77 431.80,381.36" fill="#f2c462"/>
<polygon points="465.40,395.25 468.30,397.36 467.19,400.77 463.61,400.77 462.50,397.36" fill="#f2c462"/>
<polygon points="532.60,350.25 535.50,352.36 534.39,355.77 530.81,355.77 529.70,352.36" fill="#f2c462"/>
<polygon points="518.00,369.15 520.90,371.26 519.79,374.67 516.21,374.67 515.10,371.26" fill="#f2c462"/>
<polygon points="514.60,387.15 517.50,389.26 516.39,392.67 512.81,392.67 511.70,389.26" fill="#f2c462"/>
<polygon points="546.00,404.45 548.90,406.56 547.79,409.97 544.21,409.97 543.10,406.56" fill="#f2c462"/>
<circle cx="417.1" cy="255.1" r="3.05" fill="#2f7fe4"/>
<circle cx="490.4" cy="338" r="3.05" fill="#2f7fe4"/>
<circle cx="494.6" cy="374.3" r="3.05" fill="#2f7fe4"/>
<circle cx="547.6" cy="404.4" r="3.05" fill="#2f7fe4"/>
<circle cx="563.7" cy="399.8" r="3.05" fill="#a8283b"/>
<circle cx="450.2" cy="300.2" r="3.29" fill="url(#gRed)"/><ellipse cx="449.50" cy="299.20" rx="0.95" ry="0.70" fill="#fff"/>
<circle cx="482.6" cy="306.4" r="3.29" fill="url(#gRed)"/><ellipse cx="481.90" cy="305.40" rx="0.95" ry="0.70" fill="#fff"/>
<circle cx="531.5" cy="342.5" r="3.29" fill="url(#gRed)"/><ellipse cx="530.80" cy="341.50" rx="0.95" ry="0.70" fill="#fff"/>
</g>
<text x="487.8" y="295.6" font-size="8.8" font-weight="bold" fill="#111">This Work</text>
<rect x="396.3" y="252.2" width="201.99999999999994" height="163.0" fill="none" stroke="#222" stroke-width="1.1"/>
<line x1="395.8" y1="252.2" x2="598.8" y2="252.2" stroke="#3c3c3c" stroke-width="1.5"/>
<path d="M396.3,415.20h3 M395.00,403.79h1.3 M395.00,397.12h1.3 M395.00,392.38h1.3 M395.00,388.71h1.3 M395.00,385.71h1.3 M395.00,383.17h1.3 M395.00,380.97h1.3 M395.00,379.03h1.3 M396.3,377.30h3 M395.00,365.89h1.3 M395.00,359.22h1.3 M395.00,354.48h1.3 M395.00,350.81h1.3 M395.00,347.81h1.3 M395.00,345.27h1.3 M395.00,343.07h1.3 M395.00,341.13h1.3 M396.3,339.40h3 M395.00,327.99h1.3 M395.00,321.32h1.3 M395.00,316.58h1.3 M395.00,312.91h1.3 M395.00,309.91h1.3 M395.00,307.37h1.3 M395.00,305.17h1.3 M395.00,303.23h1.3 M396.3,301.50h3 M395.00,290.09h1.3 M395.00,283.42h1.3 M395.00,278.68h1.3 M395.00,275.01h1.3 M395.00,272.01h1.3 M395.00,269.47h1.3 M395.00,267.27h1.3 M395.00,265.33h1.3 M396.3,263.60h3 M395.00,252.19h1.3 M396.30,415.2v-3 M409.25,415.2v-1.6 M416.83,415.2v-1.6 M422.21,415.2v-1.6 M426.38,415.2v-1.6 M429.78,415.2v-1.6 M432.66,415.2v-1.6 M435.16,415.2v-1.6 M437.36,415.2v-1.6 M439.33,415.2v-3 M452.28,415.2v-1.6 M459.86,415.2v-1.6 M465.24,415.2v-1.6 M469.41,415.2v-1.6 M472.81,415.2v-1.6 M475.69,415.2v-1.6 M478.19,415.2v-1.6 M480.39,415.2v-1.6 M482.36,415.2v-3 M495.31,415.2v-1.6 M502.89,415.2v-1.6 M508.27,415.2v-1.6 M512.44,415.2v-1.6 M515.84,415.2v-1.6 M518.72,415.2v-1.6 M521.22,415.2v-1.6 M523.42,415.2v-1.6 M525.39,415.2v-3 M538.34,415.2v-1.6 M545.92,415.2v-1.6 M551.30,415.2v-1.6 M555.47,415.2v-1.6 M558.87,415.2v-1.6 M561.75,415.2v-1.6 M564.25,415.2v-1.6 M566.45,415.2v-1.6 M568.42,415.2v-3 M581.37,415.2v-1.6 M588.95,415.2v-1.6 M594.33,415.2v-1.6 M598.50,415.2v-1.6" stroke="#222" stroke-width="0.7" fill="none"/>
<text x="393.6" y="418.20" font-size="8.6" font-weight="bold" text-anchor="end" fill="#111">1</text>
<text x="396.30" y="425.4" font-size="8.6" font-weight="bold" text-anchor="middle" fill="#111">1</text>
<text x="393.6" y="380.30" font-size="8.6" font-weight="bold" text-anchor="end" fill="#111">10</text>
<text x="439.33" y="425.4" font-size="8.6" font-weight="bold" text-anchor="middle" fill="#111">10</text>
<text x="393.6" y="342.40" font-size="8.6" font-weight="bold" text-anchor="end" fill="#111">100</text>
<text x="482.36" y="425.4" font-size="8.6" font-weight="bold" text-anchor="middle" fill="#111">100</text>
<text x="393.6" y="304.50" font-size="8.6" font-weight="bold" text-anchor="end" fill="#111">1000</text>
<text x="525.39" y="425.4" font-size="8.6" font-weight="bold" text-anchor="middle" fill="#111">1000</text>
<text x="393.6" y="266.60" font-size="8.6" font-weight="bold" text-anchor="end" fill="#111">10000</text>
<text x="568.42" y="425.4" font-size="8.6" font-weight="bold" text-anchor="middle" fill="#111">10000</text>
<text x="505.5" y="437.5" font-size="9.4" font-weight="bold" text-anchor="middle" fill="#111">He Permeance (GPU)</text>
<text transform="translate(374.3,320.3) rotate(-90)" font-size="9.4" font-weight="bold" text-anchor="middle" fill="#111">He/CH<tspan font-size="6" dy="2">4</tspan><tspan dy="-2"> Selectility</tspan></text>
<rect x="605" y="254" width="76.5" height="178.5" fill="#000"/>
<rect x="602.7" y="251.8" width="76.5" height="178.8" fill="#fff" stroke="#c8c8c8" stroke-width="0.6"/>
<polygon points="611.20,252.66 614.34,255.80 611.20,258.94 608.06,255.80" fill="#67b097"/>
<text x="620.4" y="258.20" font-size="6.4" font-weight="bold" fill="#111">PIM</text>
<polygon points="611.20,260.60 614.04,262.66 612.96,266.00 609.44,266.00 608.36,262.66" fill="#67b097"/>
<text x="620.4" y="265.99" font-size="6.4" font-weight="bold" fill="#111">PFMMD-co-CTFE</text>
<polygon points="611.20,267.94 612.05,270.20 614.47,270.31 612.57,271.82 613.22,274.15 611.20,272.82 609.18,274.15 609.83,271.82 607.93,270.31 610.35,270.20" fill="#67b097"/>
<text x="620.4" y="273.77" font-size="6.4" font-weight="bold" fill="#111">PFMMD-co-PFMD</text>
<polygon points="614.34,279.16 609.63,281.88 609.63,276.44" fill="#67b097"/>
<text x="620.4" y="281.56" font-size="6.4" font-weight="bold" fill="#111">Copolymer</text>
<polygon points="611.20,283.81 613.92,288.51 608.48,288.51" fill="#67b097"/>
<text x="620.4" y="289.35" font-size="6.4" font-weight="bold" fill="#111">Hyflon AD 60</text>
<polygon points="608.06,294.73 612.77,292.01 612.77,297.45" fill="#67b097"/>
<text x="620.4" y="297.13" font-size="6.4" font-weight="bold" fill="#111">PVDC-PVC</text>
<polygon points="611.20,305.66 608.48,300.95 613.92,300.95" fill="#67b097"/>
<text x="620.4" y="304.92" font-size="6.4" font-weight="bold" fill="#111">TFC-CMS</text>
<polygon points="611.20,307.32 613.79,308.81 613.79,311.80 611.20,313.29 608.61,311.80 608.61,308.81" fill="#67b097"/>
<text x="620.4" y="312.70" font-size="6.4" font-weight="bold" fill="#111">Metal oxide/PIM-PI</text>
<circle cx="611.2" cy="318.0909090909091" r="2.69" fill="#67b097"/>
<text x="620.4" y="320.49" font-size="6.4" font-weight="bold" fill="#111">Cytop</text>
<rect x="608.81" y="323.49" width="4.78" height="4.78" fill="#67b097"/>
<text x="620.4" y="328.28" font-size="6.4" font-weight="bold" fill="#111">Trolon</text>
<polygon points="611.20,330.53 613.92,335.23 608.48,335.23" fill="#67b097"/><polygon points="611.64,332.95 612.73,334.83 610.55,334.83" fill="#fff"/>
<text x="619.3" y="336.06" font-size="6.4" font-weight="bold" fill="#111">Ultem 1000</text>
<polygon points="611.20,344.59 608.48,339.88 613.92,339.88" fill="#67b097"/><polygon points="611.54,342.26 610.38,340.24 612.71,340.24" fill="#fff"/>
<text x="620.4" y="343.85" font-size="6.4" font-weight="bold" fill="#111">P84</text>
<polygon points="614.34,349.24 609.63,351.95 609.63,346.52" fill="#67b097"/><polygon points="612.60,349.24 610.35,350.53 610.35,347.94" fill="#fff"/>
<text x="620.4" y="351.64" font-size="6.4" font-weight="bold" fill="#111">Teflon AD 2700</text>
<circle cx="611.2" cy="357.0227272727273" r="2.69" fill="#67b097"/><rect x="609.41" y="357.12" width="3.59" height="0.88" fill="#fff"/>
<text x="620.4" y="359.42" font-size="6.4" font-weight="bold" fill="#111">PBDI</text>
<circle cx="611.2" cy="364.8090909090909" r="2.69" fill="#a9d5c4"/><path d="M611.2,362.12 A2.69,2.69 0 0 0 611.2,367.50 Z" fill="#67b097"/><path d="M611.2,363.60 A1.21,1.21 0 0 1 611.2,366.02 Z" fill="#fff"/>
<text x="620.4" y="367.21" font-size="6.4" font-weight="bold" fill="#111">PIM-PI</text>
<polygon points="611.20,369.46 614.34,372.60 611.20,375.73 608.06,372.60" fill="#67b097"/><polygon points="611.20,370.61 612.49,372.85 609.91,372.85" fill="#fff"/>
<text x="620.4" y="375.00" font-size="6.4" font-weight="bold" fill="#111">Aomatic polyamide</text>
<polygon points="611.20,377.24 614.34,380.38 611.20,383.52 608.06,380.38" fill="#67b097"/><polygon points="609.22,380.38 611.46,379.09 611.46,381.68" fill="#fff"/>
<text x="620.4" y="382.78" font-size="6.4" font-weight="bold" fill="#111">PF-SPF</text>
<path d="M608.51,387.23 L613.89,387.23 L612.95,390.59 L609.45,390.59 Z" fill="#67b097"/><ellipse cx="611.2" cy="387.23" rx="2.69" ry="1.21" fill="#67b097"/><ellipse cx="611.2" cy="387.36" rx="1.61" ry="0.67" fill="#fff"/>
<text x="620.4" y="390.57" font-size="6.4" font-weight="bold" fill="#111">CA</text>
<circle cx="611.2" cy="395.9545454545455" r="2.99" fill="#2f7fe4"/>
<text x="620.4" y="398.35" font-size="6.4" font-weight="bold" fill="#111">Matrimid</text>
<polygon points="611.20,406.88 608.48,402.17 613.92,402.17" fill="#bcbca6"/>
<text x="620.4" y="406.14" font-size="6.4" font-weight="bold" fill="#111">BTPDA/BTESE</text>
<polygon points="611.20,408.54 614.04,410.60 612.96,413.95 609.44,413.95 608.36,410.60" fill="#f2c462"/>
<text x="620.4" y="413.93" font-size="6.4" font-weight="bold" fill="#111">Other membrane</text>
<circle cx="611.2" cy="419.3136363636364" r="2.99" fill="#a8283b"/>
<text x="620.4" y="421.71" font-size="6.4" font-weight="bold" fill="#111">AAO Support</text>
<circle cx="611.2" cy="427.1" r="3.23" fill="url(#gRed)"/><ellipse cx="610.51" cy="426.12" rx="0.93" ry="0.69" fill="#fff"/>
<text x="620.4" y="429.50" font-size="6.4" font-weight="bold" fill="#111">This work</text>
</svg></body></html>
